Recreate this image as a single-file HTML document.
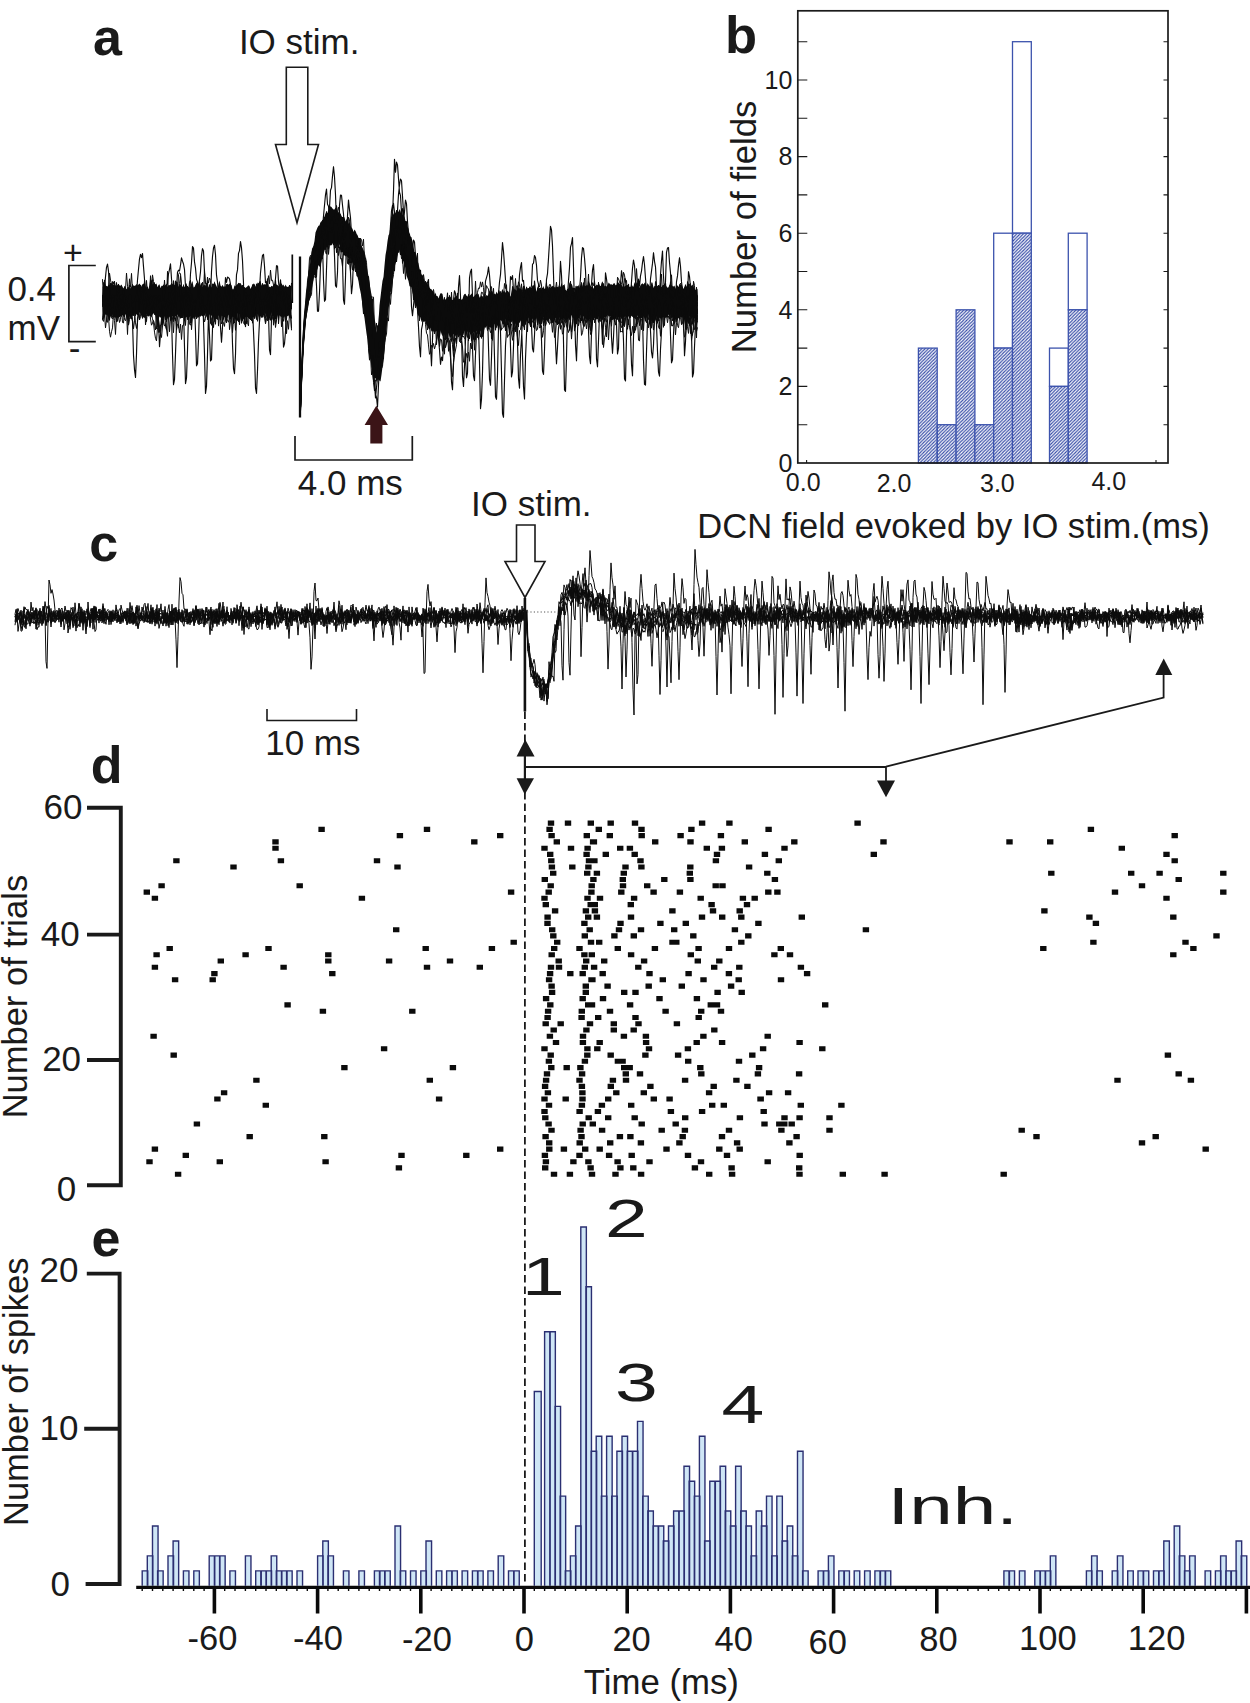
<!DOCTYPE html>
<html lang="en"><head><meta charset="utf-8"><title>Figure: DCN field and unit responses evoked by IO stimulation</title>
<style>html,body{margin:0;padding:0;background:#fff}svg{display:block}text{font-family:"Liberation Sans", Arial, Helvetica, sans-serif;fill:#1a1a1a}</style></head><body>
<svg width="1250" height="1703" viewBox="0 0 1250 1703">
<rect width="1250" height="1703" fill="#fff"/>
<defs><pattern id="hatch" patternUnits="userSpaceOnUse" width="3.3" height="3.3"><rect width="3.3" height="3.3" fill="#fff"/><path d="M-1 1L1 -1M0 3.3L3.3 0M2.3 4.3L4.3 2.3" stroke="#3349a6" stroke-width="1.15"/></pattern></defs>
<path d="M102.5 287.5l1-3.8 1-0.9 1 2.8 1 0.5 1 0.5 1-1.8 1 0.6 1-1.3 1 4.3 1-4.8 1 1.5 1-0.9 1 1.2 1 0.7 1-1.2 1-1.1 1 1.6 1 0.3 1-1.3 1 2.3 1 1.9 1-2.9 1 1.1 1 2.5 1-1.2 1-1 1 1 1 0.9 1-2.5 1-2.3 1 1.3 1 1.3 1-1.6 1-1.1 1 1.5 1-1 1-1.2 1 1.8 1 1.7 1-1.6 1-0.3 1-1.6 1 3.8 1 0 1 0.3 1 1.7 1-2.8 1-1.6 1 1.8 1-3.2 1 0 1 0.4 1 0.5 1-0.9 1 3.9 1-2.4 1-0.6 1 4 1-2.6 1 0.3 1-1.7 1 1.6 1-0.2 1-0.8 1 2 1-2 1 0.6 1-0.9 1 1.6 1-2.4 1 0.1 1 1.4 1-1 1-1.4 1-1.4 1 5.6 1-2.7 1 0 1 0.9 1 2 1-3.5 1 3.4 1-2.2 1-2 1 4.6 1-0.9 1 1.5 1-2.3 1-3 1-1.8 1 6.3 1-0.3 1-2.4 1-2.2 1 1.3 1 2.5 1-1.1 1 0.3 1 0.4 1 1 1-1.7 1-0.3 1 0.6 1 0.4 1 2 1-0.8 1-3.3 1 1.5 1 2.7 1-4.1 1 0.2 1-2.8 1 2.8 1 1.8 1 2.3 1-4.2 1-3.5 1 5 1 1.2 1-1.9 1 2 1-0.4 1 0 1-1 1-1.9 1 1.4 1-1.2 1 2 1-0.7 1 4.2 1 0 1-4 1 1.3 1-1.7 1-0.5 1-1.5 1 0.4 1-0.2 1 2 1 1.6 1 0.5 1-0.2 1 1 1-0.7 1-1 1-0.9 1 0.7 1 3.1 1-2.4 1-1.2 1-1.9 1 0.3 1 2.3 1 0.8 1-4.6 1 0.8 1-1.6 1-1.1 1 5 1-0.7 1-0.3 1-0.3 1 0 1 0.5 1 0.3 1 3 1-1.4 1 0.6 1-1.4 1 0.6 1-1.7 1-0.9 1 0.6 1 0.2 1 0.5 1 1.1 1-0.2 1 0.5 1-1.4 1 0.3 1-1 1 3.2 1-3.1 1 2.1 1 0.5 1-0.7 1 0.4 1-1.4 1 1.1 0 31.6 -1-1.4 -1 2.1 -1-3.9 -1 0.6 -1 1.9 -1 0.1 -1-1.3 -1 0.5 -1-0.5 -1 0.8 -1-0.5 -1-1.2 -1 0.8 -1-2.5 -1 3 -1-0.2 -1 1.4 -1-1.7 -1-0.3 -1-3.9 -1 3.3 -1 4.7 -1 0.4 -1-1.2 -1-2.6 -1-2.1 -1-2.4 -1 5.2 -1 0.2 -1 0.5 -1-1.9 -1 1.2 -1-0.9 -1-5.7 -1 3.9 -1 0.2 -1 0 -1 1.6 -1 0.8 -1 1.2 -1-2.3 -1 1.8 -1 0.8 -1-1.8 -1-0.5 -1 0.8 -1 1.4 -1 0.3 -1 0.7 -1-3.6 -1 0.7 -1-2.5 -1 0.6 -1-2.5 -1 7.6 -1 1 -1-4.7 -1-1.2 -1 1.9 -1 0.7 -1-1.6 -1-0.3 -1-1.1 -1 1.8 -1 5 -1-5 -1-0.6 -1 3.3 -1-3 -1 0 -1-2.9 -1-0.2 -1 3.4 -1-0.6 -1 0.9 -1-0.8 -1 6.8 -1-6.4 -1-2.2 -1 2 -1-1 -1-0.2 -1-1.7 -1 2.5 -1 2 -1-4.3 -1 3 -1-1.3 -1 1.4 -1-1 -1 1.3 -1-0.7 -1 1.4 -1 0.9 -1-3.9 -1 0.2 -1 2.7 -1-0.4 -1 0.1 -1 1.2 -1-2.2 -1 1 -1-0.6 -1 0.3 -1 0.5 -1-1.3 -1-2.1 -1-1.3 -1 3 -1 1.1 -1-2.3 -1 2.9 -1 0.4 -1-3.6 -1 2.2 -1 0.3 -1-1.9 -1 4.1 -1-3.2 -1 2 -1 1.1 -1-1.5 -1-1.3 -1 2.9 -1 1.4 -1-2.7 -1-1.3 -1 2.4 -1-0.5 -1 0.2 -1-0.8 -1-1 -1 3.2 -1-2 -1-2.4 -1 0.1 -1-0.5 -1-1.7 -1 1.8 -1 2.3 -1-0.8 -1-0.9 -1 1.2 -1-1.4 -1-2.6 -1 3.6 -1 2 -1-1.3 -1 2.3 -1-2.6 -1-3.4 -1-0.9 -1 0.5 -1 1.3 -1-0.2 -1 1.2 -1-3.2 -1 4.1 -1-0.4 -1-0.1 -1 1.7 -1-1.3 -1 2.7 -1 0.4 -1-3 -1-2.1 -1 1.5 -1 1.6 -1-2.4 -1 2.5 -1-1.1 -1 0.9 -1 0 -1 1 -1-1 -1 0.4 -1 0.4 -1-1.9 -1-2.1 -1 3.3 -1-0.8 -1-2.2 -1 4.3 -1-5.3 -1 2.5 -1-1.3 -1 2.6 -1 1.8 -1-1.9Z" fill="#0b0b0b"/>
<path d="M300.5 402.6l1-29.5 1-24.6 1-19.1 1-15 1-9.2 1-10.5 1-15 1-8.2 1-3.2 1-8.2 1-7.6 1-4.4 1-2.7 1-4.3 1-8.5 1-2.5 1-2.6 1-1.7 1-0.2 1-3.3 1-1 1-0.5 1-2.6 1-1.7 1-3.1 1-0.4 1-0.1 1-4.3 1-1.4 1-0.9 1 0.8 1 1.4 1 0.9 1 0.2 1-2.2 1 1 1 4 1-0.7 1 2.9 1-1.3 1 2.7 1 1.5 1-1 1 1 1 3.9 1-1.9 1-1.9 1 6.5 1-2.5 1 4.3 1 1.9 1 0.9 1 3.2 1-2.4 1 1.4 1 3.2 1 1 1 2.9 1 0 1 0 1 6.9 1 2.7 1 2.4 1 2 1 4 1 8.5 1 7.1 1 4.3 1 6.8 1 6.9 1 5 1 5.4 1 9.6 1 9 1 4.9 1 9.3 1-5.1 1-6.1 1-16.4 1-8.3 1-8.3 1-7.8 1-3.5 1-11.9 1-10.3 1-5.5 1-8.4 1-5.9 1-1.9 1-8.4 1-7.1 1-2.5 1-1.5 1-3.7 1 3.4 1-2.3 1-3 1 3.9 1-3.1 1 2 1 4.1 1-1 1 2.5 1-0.4 1 4.7 1-0.1 1 5.7 1 2.1 1 4.7 1 3.1 1 0.7 1 4.5 1 5 1 5.6 1-0.1 1 3.3 1 5.4 1 2.7 1 4.9 1 3.5 1 2.6 1 0.5 1 2.2 1 4.5 1-0.2 1 0.4 1 2.2 1-0.1 1 3.4 1 1.6 1 0.2 1 2 1-0.2 1 5 1-3.6 1 3.5 1-0.1 1 2.7 1-3.1 1-2.2 1-0.1 1 0.7 1 5.5 1 0.2 1-0.4 1 1.2 1-4.2 1 0.7 1 0.6 1-0.9 1 2.7 1 0.7 1 0.1 1-2.9 1-0.6 1-0.7 1-1.3 1 4.6 1-0.3 1-1.6 1 2.6 1-1 1-3.5 1-1.3 1-0.3 1 1.9 1 1 1-2.4 1 2.1 1-0.9 1-2.3 1 2.6 1 1.1 1-1 1-1.5 1-0.4 1 0.4 1-0.7 1 3.8 1-0.3 1-2.3 1 1.4 1 1.1 1-0.1 1-0.7 1-1.7 1 1 1-2.2 1-3.5 1 2.3 1-2.1 1 1.1 1 2.9 1-0.9 1 1 1-3 1 2.5 1-3.8 1 0.2 1 4.8 1-3.8 1-2.6 1 3.4 1-2.3 1 4.4 1-2.6 1 2.7 1-3.2 1 3.1 1 2.5 1-4.9 1-5.1 1 3.8 1-1.6 1 0.8 1 0.9 1-1.5 1-2.4 1 4.5 1-2 1-0.3 1 3.1 1-4.8 1-2.1 1 4.7 1-3.7 1 2 1 0.9 1-2.9 1 1.4 1 0.2 1-2.2 1-0.3 1 0.5 1 4.4 1 1.5 1-4.6 1 2.4 1-1.3 1 1.9 1-1.2 1 1.7 1-4.9 1 3.3 1-0.6 1-0.2 1-2.6 1 4 1-1.4 1-0.1 1-1.5 1-0.3 1 1.6 1-0.9 1 0.8 1-1.3 1 0.6 1 1.2 1-0.9 1-1 1-3.8 1 3.9 1-0.4 1-2.3 1 5.9 1 1.1 1-0.8 1-2.2 1-5.5 1 2.2 1-0.9 1 2.3 1 4.8 1 1.2 1-5.9 1-0.3 1 2.7 1-3.8 1 3.8 1-3.9 1-1.8 1 3.6 1 1.7 1-3.2 1 2.6 1-2.9 1 2.9 1-2.8 1 0.4 1 1 1 1.2 1-1.8 1 3.4 1-2 1-0.5 1-2.1 1 2.9 1-4.6 1 2.3 1 2.3 1-4 1-1.8 1 3 1 2.2 1-1 1 1 1-0.4 1-3.6 1 1.1 1 0.8 1-0.2 1 0.8 1-1.5 1-0.5 1 2.2 1-0.2 1-4.4 1 2.4 1 1.9 1-3.6 1 2.7 1 2.9 1-2.4 1 2.2 1-0.1 1-1.5 1 0.4 1 1.3 1 0 1 0.1 1-3.3 1 2.6 1 0.5 1-4.8 1 3.5 1-2.8 1-0.5 1 2.6 1 3.1 1-2.5 1-1.2 1-0.9 1 1.4 1-1.6 1-0.9 1 4.3 1-3.3 1 1.4 1 1.7 1 0.1 1-4 1 0.4 1 5.3 1-1.9 1-0.1 1 0 1 0.7 1 1.9 1-3.7 1 2.3 1-0.4 1 0.3 1 0.3 1-2.6 1-0.1 1 1.9 1 1.1 1-0.5 1-2.8 1 0.7 1 0 1 1.1 1 0.2 1-0.9 1 3.6 1-5.3 1 2.9 1 0.4 1-3.4 1 1.1 1 0.6 1 1.4 1 2.3 1-2.6 1-2.7 1 3.1 1-3.2 1 3.6 1 0.4 1-2.2 1 0.3 1-1.2 1 2.3 1 1.3 1 1.9 1-0.6 1-0.4 0 30.3 -1 0.7 -1 1.4 -1-3.7 -1 3 -1-3.9 -1 3 -1-3.9 -1 0.4 -1-2.4 -1 3 -1 0.2 -1-1.1 -1 3.1 -1-1.4 -1-1.6 -1 1.5 -1-1.5 -1-0.8 -1 3.7 -1-2.5 -1 4.1 -1-2.8 -1-0.3 -1 0.3 -1 0.2 -1-2.3 -1-1.7 -1 2.1 -1-1.8 -1 4.1 -1-1.5 -1 0.9 -1-0.8 -1 0.2 -1-0.2 -1 1.6 -1-0.1 -1-1.5 -1 1.9 -1-0.3 -1-2.8 -1 4.6 -1 0.8 -1 0.5 -1 1 -1-3.2 -1 0.3 -1-2.4 -1-2.1 -1-3.5 -1 6.3 -1 1.2 -1-1.8 -1-1.2 -1-0.6 -1 2.5 -1 0.2 -1 0 -1 0.8 -1-4.3 -1 2.7 -1 1.5 -1-1 -1-1.1 -1-1.4 -1 0 -1 2 -1 0.6 -1-2 -1-1.2 -1 2 -1-1.4 -1 0.3 -1-0.3 -1 2.6 -1 0.6 -1-2.2 -1-0.1 -1 0.7 -1-1.3 -1-0.9 -1 1.6 -1 2.8 -1-0.2 -1 0.7 -1-3.9 -1 0.4 -1 0 -1-0.2 -1-1.8 -1 2.3 -1 0.6 -1-0.6 -1 1.6 -1 1.8 -1 0.9 -1-2.7 -1-0.3 -1-2.4 -1 1 -1 3.4 -1-2.6 -1-1.3 -1 0.7 -1 1 -1-0.5 -1 6 -1-4.4 -1 1.6 -1-1.1 -1-0.4 -1-0.3 -1-0.1 -1-2.1 -1-0.9 -1 4.6 -1-5.8 -1 2.8 -1 0.9 -1 0.3 -1-0.4 -1 0.3 -1 1.5 -1-2.1 -1 0.3 -1-3.6 -1 3.9 -1 0.6 -1-1.5 -1 1.7 -1 0 -1 0.5 -1-1.3 -1 0.4 -1 0.2 -1-0.1 -1-0.2 -1-2 -1 3.5 -1-0.4 -1-1.9 -1-1.5 -1 0.8 -1 2.5 -1 3.5 -1-0.3 -1-1.5 -1-4.2 -1 2 -1 2.5 -1-1.4 -1 1.9 -1-2.8 -1-2.3 -1 2.2 -1 5.1 -1-4.1 -1 1.4 -1-0.9 -1 0.5 -1-2.9 -1-2.6 -1 6.4 -1-4.7 -1 0.3 -1 3.7 -1 1.7 -1 0.1 -1-9.1 -1 3.7 -1 3.8 -1 0.6 -1-0.6 -1 1.2 -1-0.5 -1-1.7 -1-0.4 -1 2.2 -1 0.5 -1 3.4 -1-4.1 -1 0.2 -1-0.3 -1-1.8 -1 0.1 -1 2.1 -1 0.6 -1-1.7 -1 0.2 -1-1.4 -1-2.9 -1 2.7 -1 4.5 -1 0 -1-0.4 -1-3.3 -1-0.8 -1 1.9 -1 3.2 -1 0.4 -1-1.3 -1 0.8 -1-1.6 -1 3.5 -1-0.4 -1 2.1 -1-1.4 -1 0.2 -1 2.4 -1-6.9 -1 2.2 -1 0.7 -1 1.5 -1-1.6 -1 4.1 -1-0.8 -1 2.3 -1-2.9 -1 2.9 -1 1.2 -1-2.3 -1 1.7 -1 0.6 -1-1.2 -1 2.6 -1 0.8 -1-0.2 -1-2.2 -1-0.8 -1-0.7 -1 2.9 -1-2.8 -1-0.3 -1 4.4 -1 1 -1-0.5 -1 0 -1 0.5 -1-3.4 -1 1.5 -1 0.7 -1-3.9 -1 2.9 -1 0.4 -1-0.9 -1 3.8 -1 0.2 -1-1 -1-3.3 -1 0.5 -1 0.4 -1-2 -1-1.9 -1 2.5 -1 3.7 -1-2.3 -1-3.4 -1-1.6 -1 3 -1 0.5 -1-1.7 -1 1.1 -1-3.3 -1 3.7 -1-3.3 -1 2.9 -1-4.3 -1 2.1 -1-1.3 -1-2.2 -1-1.3 -1-4.2 -1 1.2 -1-2.1 -1 0.5 -1 1.8 -1-4.9 -1-0.3 -1-0.8 -1-2.9 -1-8.1 -1 2.4 -1-5.4 -1-5.9 -1-3.7 -1-5.4 -1-0.7 -1-0.1 -1-5.2 -1-2.8 -1-2.9 -1-6.6 -1-4.8 -1-2.8 -1-0.9 -1-5.2 -1-1 -1-4.5 -1 2.6 -1 2 -1 4.7 -1 4.6 -1 3.9 -1 4.4 -1 5.8 -1 11.7 -1 4 -1 8.7 -1 7.6 -1 9.7 -1 8.9 -1 12.9 -1 9.4 -1 9.2 -1 7.1 -1 7.9 -1 6.9 -1-1.1 -1-0.6 -1-1.7 -1 4.3 -1-4.4 -1 0.8 -1-2.7 -1-6.1 -1-3.1 -1-7.4 -1-2.5 -1-5.7 -1-11.6 -1-6.4 -1-7.7 -1-7.6 -1-5.5 -1-7.7 -1-7.4 -1-6 -1-4 -1-6.5 -1-4 -1-1 -1-6.5 -1-3.4 -1-1.9 -1-1 -1-2.7 -1-2.7 -1 0.2 -1 0.3 -1-1.3 -1-1.4 -1 0.8 -1-0.9 -1-1 -1-2.5 -1 0.3 -1 0.2 -1-6.6 -1-4 -1 3 -1 2.2 -1-2.9 -1 0 -1-3 -1 2.8 -1 1.3 -1 0.2 -1-0.6 -1 0.4 -1 0.4 -1 1.9 -1 3.2 -1-1.3 -1 5.5 -1 1.4 -1 4.9 -1 3.9 -1 1.8 -1-2 -1 4 -1 2.3 -1 5.5 -1-2.1 -1 3.5 -1 6.5 -1 6.5 -1-2.8 -1 5.5 -1 6.5 -1 9.5 -1-1.1 -1 7.8 -1 10.3 -1 14.7 -1 14.9 -1 23.4 -1 28.3Z" fill="#0b0b0b"/>
<path d="M102.5 306.9l1-2.9 1 1.6 1-1.6 1 0.1 1 6.7 1 2 1-18.1 1 15.1 1-4.7 1-3.6 1-4.5 1-11.3 1 7 1 3.1 1-5.2 1 0.2 1 1.9 1 6.6 1-7.4 1 1.6 1 8 1 3.4 1 3.4 1-12.3 1 6.3 1-3.1 1-8 1-2.3 1-0.8 1 0 1 2.4 1 7.6 1 3.8 1-10.5 1 13.5 1-2.7 1 3.1 1-0.7 1-9.4 1 17.6 1 2.4 1-13.1 1-12.2 1 11.3 1-7.2 1 2.4 1 4.6 1 12.7 1-10.7 1 1.4 1 5.7 1-0.9 1-3.4 1 11.8 1 1 1 13.8 1-1.1 1-6.3 1-0.4 1-14.9 1 6.8 1-8.6 1 11.9 1-4 1-26 1 27.4 1-7.6 1 11 1-8.2 1-2.7 1 6.2 1 3.2 1-1.3 1 12.2 1-5.9 1 0.9 1 8 1-9 1 15.5 1-14.1 1-0.1 1-5.5 1-10.3 1-4.9 1 6.4 1-6.2 1 5.1 1-1.9 1-10.7 1 8.1 1 6.6 1 5.4 1-0.7 1-15.3 1 14.3 1-11.5 1 3.6 1-18.7 1 14.5 1-10.1 1 21.8 1 6.7 1-3.5 1-17.9 1 6.4 1-4.5 1 9.9 1-3.2 1-1.3 1 1.2 1 7 1-5.2 1 7.8 1-3.3 1-3 1-15.1 1-2.8 1-5.7 1-0.9 1 15.9 1 6.3 1-15.2 1 1 1 1.2 1 9.7 1 0.4 1 4.6 1 1.9 1-7.2 1 8.4 1-3.6 1 4.3 1 14.7 1-12.6 1 2.2 1-8.6 1-12.9 1-0.2 1-0.9 1 1.6 1 1.2 1 1.7 1 13.9 1-9.9 1 0.7 1 0.3 1 6.7 1-9.6 1 2 1 17.3 1-8.8 1-2 1-12.8 1 8.5 1-18.2 1 0 1 9.3 1 7.3 1-12.9 1 7.2 1 2.5 1 4.7 1-1.6 1-7.1 1-4.4 1-6.5 1 10 1 7.9 1-4.8 1 8 1-1.8 1-5.7 1-7.8 1-0.7 1 16.7 1-1.7 1 1.5 1 4.2 1-7.5 1 9.5 1 5.1 1-9.3 1 9.9 1-2.9 1-10.3 1-3 1 11 1-6.3 1-5.8M300.5 411.6l1-29.5 1-25.1 1-16 1-12.6 1-12.2 1-6.1 1-5.7 1-12.5 1 7.2 1-7.3 1-13.5 1 5 1-7.8 1 1.2 1 1.3 1-8.7 1-18.9 1 12.3 1-2.6 1 4.4 1-16 1 5.6 1-5.3 1-0.7 1 1.1 1-5.6 1-9.4 1 20.2 1-10.7 1-5.4 1-5.2 1-8.7 1 3.9 1 2.9 1 12.4 1-5.4 1-9 1 7.2 1-10.3 1 10.9 1 1.3 1 8.1 1-15.5 1-4.5 1 23.1 1-2.6 1-10.6 1 2.3 1 13.4 1 10.9 1-1.9 1 9 1-5 1 1.6 1 5.2 1-8.6 1 7.1 1-11.5 1-5.1 1 12.8 1-4.2 1 4 1 0.1 1 9.8 1-1.3 1 16.3 1 1.3 1 4.8 1 15.9 1-17.7 1 7.8 1-4.5 1 28.8 1 9.3 1 4.1 1 8.4 1-4 1 24.1 1-1.7 1-5 1 5.5 1-1.8 1-12.2 1-11.8 1-5 1-3.4 1-16.4 1 3.4 1-23.2 1-4.5 1 0.2 1-13.7 1-5.3 1-12.1 1 0.2 1-8.9 1-13.7 1 11.9 1-18.9 1-4.9 1 11.6 1-4.3 1 22.1 1-27 1-7.3 1 4.5 1 21 1-8.2 1-6.8 1 13.8 1-7.7 1 6.6 1 12.5 1-3.8 1 2.4 1 9.4 1 1.9 1 9.3 1-4.3 1 15.4 1-2.5 1-1.3 1 22.4 1 2.8 1 0.3 1-18 1 2.5 1 5.3 1-11.9 1 21.8 1-5.2 1-2.5 1-7.9 1 28.6 1-0.9 1-7.3 1-6.6 1 8.2 1 19.5 1-11.3 1 3.4 1 0.9 1-5 1 29.6 1-28.4 1 17.8 1-4.3 1-11.7 1 6.7 1-1 1-1.7 1-13.1 1 13 1 3.7 1-5.7 1 10.2 1-6.7 1-1 1 9.6 1-1.5 1-10.7 1 7.6 1-1 1 2.5 1-0.5 1-12.6 1-1.5 1 1.7 1-11.6 1 0.9 1 12.6 1-12.8 1 2.2 1 5.5 1-6.1 1 6.8 1-21.2 1 19.5 1-3.3 1-1.5 1 1.8 1-17.1 1 32.7 1-17.5 1-1.9 1-15.9 1 22.8 1-3.6 1-0.2 1-4.4 1 10.6 1-10.1 1-4 1 12 1-12.4 1-9 1 24.8 1-9.8 1-7.6 1 7.1 1-7 1 1.2 1-3.8 1 1 1 10.7 1-0.3 1 2.6 1 5.6 1 10 1-15.6 1 1.6 1-3.7 1-7.3 1 11.2 1-18.7 1 15.6 1 19.2 1-29.4 1 14.5 1-17 1 11.4 1 9 1-4.9 1-9 1-1.9 1 0.4 1 10.5 1-7.3 1 8.4 1 3.7 1-3.9 1 0.4 1-3 1-14.5 1 14.6 1-20.7 1 24.9 1-10.4 1-6.2 1-4.2 1 1.3 1 6.8 1-3 1-1.2 1 12.7 1-11.4 1 0.3 1-11.5 1-9.6 1 9.2 1 8.5 1-4.1 1 2.9 1 8.3 1-3.5 1-0.9 1 5.1 1-9.9 1-16.4 1 7 1 17.1 1 11.8 1 4.2 1 0.8 1-8.4 1 7.6 1 1.9 1-13.6 1 2.8 1-8.2 1 1 1 4.8 1-13.2 1 10.2 1-11.8 1 9.7 1-10.3 1 4.2 1 2.5 1-7.3 1 8.9 1-4.1 1-10.2 1-15.6 1 18.2 1-1.4 1-1.6 1 5.4 1 10.1 1 7.8 1 10.1 1-5.1 1-10 1 5.1 1-15.9 1 15.1 1 3.2 1-4.4 1-1.8 1 0.7 1 2.1 1 12.9 1 19 1-9.7 1-3.7 1-5.9 1-8.5 1 20.2 1-17.5 1-1.6 1-4.5 1 3.2 1-2.8 1 5 1-18.6 1 2.9 1 13.6 1-12.8 1-0.2 1 25.6 1-1.2 1 1.3 1-21.8 1 16.2 1-8.8 1-12.4 1 12 1 7.4 1-9.3 1-10.7 1 9.7 1 1.9 1-4.9 1 21.4 1-7.5 1-4.5 1-4 1 23 1 1.1 1-22.3 1 0.3 1 4.1 1-17 1 6.7 1 8.1 1-19.1 1 0.4 1 1.3 1 7.1 1 15.7 1-5 1-10.6 1 2.9 1 5.4 1-9.9 1-3.3 1-2.5 1-4.7 1-4.8 1-10.4 1 19.7 1 11.1 1 13 1-22.3 1 4.3 1-6.3 1-4.8 1 13.1 1-10.4 1 4 1-1.3 1 9 1 5.2 1 5.6 1-2.6 1-14.3 1 4 1 6.7 1-11.1 1 11.3 1 7.3 1-12.3 1 3.8 1-3.8 1 4.2 1 0.8 1 9.4 1 6.6 1-15.2 1 4.4 1 17.8 1-6.7 1-3 1-29 1 9.4 1 20.3 1-4M102.5 305.9l1-5.7 1-7.9 1-2.4 1 8.6 1 6.3 1 0.3 1-3.6 1-0.7 1-17.2 1 21.6 1 4 1-0.2 1 7.3 1-13.8 1 9.3 1-6.8 1 2 1-7.4 1 3.8 1 11.3 1-17.7 1 2 1 0 1 12.7 1 22.8 1-22.9 1-17.8 1 16.3 1-4.6 1 6.2 1 1.2 1-7.8 1 2.8 1-7.1 1 7.3 1 0.3 1 11.6 1-3.4 1-9.4 1-1.1 1 5.4 1 1.9 1-14.9 1 0.3 1 16.8 1-16.8 1 1.7 1-11.3 1-6.6 1 17.9 1 1.1 1 4.5 1-0.9 1 8.2 1-12.2 1 6.4 1-8.6 1 1.9 1-4.9 1-0.9 1 2.1 1-0.1 1-2.7 1-3.7 1 7.9 1-0.8 1-10.7 1 9.2 1 4.2 1 12.7 1 8.4 1-17.9 1 9.5 1-11.2 1 4.1 1-7.6 1 5.7 1 14 1-8.7 1-0.1 1 3.9 1 4.8 1-24 1-4.6 1-3.5 1 18.6 1 7 1-14.7 1-4.8 1 3.1 1 8.2 1-7.8 1 5.2 1-1.8 1-15.6 1 4.5 1 17.3 1-1.2 1-16.7 1-5.1 1 9.7 1-22.2 1 25.1 1 9.6 1-23.9 1 22.1 1 3.8 1 17.1 1-4.3 1-3.3 1-1.9 1 0 1-2 1-2.5 1-7.7 1 2.5 1 10.4 1 5.5 1-10.7 1 1.1 1-10.9 1 6.2 1-12.7 1-8.8 1 9.3 1 7.7 1-10.8 1-6.1 1 20.6 1-4.3 1 22.9 1-16.8 1 3.3 1-16.4 1 11.6 1 9.5 1-4.6 1-8.4 1 21.4 1-10.1 1-7 1-4.7 1 6.9 1 15.3 1-19.8 1 1.9 1-2.6 1 10.8 1-4.1 1 6.3 1 0.6 1-9.4 1 7.6 1 4.3 1-21 1 6.2 1 18 1-14.2 1 3.1 1-12 1 10 1-7.9 1 5.1 1-0.1 1-10.4 1 20.7 1-6.5 1-7.3 1 4.4 1-6.8 1 7.9 1 4.4 1 5.9 1-0.6 1-12.5 1 14.7 1-23.3 1 18 1-7.8 1-14.1 1 0.1 1 8.8 1-2.9 1 0.3 1 9.8 1 1.4 1-0.8 1 6.9 1 1.8M300.5 406.8l1-30.7 1-19.7 1-13.4 1-12.5 1-11.4 1-5.3 1-5.2 1-7.5 1-2.5 1-2.1 1-1.8 1-15.7 1-9.2 1-0.7 1-7.1 1 15.3 1-17.4 1 0.8 1 1.7 1-8.7 1-11.2 1 9.5 1-6.4 1 1.1 1-5.6 1 0.4 1 5.3 1-4.7 1-8.3 1-7.5 1-5.3 1 1.7 1 5.2 1-10.2 1 12.5 1-10.6 1 6.8 1-7.1 1 5 1 4.2 1-4.5 1 8.1 1 12.8 1-4.7 1 0.7 1-14.5 1 7.7 1-16.9 1 2.6 1 11.8 1-1.8 1 9.2 1-5.1 1 4.9 1-1.1 1 4.2 1 3.2 1-2.5 1 2 1-6.4 1 1.9 1 5.9 1-6.8 1 20 1-1.4 1 4.4 1 17.8 1-3.6 1 10 1 12.6 1-2.3 1 0.4 1 0 1 33.1 1 0.4 1-7.6 1 18.9 1-8.6 1 13.7 1 1.2 1 5.8 1-15.5 1 20.6 1-23.2 1-5.5 1-9.7 1-17.2 1-0.4 1-7.3 1 8.6 1-15.5 1-10.2 1-18.2 1 10.6 1-20.3 1 11.2 1-8.8 1-0.8 1-22.8 1 3.5 1 11.8 1 18.5 1-19.7 1-9 1 12.3 1-5.4 1-5.7 1 10.8 1 2.8 1 10.3 1 5.9 1 14.5 1-1.6 1-7.6 1 1.4 1-4.3 1-15 1 32.3 1 0 1 7.7 1-10.7 1 14.1 1 5.5 1-5.3 1-5.5 1-2.8 1 22.4 1 3.2 1-8 1 4.7 1-10.3 1-8.1 1-2.8 1 6.5 1 13.8 1-7.4 1 10.3 1 2.6 1-6.1 1-11.1 1 14.9 1 9.2 1-15 1-9.8 1 42.5 1-6.2 1-3.2 1 20.8 1-10.7 1-0.8 1-1.2 1 6 1 12.1 1-11.3 1-7.4 1 5.8 1-30.9 1 18.3 1-12.5 1 11 1-5 1 5.5 1-0.9 1-1.3 1-2.4 1 3.4 1-15.5 1 7.9 1-12.4 1 5.7 1-0.5 1-1.4 1 9 1 19.9 1-10.7 1-8.1 1-15.8 1 22 1-0.2 1-4.3 1 7.5 1-19.9 1 6.5 1-8.6 1 2.5 1 2.2 1 5.9 1 1.8 1-13 1-6.7 1 22.1 1-17.8 1 7.4 1 5 1-6.9 1-2.9 1 11.1 1-10.2 1-1.7 1-4.6 1 15.1 1-6.9 1 6.9 1-8.6 1-8.1 1-0.1 1 6.1 1-9 1 10.2 1 3 1-8.6 1-17.9 1 4.1 1 26.2 1-0.5 1 2.8 1-2.2 1 10.1 1-24.4 1-10.8 1-7.9 1 17.4 1-2.1 1 1.6 1 0.7 1-14.1 1 11.8 1-4.4 1 5.7 1-5.7 1 0.3 1 1.9 1 1.7 1-3.8 1 15.6 1-0.7 1 7.5 1-20.5 1 20 1-7.2 1 0.7 1-5.3 1 3 1-9.7 1 15.7 1-3.8 1 6.7 1 5.9 1-8.9 1 2.4 1 5.7 1 10.4 1-12 1-8.6 1 6 1-7.5 1 14.7 1-19.8 1 16.9 1 7.3 1-24.1 1 11.1 1-4.2 1-2.4 1-11 1 6.8 1-5.4 1 13.4 1 17 1-6.2 1-21.4 1-4.4 1 6.6 1 12.9 1-10.1 1-10.7 1 17.2 1 7 1-3.4 1-11 1 14 1-8.2 1-21.2 1-4.8 1 1.1 1 5.7 1 5.4 1-12 1-3.2 1 20.4 1-9.6 1-11.9 1 3 1-4.7 1 12.5 1 1.2 1-9.3 1 11.4 1-2.2 1-3.3 1-2 1-2.5 1-3.2 1 15.2 1-4.7 1-2.5 1-5.5 1 2.7 1 1.8 1 3.3 1-0.8 1-3.6 1 11.9 1 9.8 1-10.3 1 11.8 1-8.9 1 1.3 1-13.1 1 12 1-13.6 1 8.1 1-6.4 1-13.6 1 0.3 1 24.5 1 5.9 1 6.8 1-0.5 1-26.3 1 15.6 1-8.5 1 1.2 1-1.5 1-1.4 1 0.5 1 14.3 1-7.4 1-7.8 1 0.4 1 10.8 1 1.1 1-2.7 1-11.5 1 11.3 1-0.6 1-8.3 1 13.8 1-7.2 1 0 1-0.9 1 21 1 8.7 1-9.5 1-2.2 1-16.2 1 4.6 1-3.4 1 14.1 1-8.7 1-3.5 1 1.2 1-1.3 1 15.2 1-12 1-8.2 1 2.6 1 5.3 1-16.2 1-6.4 1-10.7 1 20.6 1 7.9 1-0.8 1 5.5 1 9.4 1-20.1 1 19.4 1-8.9 1 5 1 0.9 1 10 1 1.1 1-5.7 1-11.6 1-6.2 1 12.5 1 9.7 1-5.8 1-2.3 1 9.3 1-14.7 1 7.9 1 11.7 1-1.2 1-11.8 1 5.7M102.5 319.8l1-4.4 1-0.9 1 13.4 1-8 1-6.6 1-7.2 1 12.8 1-8.7 1-0.8 1 5 1 0.1 1-0.9 1-5.7 1 1.7 1-3 1-1.5 1-4.5 1-7.2 1 9 1 1.9 1-12.8 1 7.9 1-9.9 1-16.4 1 13.2 1 14.1 1-3.5 1 11 1 11.1 1-16.3 1-0.8 1 6.6 1 7.2 1-3.5 1-7.9 1-0.1 1-2.8 1-6.7 1 2.7 1-10.8 1 14.5 1-3.6 1 27.5 1-8.5 1-15.2 1 8.4 1 0.3 1 9.1 1 6.1 1-2.2 1-2.5 1 3.4 1 6.1 1-12.3 1-2.4 1 8.9 1 7.7 1 1.7 1 3.9 1-11.5 1-4.9 1 5 1-1.3 1 4.5 1 7 1-23.3 1 18.8 1-13.4 1-13.6 1 11.3 1-3.6 1-3.4 1-7.7 1-1.6 1 12.9 1-6.1 1 3.6 1 0.2 1 1.5 1 4.4 1-5.3 1-4.6 1-7.4 1 6.1 1 14.6 1-15.5 1-5.1 1 8.5 1-13.3 1 0.1 1 1.9 1-4.2 1-4.3 1 3.1 1-6.3 1 5.2 1 7.5 1-10.2 1-3.6 1 7 1 14.4 1-2.1 1 3.7 1-7.2 1-6.7 1 5.7 1 3.5 1 17.3 1 5.9 1-0.1 1-3 1-0.5 1-8 1 0.6 1 5.5 1-17.1 1 1.1 1 10.4 1 10 1-2.3 1 1.3 1 3.5 1-11.1 1-19.1 1 6 1-6.4 1 4.9 1 6.6 1 6.7 1 18.7 1-12.8 1-2.7 1-3.4 1-21.3 1 6.6 1 1.3 1 9.5 1-0.7 1-8.9 1 14.7 1-2.6 1-7.5 1 4 1 0.6 1 13.3 1 3.1 1-22.2 1 16.3 1-11.5 1-3.4 1 4.7 1-11.4 1 9.8 1-20 1-0.4 1 2.6 1 21 1 0.2 1-2.7 1-0.7 1-2.6 1 11.2 1 7 1-5 1-1.8 1-0.4 1-4.3 1 8 1-12.7 1 8.3 1 4.7 1-4.9 1 8.1 1-6.1 1-6.2 1 2.9 1-1.2 1-6.6 1-4.5 1-3.4 1 18.8 1-20.2 1 2.4 1 15.5 1-4.2 1-2.6 1-3.9 1 10 1 3.6M300.5 408.5l1-29.5 1-20.5 1-19.7 1-11.5 1-9.6 1-10.1 1-1 1-4.5 1-20.8 1 2.7 1-3.3 1 1.3 1-13 1-8.7 1 0.5 1 1.7 1-16.5 1-7.8 1-3.5 1-11.1 1 13.8 1 14.5 1-12.4 1 5.7 1-10.2 1 0.5 1 7.2 1 6.4 1-9.6 1 2.8 1-0.3 1-6.6 1 9.7 1-10.9 1 3.3 1 15.2 1-9.8 1-8.1 1 3.7 1-8.4 1 10.9 1-3 1 11.9 1-10 1 11.6 1-3.2 1 4.5 1 11.6 1-22.4 1 1.1 1-1 1 4.8 1 4.8 1-3.5 1-2.8 1-6 1 3.9 1 5.8 1 5 1 0.9 1 8.2 1 13.1 1 8 1-4.9 1 21.4 1 3.4 1 6.5 1-2.2 1 7.1 1 10.7 1-2 1 1.4 1 23.2 1 10.3 1 5 1 10.2 1-1.7 1-24.5 1 9.2 1-6.5 1 0.2 1-3.1 1-12.2 1-10.2 1-15.2 1-16.8 1-9.7 1-8.5 1-20.4 1-0.2 1 2.3 1-9.8 1-14.2 1-6.3 1 17.6 1-9.9 1 17.2 1-20.6 1 6.6 1-9.5 1 2.5 1 7.5 1 4.9 1 16.1 1-3.2 1-15.2 1 13.6 1 7.7 1-2.6 1 8.6 1 15.9 1-19.8 1 18.5 1 12.8 1-17 1 24.3 1 6.6 1-4.9 1 0.7 1-7 1 7.6 1-0.7 1-10.1 1 7.1 1-11.5 1 0.4 1-4.5 1 5.1 1-1.6 1 20.8 1-15.5 1 22.1 1-5.8 1 3.1 1 13 1-13.2 1 8.1 1-2.5 1-3.8 1 2.9 1 8.4 1 1.6 1-12.9 1 5.3 1 16.6 1-12.5 1 16.1 1-17.8 1-1.7 1-16.3 1 9.5 1-6.2 1 2.7 1 7.7 1-4 1-12.5 1 4.5 1 7.4 1-10.8 1 0.7 1 34.3 1-7.1 1-16.3 1 0.4 1 2.6 1-7.2 1 3.8 1-13.9 1 0.4 1 21.3 1 17.9 1-29.2 1-13.2 1 29.7 1-2.9 1-5.4 1 13.4 1-6 1-3.5 1 13 1-4.4 1-4.5 1 2.5 1-4.3 1 0.8 1-22.2 1 4 1-4.1 1 4.5 1-5.9 1 17.6 1-5.6 1-2.6 1 6.9 1 1.5 1-6.7 1-15.6 1 14.3 1-3.9 1-7.1 1 7.6 1-10.8 1 9.5 1 4 1-1.4 1-7.2 1 17.3 1 2.8 1 5.4 1-3.6 1-2.1 1 6 1 7.1 1-9.2 1-0.1 1-2.1 1-10.5 1-4.1 1 10.3 1-10.5 1-9.3 1 12.8 1 11.7 1 1.4 1-27 1 0.9 1 10.1 1-3.2 1 2.9 1-0.9 1 9.5 1-6.2 1 14 1-4.8 1 0.8 1 7.2 1-1.3 1-13.7 1 0.3 1 0.6 1 1.1 1-1.5 1 9.9 1-9.1 1 9 1-3.3 1-3 1-1 1 5.8 1-2.6 1-0.2 1-8.9 1-14.1 1 21.8 1 2 1-9.8 1 1.3 1 4.4 1 1.6 1 4.5 1 1.2 1 8.6 1-1.5 1-20.4 1 5.1 1-0.9 1 12.6 1 3.4 1-4.1 1-6.6 1 17.3 1-14.1 1-12.1 1 14.2 1-22.1 1 19.1 1-14.7 1 2.7 1 3.1 1-5.3 1-2.5 1-2.6 1 7.2 1-7.5 1 1.9 1-8 1-7.3 1 5 1 15.4 1-4.9 1-3.4 1-11.9 1 25.2 1-14.6 1-2 1-1.2 1 11.4 1-8.7 1 11.5 1 4.7 1-16.8 1-1.4 1-7.8 1 7.2 1 11.8 1-0.4 1-9 1 11.3 1 2.1 1-4.5 1-13.7 1 0.4 1 17.1 1-8.5 1-0.1 1 2.8 1-2.6 1 0.8 1 8.8 1 10.2 1 2.3 1-5.5 1-2.5 1 5.9 1-7.2 1-1.8 1-1.8 1-9.6 1 8.7 1-2.4 1-2 1-1.8 1-5.5 1-8 1 16.9 1-3.2 1-9.2 1-4.4 1 8.7 1-10.5 1 5.1 1 3.8 1 11.8 1-14.3 1 9.7 1 0.8 1 7.5 1 11.1 1-6.2 1-2.3 1 8.8 1-18.5 1 7 1-6.3 1 1.2 1 0.5 1 6.2 1 9.2 1 1.4 1-13.9 1 2.9 1-13.1 1 1.1 1-1.8 1 7.1 1 4.5 1 7 1-6.9 1 3 1-8.6 1 14.3 1 1.5 1-1.5 1-7.6 1-7.8 1 2.6 1 6.2 1-11.5 1 12.2 1-3.2 1-5.1 1-10.9 1 6.8 1-0.3 1-13.7 1 8.9 1 8.2 1-4.5 1-20.7 1-0.6 1 18.3 1 9.8 1-9.1 1 3.2 1-2 1-0.2 1 10.7M102.5 296.4l1 21.9 1-10.4 1 3.6 1-6 1 8.5 1 3.1 1 14.1 1 6 1-5.4 1-3.9 1-14.6 1-5.9 1 8.8 1 5.8 1-7 1 2.4 1-1.2 1-22.6 1 5.2 1 13.9 1-1.2 1-11.9 1 5.5 1 9 1 3.8 1 7 1-5.6 1-7.2 1-4.9 1 4 1-10.4 1 11.3 1 10.8 1 5.6 1-5.9 1-11.5 1 8.2 1-9.8 1-22 1 10.9 1 5.7 1-14.1 1 12.4 1-13.9 1 11.4 1 7.8 1-12 1 12.5 1-1.3 1-6.1 1-3.7 1 6.9 1 3.9 1-14 1 1.3 1 12.8 1-12.3 1 9.1 1-15.5 1 7.3 1 9.2 1-4.5 1-2.2 1 6.7 1 5.3 1-10 1 8.9 1 4 1 3.7 1-11.3 1 11.9 1-7.3 1-7.3 1 0.8 1 9.6 1-3 1 3.8 1-6.4 1 9.3 1-8.5 1 0.9 1 0.1 1 15.2 1-15.6 1-3.5 1-1.3 1 5.8 1 10.2 1 1.9 1-16.6 1 4 1 5.2 1-7.2 1-2.3 1 2.3 1-4.7 1-4.9 1 12.6 1-15.5 1 6.9 1-3.2 1 11.6 1 0 1-3.2 1 5.4 1-10.3 1-3.3 1 15.8 1 9.6 1-8.6 1-0.4 1 3.7 1-7.6 1 6.5 1-2.8 1-4.7 1-5 1-6.1 1 4.7 1 4.4 1 4.8 1 3 1-19 1 8.4 1 6.4 1-1.8 1 4.8 1 2.7 1-17 1-0.9 1 15.4 1-1.4 1-5 1-15.9 1 17.2 1-0.4 1-9.6 1-11.1 1 6.8 1 2.5 1 11.6 1 10.5 1-12.2 1-2.1 1 0.9 1-2.7 1-8.6 1 2.5 1 17.9 1-10.3 1-4.6 1 16.5 1-12.3 1 13.1 1-5.9 1-10.6 1 9.2 1-3.8 1-5.7 1 7.3 1-3.7 1 2.9 1-4.6 1-7.7 1 13.2 1-9.1 1-3 1 12.8 1-15.2 1 8.5 1 21.2 1-9.1 1 11.4 1-7.9 1-10.3 1-4.4 1-1.9 1-7.4 1 1.5 1 11 1 1.9 1-1.9 1 1.2 1 24.4 1-13 1 8.6 1-15.5 1-2.3 1 16.5M300.5 402.9l1-24.3 1-23 1-17 1-11.8 1-6.7 1-6.4 1-12 1-6.3 1-1.9 1 2.7 1-14.6 1-8.1 1 3.4 1-3.9 1 1.2 1-18.9 1 5 1 0.8 1-3.1 1-11.4 1-14 1 16 1-3.5 1 2 1 5.5 1 1.6 1-18.7 1-8.9 1 4.2 1 9.6 1 2.4 1-1.2 1-16.8 1 4.8 1-3.5 1 5.2 1 0.2 1-1.9 1-3.8 1 15 1-3.4 1 13.3 1-5.4 1-0.9 1 10.1 1-9.3 1 9 1-5 1 6.2 1-6.2 1 0.6 1-0.1 1 8.7 1 1.1 1-9.1 1 22.2 1-7.1 1 3.4 1 12.2 1-2.3 1 15.4 1-16.4 1 26.4 1 3.1 1 6.3 1 10.6 1-4.2 1 17.3 1 11.5 1 7.1 1-1.6 1-4.1 1 16.2 1 4.1 1 3.9 1 2.1 1-11.8 1 7 1 7.2 1-16.9 1-22.1 1 9.3 1-30.2 1-8.2 1-11.1 1 4.7 1-16.1 1-21.4 1-3.8 1 8.2 1-3.3 1-15.6 1-12 1-12.8 1-11.9 1 5.8 1 4.8 1-7.4 1-4 1 25.8 1-21.2 1 22 1 7.2 1 16.2 1 14.4 1-17.2 1 5.6 1 2.6 1 0.6 1 4.6 1-2.6 1 16.8 1-3.2 1 5.8 1 10.4 1 1.7 1-4.4 1 5.3 1 15.5 1-12.6 1-0.6 1-7.5 1 4.6 1 1.1 1 10.8 1-4.7 1-4.5 1 5.4 1 2 1 7.5 1 6.3 1 2.6 1-9.3 1 12 1-9.2 1 20 1-12.8 1 8.7 1-9.1 1-4.5 1-6 1 11.4 1 6.5 1-0.8 1 9.6 1-3.8 1-4.8 1-0.8 1 10.6 1 9 1 14.4 1 4.3 1-14.1 1-7.4 1-5.1 1-5.2 1-14.7 1-18.6 1 20.4 1 10.9 1-1.8 1 6 1 15.3 1-1.1 1 0 1-7.7 1 4.4 1-5.8 1 9.2 1-18.3 1 5.8 1-14.4 1-0.9 1 16.7 1-21.5 1-8.4 1 1.7 1 14.9 1-9.5 1-18.1 1 10.7 1 16.7 1-12.2 1-2 1-8.4 1 0.9 1 0.6 1-5.4 1 0.4 1-4.1 1 0.5 1 12.5 1-5.7 1 6.2 1 1.8 1-2.7 1 3.5 1 6.3 1-9.3 1 11.5 1-2.3 1-0.4 1-1.1 1-6.5 1 7.3 1-2.9 1-2.6 1 4.5 1-17.8 1 15.3 1 8.4 1 7.3 1-7.2 1-19.1 1 9.5 1 1.1 1 12.2 1 8.7 1-15 1-0.9 1-7.1 1-11.6 1 13.5 1 5.6 1-34 1 18.7 1-11.5 1 7.9 1-5 1-1.2 1 15.1 1-10.4 1 13.6 1-18.6 1-0.1 1 1.1 1 7.1 1-11.3 1 19.7 1 6.5 1-1.9 1 11.6 1-6.5 1-12.9 1-8.7 1-1 1 9.7 1-3.6 1-6.6 1 5.4 1 5.5 1-4.2 1-2.8 1-11.1 1 10.4 1-17.5 1 20.5 1 10.1 1-10.9 1 7 1-11.5 1 11.1 1-0.8 1 1.9 1 1.6 1-0.3 1-19.6 1-2.1 1-12.2 1 4.5 1-0.6 1 0.3 1-4.5 1 18.9 1 3.2 1-13.2 1 3.7 1 10.9 1-10 1-0.8 1-2.6 1 22.1 1 2.3 1-3.1 1-14.9 1 1 1 9.4 1-13.3 1-3.9 1 8.7 1 11 1-3.2 1 1.8 1-6.5 1-1 1 2.2 1 5.5 1 6.3 1-11.2 1 10 1 1 1 7.6 1-5.9 1-5.9 1 9.2 1 9.8 1-27.6 1-5.6 1 20 1-6.7 1 9.2 1-15.4 1 5.7 1 2.2 1 6.3 1-7.3 1-13.7 1-0.8 1 4.7 1 14.3 1 0.4 1-2.6 1 5.4 1-7.8 1-2.5 1-2.2 1 16.3 1-9.7 1 7.7 1 4 1 4.2 1-9.2 1 7.5 1-7.8 1 4.3 1-6.5 1 0 1-3.5 1-12.1 1-8.5 1 2.6 1 9.5 1-10.2 1 6.7 1 10.1 1-15.7 1-14.4 1 20.5 1-12.8 1-0.6 1-1.7 1 20.1 1-4.8 1-4.7 1 3.4 1-6.2 1 13 1-15 1 7 1-1.9 1 7.5 1 4.3 1-4.4 1 13.6 1-20.6 1-0.4 1-6 1-0.8 1 9.3 1-8.8 1 19.4 1-12.4 1 7.6 1 4.3 1-9 1 6.4 1 10.9 1 2.2 1-9.6 1-12 1-0.7 1 2.5 1 20.4 1 8.9 1-2.3 1-11.7 1-2.4 1-11.4 1-15.9 1-3.3 1 12.5 1-2.5 1 3.2 1-11.8 1 17.8 1 15.2 1-9.5M102.5 281.7l1 0.8 1 12 1-2.1 1-1.1 1 9.4 1 6.9 1 0.8 1-8.9 1 5 1 1.3 1 4.4 1-14.7 1-8.1 1 13.7 1-4.4 1-1.7 1-1.8 1 10.8 1-6.1 1 4.8 1-2 1-2.5 1 13.3 1-12.1 1-0.9 1 4.6 1-17.9 1 1.7 1-13.5 1 17.4 1 11.5 1-5 1-6.7 1 1.1 1-1.8 1 3.7 1 2.2 1-9.9 1 14.8 1 3.2 1-6.4 1 16.3 1 2 1-14.8 1 6 1-16.6 1-1.4 1-7.4 1 9.1 1 11.4 1-10.2 1-9.3 1 29.9 1 16.4 1-4.7 1-20.2 1 3 1-8.5 1 5.5 1 4.2 1 14 1-11.3 1-0.2 1-19.1 1 4.8 1-2 1 0.1 1 2 1-4.6 1 7.9 1 4.2 1 7.2 1 4.9 1-10.7 1-19.5 1 8.8 1 12.9 1 9.7 1-3 1 3.6 1-15.2 1-10.5 1 9.7 1-14.3 1 6.1 1 11.9 1-4.7 1 11 1-8.4 1 14.2 1-19.6 1 18.5 1-14.3 1 10.6 1-7.6 1 10.3 1-33.9 1 7.5 1 18.8 1-9.3 1-3.9 1 5.2 1 12 1-16.3 1-4.2 1 3.5 1 7.1 1-5.3 1-9 1 8.7 1 6.2 1 4.8 1 2 1-17.4 1 7.4 1 1 1 13.2 1 4.1 1-8.7 1 0.5 1 9.8 1-6.8 1 7.5 1 2.8 1-9.7 1-8.2 1 24.7 1-8.7 1-6.1 1-7.2 1-4.9 1-1.7 1 3.8 1-14.6 1 0.5 1 1.1 1 6.2 1 0.4 1-4.2 1-9.1 1 7.9 1 2.7 1 4.5 1-1 1 11.1 1-8.5 1 3.9 1-6 1 21 1-8.1 1-2 1 1.4 1-1.3 1-3.7 1 6.4 1-17.5 1 1.8 1 4 1 2.6 1 3.9 1 6.6 1-1.1 1 4.3 1-8 1 10.7 1-5.2 1-0.6 1-21.6 1 8.8 1-1.3 1-11 1 15.5 1 6.2 1 4.1 1-2.3 1 3.2 1-24.4 1 11.9 1-20.3 1 5.3 1 2.1 1 9.2 1 2 1 0.7 1-11.4 1 2 1 1.5 1 12.1 1-5.9M300.5 411.6l1-32.8 1-28 1-13.8 1-16.8 1-5.9 1-13.9 1-14.1 1-2.8 1-15.3 1-10.8 1 3.3 1 4.3 1-4 1-2.9 1 1.2 1-6.6 1-3.6 1-6.3 1 5.1 1-17.4 1 2.5 1 6.5 1-3.2 1-3.3 1-3.9 1-4.7 1 4.1 1-7.2 1 2.6 1-3.1 1 11.9 1 7.6 1-4 1-2 1-2.7 1-3.7 1 6.3 1-10.2 1-6.2 1 9.7 1 8.3 1 4.9 1-9.2 1-9.9 1 6.8 1 1.8 1-9.3 1 14.8 1-3.4 1 10.8 1-11.6 1 1.6 1 9.2 1 8.5 1-8.8 1 14.7 1 6.5 1-21.6 1 15.3 1 11 1-4 1 9.3 1 5.2 1 3.4 1 10.7 1 10.3 1 6.5 1 10 1 5.2 1 18.2 1 3.8 1 15.3 1 20.9 1 8.3 1-11.1 1 0 1-7.8 1-17.1 1-15.7 1-7.6 1-5.2 1-12.4 1 5.6 1-4.3 1-12.9 1-17.9 1-17.5 1-0.9 1-7.5 1-2.5 1 7.7 1-17 1-12.5 1-5.3 1 9 1-9.9 1-3.1 1 21.7 1 3.5 1 4.7 1-12 1 11.2 1-8.3 1 0.6 1-15.7 1 12.8 1 16.4 1 0.8 1-11.7 1 27.3 1-1.1 1 9 1 13.4 1 1.4 1 8.8 1-4.9 1-17.5 1 4.4 1 16.3 1 2.1 1-1.2 1-1.1 1 3.6 1 7.1 1-6.7 1 11.5 1 8.5 1-7 1-7.9 1 2.1 1-14.7 1 7.7 1 10.4 1 4.2 1-10.5 1 8.6 1-7 1-8 1 11.8 1 1.9 1-3.7 1-8.7 1 10 1-5.8 1 10.1 1-10.1 1 17.7 1-6.8 1 8.5 1-13.9 1 14.5 1-0.6 1 18 1-26 1-8.2 1 18.2 1-6.7 1-25 1 13.7 1 11.1 1 10.1 1-9.8 1-21.8 1-4.1 1 34.7 1-4.9 1-1.8 1-15.6 1-5.4 1-4.4 1 0.1 1 5.5 1 4.4 1 10.2 1 14.6 1-11.8 1-5.4 1 16.8 1-8.4 1-16.1 1-18.6 1 25.9 1 1.8 1-19.6 1 13.5 1-11.1 1-4 1 8.1 1 0.6 1 3.1 1 13.3 1-15 1 2.5 1-2.5 1-0.9 1-4.4 1 3.8 1 3 1-0.8 1-19 1 2.7 1-1.7 1 1.5 1 5.8 1-4.3 1 9 1 12.7 1-2 1-7.1 1 2.6 1-8.4 1 11.6 1 7 1-25.7 1 19.4 1-10.5 1-2.9 1-2.7 1-11.6 1 0.1 1 4.4 1-2.1 1 5.8 1 0 1 26.4 1-25.5 1 9.8 1-12.3 1 13.1 1 17 1-8.4 1-13.6 1 1.2 1 14.1 1-15.5 1-3.5 1-9.5 1-2.7 1 8.1 1-9 1 20.3 1-14.9 1 11.4 1 1 1 8.2 1-19.7 1 5.4 1-10.3 1-4.7 1 0.1 1 9.2 1-7.5 1 0.1 1 20.2 1-17.5 1-7.1 1 12.1 1 13.3 1 9.2 1-8.4 1 8.6 1-6.1 1 2.4 1 0.1 1-13.6 1 9.2 1-1.7 1-2.2 1-13.1 1-10.6 1 26.7 1-5 1 3.9 1 24.3 1-7.3 1-1.6 1-6.3 1 9.9 1-4.7 1-2.9 1 17.2 1-2.7 1-6.6 1-11.6 1 6.7 1 7.8 1-9 1-4.2 1 1.3 1-9.4 1-10.6 1 2 1 4.9 1 5.6 1-11.6 1-6.7 1 5 1-12.1 1 13.9 1-2.9 1-0.6 1-7 1 17.9 1 5.9 1 4 1-1.3 1-9.1 1-4.9 1 8.6 1-5.9 1 17.4 1-17.2 1-10.3 1 2.2 1 19.1 1-10.5 1 3.3 1 6.5 1 3.8 1-12.2 1 4.7 1-11.4 1 12.5 1-18 1-0.7 1 7.6 1 0.4 1 3.8 1 3.8 1-16 1 21.7 1-10.6 1 8.4 1-16 1 5.7 1 13.4 1-14.8 1 8.7 1 2.1 1-1.1 1 7.3 1-4.4 1 18.8 1-19.2 1 9 1 2.1 1-19.2 1-8.8 1 15.6 1 1.8 1-3.3 1 3.4 1-14.6 1 0.2 1 8.8 1-4.2 1-1.2 1-16 1 3.6 1 14.3 1-10.6 1-1.8 1-5.2 1 7.7 1 5.3 1-11 1 10.5 1 6.8 1 5.1 1-2.1 1-2.2 1-4.4 1-4.6 1 8.6 1 13.8 1-16.9 1 8.8 1-6 1-17.5 1-4.2 1 1.7 1 10.6 1 1.3 1-7.6 1-2.2 1 10.7 1-16.1 1 3.1 1 8.5 1-2.6 1 11.5 1 6.6 1-8.9 1-1 1 1.7 1-13.3 1 11.4M102.5 295.1l1 8.1 1-23.3 1 5.9 1 8.9 1-1 1 9.3 1 3.8 1-23.7 1 15.9 1-17.5 1 2.1 1-2.5 1 13.6 1-12.2 1 8.5 1-6.6 1 25.2 1-11.2 1 6 1-12.4 1 4.5 1 20.4 1-5.6 1-20.5 1 7.1 1 1.9 1 16.4 1-9.3 1 3.9 1 8.9 1 9.1 1-7.9 1-20.6 1-6.4 1 17.5 1 1.4 1-21.2 1 4.6 1 4.4 1-1.4 1 1.6 1-5.7 1 10 1-24.7 1 13.9 1 2 1-9.6 1 14.9 1-20.6 1-1.4 1 17.5 1-1.2 1 4.4 1 5.8 1-13.5 1 12.6 1-10.9 1-1.7 1 8.4 1-3.9 1-6.9 1 4.1 1 2 1 3.4 1-28.4 1 27.2 1-12.8 1 14 1-8 1 9.9 1-18.2 1 14.6 1-4.3 1 2.6 1 1.5 1-23.1 1-2.1 1 1.2 1 11.7 1 8.7 1 7 1 0.8 1 6.5 1-19 1 9.4 1-6.1 1-10.6 1-1.9 1 16.7 1-3.9 1 1.1 1-4.9 1-2.4 1 32.1 1-13.4 1-10.4 1 7.4 1-10.1 1-7.8 1 18.9 1-9.2 1 2 1-7.3 1 0.8 1 29.8 1-18.9 1-15.2 1 6.8 1 4.1 1 13.6 1 3.4 1-9.2 1 20 1-14.8 1-13.3 1 11.4 1 4.5 1-7.2 1-8.8 1 0.3 1-1.6 1 13.6 1 0.2 1-8.4 1-0.3 1 6.7 1 10 1-10.2 1 8 1-9.2 1 11.8 1-12.2 1 3.1 1-12.1 1 3.7 1 22.3 1-7.6 1-16.1 1 11.3 1-12.4 1 6.6 1-14.5 1 8.2 1-4 1-1.5 1 0.3 1 26.5 1-8.8 1-8.3 1-16.9 1 18.3 1 2.8 1-10 1-11.9 1 10.5 1 0.3 1-6.7 1 19.8 1 3.6 1-7.5 1-3.5 1 11.3 1 10.3 1-8.6 1-4.4 1-9.3 1 11.8 1-9.6 1 0.1 1 2 1-3.9 1 5.8 1 13.1 1-26.4 1 5 1 6.5 1 1.6 1-10.4 1 7.1 1-0.5 1-2 1-3.2 1 12.3 1-1.5 1 5.8 1-6.6 1-3.7 1 11.1 1 16.3M300.5 407.6l1-29.1 1-25.5 1-19 1-8.6 1-5.8 1-10.2 1-8.9 1 0.8 1-2.9 1-9 1-9.5 1-10.1 1-1.4 1-3.1 1-13.8 1 1.4 1 3.6 1-4.1 1-13.7 1-9.7 1 5.3 1 8.8 1-0.2 1 5.9 1-10.9 1 1 1-4.6 1 5.7 1-4.5 1-10.3 1 1.7 1 10.2 1-0.8 1 4.4 1 7.3 1-4.2 1-6.7 1 10.9 1-13.6 1-2.4 1 9.3 1-10.1 1 7.9 1-10.1 1 6.8 1-11.7 1 20.4 1 4 1-0.1 1 5.9 1-8.7 1 14.5 1 2.1 1-15.9 1 9.3 1-4.4 1 6.3 1-6.9 1 22 1-0.1 1-4.2 1 8.1 1 0.4 1 6.5 1 6.6 1-8.1 1-1.8 1 25.6 1 9.1 1-2.5 1 9.3 1-3.4 1 16.1 1 0.1 1 7.4 1 12.6 1-3.4 1 10.5 1 6 1-6.5 1-11.5 1-7.5 1-11.6 1-20.5 1 1.1 1-6.9 1-22.3 1 2.9 1-6.4 1-4.4 1-2.6 1-5.9 1-12 1 7.8 1-15.2 1-25.6 1 23.2 1-12.7 1-8.1 1 21.1 1 1.9 1-14.8 1 8.6 1 1.8 1-8.6 1-11 1 15.4 1 0.6 1 4.3 1 7.8 1 25.6 1-15.6 1 6.2 1-13.9 1 10.8 1 7.8 1 14.2 1 1.8 1 6 1 3 1-11.1 1-3.4 1-6.6 1 6.9 1 18.2 1-4.8 1 5 1-5.9 1 13.4 1-5 1 4.7 1 20.1 1-3.5 1 8.1 1-10.9 1-8.5 1 4.6 1-8.9 1 12.1 1-4.6 1 0.8 1-13.6 1 31 1-11.2 1 8.8 1-14.7 1-0.7 1 7 1-27.6 1 18.7 1-5.5 1 17.3 1-6.5 1-1.4 1-0.8 1 1 1-11.2 1 12.9 1 0.2 1-0.4 1-10.2 1 4.4 1-3.1 1 0.3 1 12.4 1-0.7 1-19.9 1-8.4 1 4.6 1-3.9 1-0.1 1 4.4 1 17.7 1-1.8 1 14 1-25 1 15.4 1 6.3 1-3.5 1-16.4 1 10 1-18.3 1 14.9 1 0.5 1 1.1 1 10.5 1 5.7 1-9 1-1.8 1-0.6 1-0.3 1 2.9 1 0.6 1-2.3 1-9.2 1 6.4 1-14.6 1-0.7 1-0.8 1 2.7 1 15.9 1-16.4 1-8.2 1-11.7 1 5 1-3.8 1 20.5 1-1.9 1 7.8 1-2.9 1-6.9 1 1.4 1-6.1 1-4.8 1-13.3 1 17.8 1-6.1 1-8.4 1 3.1 1 5.4 1 11.5 1-12 1-3.7 1 14.8 1-1.2 1 12 1-18.2 1-5.2 1 14.8 1 4.5 1-18.1 1 7.4 1 3.7 1 15.2 1 0.1 1-11.3 1-12.7 1 3.6 1 11.4 1-4.4 1-1.2 1-7.7 1 2.9 1 2.4 1 5.8 1-8 1 10.4 1-14.6 1 7.6 1-5.4 1 12.2 1-12.4 1 12.8 1 11.9 1-12.9 1 15.9 1 1.2 1-20.5 1-7.1 1 12.6 1-1.6 1 4.8 1-4.3 1 8.9 1-15.4 1-3.9 1 8.7 1 4.1 1-6.2 1 6.9 1 0.8 1 0.2 1 1 1-4.8 1 15.1 1-11.6 1 7.8 1-20.2 1 8.8 1-7.2 1-17.8 1 22.5 1-21.5 1 19.1 1-0.2 1 1.1 1-13.8 1-15.7 1 20.6 1 2.3 1 2.8 1-9 1 10.8 1 1.5 1-3 1 14 1-19.2 1-12.6 1 11.5 1 0 1 4.1 1-7.8 1 4.8 1-0.8 1 0 1 3.7 1-8.9 1 12.4 1-4.2 1 5.3 1-4.2 1 13.4 1-7.7 1-10.2 1 5.4 1 8.5 1-5.5 1-9.6 1 4.6 1-5.1 1 9.2 1-1.9 1 13 1 4.5 1-14.5 1 10.4 1-2.6 1 4.6 1-10 1 11.6 1-15 1-0.5 1 2.3 1-13.4 1-1.7 1-19.3 1 14 1 6.2 1 23.2 1-4.6 1 6.5 1-27.8 1 8.5 1 5.7 1 17.9 1-1.9 1-3.5 1-5.4 1 5.7 1-8.5 1 1.9 1-0.2 1-6 1-10.4 1 20.5 1-8.5 1-4.3 1 23.3 1-14.1 1-0.1 1-12.6 1-4.5 1 17.1 1-9 1 11 1-10.9 1 18 1-9.7 1-11.6 1-8.5 1 26.6 1-0.4 1-3.5 1 4.4 1-14 1 22.5 1-3.5 1-1.6 1-6.4 1-5.1 1 0.6 1 3.1 1-7.3 1 11.6 1 10.6 1 4.8 1-18.9 1 12.6 1-18.3 1-13.6 1 1.4 1 15 1-2.1 1-6.7 1 8.8 1-0.3 1 6.9M102.5 319.1l1-6 1-16 1 2.9 1-6.5 1-1.8 1 7.4 1 5.8 1 3.8 1-1.9 1 10.5 1-3.6 1 6.9 1 13.9 1-19.7 1 6.6 1-6.3 1 7.4 1-2.9 1-11.3 1 6.5 1-2.2 1-13.1 1 2.6 1 14.1 1-7.7 1-3.5 1 0.8 1 6.5 1-15.3 1 0.6 1-3 1-8.7 1 7.4 1 8.7 1-7.6 1-3.7 1 5.1 1 2.4 1-2.5 1 0.1 1-11.9 1 12.6 1 4.8 1-6.5 1 4 1-3.7 1 3.3 1-18.8 1 17.2 1-1 1 8.6 1 8 1-6.8 1-15.5 1 11.8 1 2.6 1 7.2 1-5.3 1-5.1 1 5 1-11.1 1-15.1 1 15.3 1 6.4 1 8.6 1-12.5 1 0.2 1-9.7 1-5 1 14.8 1-17.6 1 12.4 1 15.5 1 7.2 1-4.8 1-0.7 1-12.4 1-1.5 1 9.9 1-6.3 1-6.6 1 9.8 1-0.4 1 12.8 1-6.1 1 0.1 1 3.6 1 9.8 1-7.4 1-2 1-1.5 1-1.5 1-9.2 1 11.8 1-2.2 1 0.3 1-6.6 1-5.8 1-5.3 1 8.8 1-6.3 1-1.7 1 15.3 1-7.4 1 7.4 1 3.3 1-6 1 1.6 1 0.2 1 3.5 1 15.4 1-11.5 1-10.6 1 2.8 1-3.8 1 21.6 1-15.6 1-13.6 1 13.7 1-11.2 1 1.1 1 4.2 1-8.9 1-2.3 1-7.2 1 13.7 1-0.6 1 15.2 1-12 1-0.6 1-7.2 1 11.4 1 9.4 1-9.1 1 3.8 1 4.3 1 10.2 1-17.6 1 14.1 1-11.8 1-5.2 1 8.5 1 0.3 1 0.4 1 3.4 1-12.3 1 7.6 1-7.3 1 3.7 1 5.7 1-6 1 2.4 1-17.6 1-4.9 1 10.3 1-12.8 1 13.2 1 1.8 1-7.1 1 10.2 1-12.5 1 5 1-4.8 1-6.2 1-6.7 1 10.8 1 15.6 1-6 1-3.3 1-3.8 1-0.9 1-6.2 1 12.5 1-3.8 1 0.3 1 30.1 1-12.6 1-9.9 1 2.4 1-4.8 1-9.3 1 26.3 1-7.6 1-9.3 1-11.5 1 11.8 1-2.9 1 6.7 1-20.3M300.5 407.7l1-24.9 1-25.4 1-21.2 1-18.7 1-9.8 1-10.6 1-16.2 1-5.7 1-17.1 1-2.7 1 3.1 1-9.9 1 1.4 1-0.2 1-4.4 1-2.8 1-0.5 1-10 1 7.2 1 4.6 1-3.5 1-20.4 1 9.7 1 1.7 1 4.3 1-13.5 1-2.3 1 5.8 1 12.1 1-15 1-1 1 4.8 1-1.1 1 2.9 1-5.3 1 11 1-12.8 1 10.1 1-1.7 1 4.7 1 2.8 1-20.2 1 38.2 1-4.4 1-1.8 1-5.4 1 3.7 1-0.1 1 11.9 1 12.3 1-14 1-2.9 1 16.1 1-12 1 7.2 1 1.9 1 5.3 1 2 1 4.7 1-1.1 1 9.1 1 14.1 1 12.2 1-18.6 1 14.8 1 10.8 1-0.2 1 10.3 1 12.2 1 10.5 1 21.1 1-4.3 1-1.7 1 3.7 1-0.4 1-17 1-29.6 1 7.4 1-17.9 1 2.1 1-7.5 1-0.1 1-21.1 1-12.5 1-5.6 1-10.4 1 8.4 1 5.5 1-9.7 1 10.7 1-10.9 1-15 1 5.9 1 3.2 1-16.4 1-15.1 1 4.1 1-13.4 1 25.3 1-3.2 1-6.3 1-3.5 1 22.9 1-16.4 1 21.9 1 6.2 1 2.4 1-21.5 1 17.7 1 15.9 1-9.1 1-4.8 1-6.2 1 15.4 1 11.8 1 8.4 1-1.9 1 8.4 1 9.4 1 1.1 1-15.4 1 12.3 1-13.2 1 14.8 1 14.6 1 8.9 1 1.7 1 10 1 9.4 1-1.8 1-7.2 1 2 1-3.8 1 5.4 1-3.5 1-5.7 1-12.2 1 11.8 1-5.4 1-6.1 1-13.6 1 11.8 1-2.7 1 8.7 1 3.9 1 3 1-6.2 1-7.9 1 3.2 1 3.7 1 1.5 1 5.4 1 2.6 1-10.1 1 4.3 1-12.2 1-15.1 1 21.4 1-13 1-5.7 1 5.3 1 7.7 1-3.7 1 0.4 1 1.6 1-1.5 1-14.3 1 0.5 1-1.6 1 17.9 1-14.1 1-1.2 1 6.5 1 1.8 1-2.9 1-10 1 3.1 1-7.2 1 27.7 1-28.2 1-6.4 1 0.3 1 2.9 1 6.5 1 17.9 1-2.6 1 4.6 1-1.7 1 2.6 1-7.1 1 6.8 1-4 1-6.3 1-2.4 1-2.2 1-1.8 1-7.4 1 10 1-9.9 1-6.9 1 15.6 1 11.2 1 3.7 1-2.8 1 9.2 1-24.1 1-2.5 1-1.8 1 3 1 7.9 1 0.9 1-10.6 1-0.7 1 12.5 1-19.3 1 4.9 1 9.7 1 13.3 1-17.4 1-1.3 1 12.4 1 4.6 1-3.4 1-5.2 1 5.4 1-18.4 1-0.4 1 19.6 1-18.6 1 4.5 1 10.8 1 4.2 1-10.6 1-9 1 12.3 1 2.5 1 11.4 1-14.2 1 12.9 1-9.8 1 9.9 1-7.7 1 3.6 1-8 1 5.1 1 2.3 1-0.3 1-4.1 1-3.8 1-2.2 1 5.8 1 5.2 1-11.1 1-8 1-0.8 1-0.3 1-3.1 1 0.7 1 4 1 2 1 19.8 1-0.9 1 3.3 1-7.8 1-7.4 1-0.8 1-1 1 0.2 1 4 1 9 1 10.6 1-7.7 1-16.9 1-1 1 3.2 1-13.4 1 6.3 1 7.2 1 0 1 0.4 1 3.5 1-1.8 1 9.8 1 4.7 1-5.2 1-2.8 1-6 1 3.4 1 3.4 1-5.4 1 20.6 1-20.4 1-10.8 1 8.7 1-25.5 1 5.2 1 11.3 1-4.7 1-3.5 1-8.7 1 11.1 1-11.2 1 17.1 1 1.6 1-5.3 1 11.9 1-19.5 1 4.2 1 13.7 1 4 1-19.5 1 2.7 1 3.7 1-11.4 1 6.1 1 1 1 2.1 1 0.4 1 6.1 1-6.2 1 4.1 1 5 1-1.2 1 1.1 1 0.7 1 0.6 1 11 1-9.4 1 3.6 1 3.3 1-11.6 1-3 1-12.1 1 3.6 1 14.5 1 16.8 1-19.6 1-7.1 1 11.8 1-6.1 1-2.8 1 13.6 1-3.3 1-11.4 1-2.1 1 0.4 1 5.9 1-0.7 1-3.6 1-1.4 1 3.1 1 7.7 1-3 1 3.2 1 3.4 1 8.6 1-13.1 1 12.1 1-26.4 1 11.3 1-8.8 1-8.4 1 11.5 1 0.4 1 0.7 1-9 1 8.5 1 1.6 1 5.7 1 9.6 1 7.9 1 0.2 1-3.7 1-11.4 1-8.6 1-10 1 17.7 1-1.2 1 2.4 1-6.3 1-0.8 1 10.5 1-13.1 1 10.4 1-0.5 1 5.3 1-2 1-12.5 1 23.5 1-0.6 1 6.3 1 4 1-11.8 1-2.2 1-6.4 1 23 1-29.1M102.5 279.2l1 16.8 1-0.8 1-3.3 1-2.4 1-1.3 1-0.8 1-14.3 1 7 1 4.4 1 3.6 1-6 1 0 1 11.6 1-2.3 1 12.3 1-8.3 1 0.3 1 8.2 1-8.5 1 0.4 1 14.9 1-7 1-3.4 1-5.7 1-3.9 1 2.1 1-14 1 13.1 1 0.8 1-8.3 1 17.3 1-6.5 1-1.5 1 1.8 1 4.3 1 9.4 1-3.2 1-6.7 1-2 1 9.1 1-4.7 1-21.9 1 11.7 1 5.2 1-9.9 1 7.9 1 1.8 1-20.8 1 10.9 1-11.7 1 6.5 1 10.4 1 6.3 1 10 1-8.2 1 2.7 1-7 1 11.8 1-11.9 1 2.5 1-0.1 1-4.5 1-1 1-7.4 1 11.8 1 13 1 1 1-12.5 1-1.1 1 6.5 1 8.2 1-8.7 1 3.7 1-0.2 1-9 1 1.1 1-0.6 1 5.6 1-14.5 1 6.8 1 6.5 1-3 1 3.6 1 3.3 1-12.2 1 2.2 1-2.7 1-4.6 1 1.2 1-6.4 1 17 1 8 1-4.5 1-11.1 1 3.4 1-2.9 1 14.2 1 2.5 1-9.6 1 3.1 1 5.7 1-0.5 1-11.2 1-9.4 1-11.6 1 6 1-5.1 1 2.4 1 14.3 1-10.9 1 5.6 1 1.1 1-1.7 1 8.1 1 2.5 1 9.3 1 3.6 1 7.3 1-12.2 1-0.6 1 1.2 1 4.1 1-17.1 1 14.6 1-5.4 1 4.7 1 3.6 1-8.4 1-9.4 1-3.1 1 11.7 1 0.2 1-3.7 1 2.8 1-6.4 1-12.6 1 13.4 1 6.4 1 2.8 1 3.4 1-7.5 1 3.3 1 1.5 1-19 1 5.5 1-1.2 1-3.2 1 6.2 1-3.6 1 5.6 1 3.6 1 17.3 1-12.4 1 4.1 1 11.5 1-8.8 1-10.8 1-0.3 1 6.1 1 4.6 1-16.9 1-3.2 1 2.3 1 6.1 1-15.9 1-8.8 1 8.2 1-13.8 1 10.6 1-0.5 1 4.7 1 6.2 1 9.2 1-12.9 1 6.7 1-1.8 1 3.3 1-8.7 1 14.5 1-10.5 1 2.1 1-6.3 1 3.8 1 5.1 1-6 1 8 1 13.2 1-12.2 1 8.6M300.5 407.5l1-31.2 1-20.4 1-27.6 1-10 1-7.6 1-5.6 1-7.7 1-12.1 1-0.7 1-3.1 1-10.5 1 1.1 1-5.5 1-7.1 1 8.8 1-11.9 1 6.8 1-4.4 1-1 1-10.9 1-0.8 1-7 1-0.7 1-13.2 1 4 1-7.1 1 9 1-8.3 1-3.3 1-6.5 1 3.9 1 2.2 1 18.1 1-17.5 1-6.8 1 13.2 1 5.3 1-6.1 1-0.3 1 16.1 1-4.7 1-9.9 1 3 1 7.4 1-3.1 1 11.4 1-1.2 1 2.1 1-1.2 1-18 1 20.4 1-4.7 1-2.4 1-5.5 1 1.1 1 11.9 1-6.5 1 11.1 1-9.5 1 22 1-0.2 1 4.5 1-5.8 1 3.8 1 9.7 1-10.6 1 29.4 1 3.6 1 3.1 1 8.7 1 27.5 1 2.2 1 4.1 1-6.9 1 2.9 1 24.9 1-9.7 1-20.5 1 5.8 1-1.4 1-16.3 1 2.8 1-9.5 1-13 1-14.2 1-7.8 1-6.6 1-18.2 1 8.8 1-9.1 1-0.5 1-24.2 1 12.4 1-10.9 1 6 1-15.8 1 4.8 1 7 1-10.6 1 19.3 1 11.1 1-10.7 1-18.9 1 15.1 1 5.7 1 3.1 1-2.3 1 15.5 1 12.1 1-5.4 1 13.1 1-8.9 1 26.3 1-18.2 1-6.2 1 4.1 1 11.5 1 5.7 1-17.4 1 9.6 1 0.5 1 17.1 1-7.5 1-11 1-7.1 1 9 1 6.2 1 1.4 1-3.6 1 2.1 1 2.7 1 2.5 1 27.8 1-16.2 1-5.2 1 1.3 1 5.7 1-5.5 1 7.5 1 5.9 1-5.8 1-9.8 1 0.9 1 6.4 1 0.1 1-12.7 1-9.1 1 15.8 1 17.3 1-12.1 1-21.6 1 19.7 1 0.3 1-5 1-9.5 1 20 1 6.8 1-4.9 1 2.1 1 0.3 1 3.3 1 4.6 1-15.1 1 6.1 1 0.4 1 3.3 1-4.7 1-0.6 1-16.4 1 8 1 6.8 1-3.9 1-9.4 1 0.1 1-23.5 1 20.6 1-9.3 1-4.3 1 0.4 1-6.6 1 5.3 1-5.2 1 5.6 1 13.7 1-7.6 1-8 1 2.2 1 1.2 1 10.8 1-12.8 1-0.3 1 13.2 1-11.6 1 17.4 1 7.2 1-14.1 1 10.3 1 0.2 1-8.2 1 5.9 1-9.9 1 9.3 1-2.2 1 3.7 1-9.4 1 4.6 1 9 1-2.8 1 3.3 1 6.4 1-10.9 1-2.9 1 4.8 1-10.2 1-7.8 1-6 1-0.3 1 18 1-15.2 1 2.6 1 3.4 1 2.2 1 6.8 1-6.8 1 0 1-8 1 10 1 0.5 1-3.9 1-1.4 1 15.2 1-11.6 1 9.8 1 2.6 1 3.3 1-12.7 1 2.9 1 15.7 1 9 1-1.5 1-19.6 1-1.7 1-8 1-2 1-4.3 1-8.6 1 19.6 1 12.4 1-5.5 1-18.5 1 4 1 4.2 1-5.4 1-2.5 1 0.2 1 2 1-5.5 1 10.2 1-2.6 1-1.4 1 4.4 1-2.9 1 11.9 1-8.9 1 13.1 1-5.6 1-1.6 1-3.9 1 12.6 1-5.6 1 1.7 1-11.5 1-1.3 1-7.9 1 3.1 1 5.8 1 1.9 1 3.5 1-7.7 1 12.1 1-11 1-3.9 1-6.9 1 16 1-7.5 1 3.7 1 3.1 1-18.8 1 3.9 1 6.9 1-1.9 1 18.7 1 10.8 1-16.8 1 9.6 1-0.5 1-6 1 5.9 1 9 1-15.8 1-4 1-1 1 18.3 1 2.7 1-13.4 1 0.8 1-3.2 1-14.7 1 9.2 1-6.7 1 16.6 1-8.3 1-5.6 1-1.8 1-3.1 1 6.2 1-20.1 1 1.7 1 3 1 2.3 1-0.4 1-3.1 1-8.4 1 2.8 1 7.3 1-2 1 15.6 1 1.7 1-3.6 1 8.2 1-8.4 1 4.2 1-10.8 1 19.3 1-7.3 1 11.8 1-23.2 1-5.3 1 19.9 1 9.4 1-24 1 12.5 1-6.2 1 15.2 1 8 1-18.9 1-2.7 1 5.4 1-4.6 1 1.1 1-6.4 1 7.8 1-2.2 1 9.6 1-12.8 1 0.5 1 12.1 1-6.6 1 2.9 1-15.6 1-12.9 1 19.8 1 2.6 1-6.8 1-3.4 1 8.1 1 3 1-6.1 1-0.3 1-9.3 1 9.7 1 12.4 1 11.1 1-15.7 1-5.9 1 9.5 1-5.3 1 6.1 1 8.4 1-7.1 1 6.3 1-9.5 1-5.3 1 12.5 1 20.5 1-28.1 1-0.1 1-0.3 1 10.7 1-18.6 1 7 1 6.8 1-25.5 1 4.4 1 19.6 1 6.6 1-16.6M102.5 305l1-9.8 1-5 1 14.3 1-12.2 1 10.4 1-16.3 1 6.1 1-7.8 1 7.5 1 4.5 1-5.8 1 8.5 1-2.9 1 13.6 1 0.3 1-19.1 1 22.3 1-7.7 1-3.8 1 6.3 1 4.9 1 6 1 1.5 1-4.9 1-16.8 1 4 1 0.1 1-5.8 1 5.2 1-1.9 1 14.8 1-11.6 1 7.2 1-3.9 1-2.8 1 0.4 1-7.4 1 4.8 1 5.4 1-5.2 1-6.4 1 12.7 1 8.4 1 4.5 1-12.3 1 0.1 1-10.5 1 8.1 1 7 1 4.8 1 3.9 1 9.4 1 6.2 1 2.6 1-13.4 1-7.9 1 7.3 1 4.6 1-13.9 1 2.2 1-7.3 1-6.6 1-3.4 1 19.2 1-17.4 1 10.8 1-2 1-10 1-9.5 1 2.9 1-2.2 1 1.5 1-1.5 1 14.3 1-9.9 1-3.7 1-11.3 1-7.9 1 14 1 10.5 1 5.9 1 14.6 1-11.2 1-3.1 1 6.3 1 1.6 1 9.5 1 1.3 1-5.5 1-20.1 1 10.3 1-21 1 2.8 1-4.6 1 4.2 1-0.8 1 9.1 1-1.8 1 12.6 1-16.5 1 9.8 1 3.3 1 1.8 1-15.5 1 1.9 1 23.5 1-17.5 1 1 1 4.3 1 11.1 1-3.7 1-1.3 1-0.9 1-10.3 1-4.5 1 12.8 1 2.2 1-4.8 1-9.8 1 6.5 1 10 1-9.9 1 7.2 1 11.8 1-9.9 1-2 1 2.5 1 5.9 1-19.1 1 3.1 1 11 1-6 1-13.3 1 18.6 1-6.2 1 13.4 1 1.2 1-9.5 1-2.5 1 10.4 1-2.9 1-11.8 1-6.8 1 0.3 1 0 1 14.6 1 4.7 1-20.3 1-4.3 1 10.3 1-1.6 1-5.5 1 4.1 1 1.2 1-0.4 1-1.6 1-3.3 1 2.4 1-10 1 16.4 1-9.6 1 7.6 1 6.9 1-0.5 1-2.2 1-5.7 1 1.4 1 8.5 1-9.1 1-16 1 15.8 1-9.6 1 15.6 1 0.2 1-15.7 1 17 1-16.4 1 12.4 1-10.7 1 19.2 1-18.9 1 14.5 1-1.6 1 3.8 1-2.1 1 3.4 1 2.5 1-15.3 1 3.1M300.5 410.4l1-28.3 1-26.4 1-16 1-8.3 1-18 1-10.7 1-7.8 1-7 1-7.7 1 0.3 1-6.6 1-6.7 1 3.7 1-4.6 1-15.7 1-2.3 1 0.4 1-10.6 1 15.2 1 1.2 1 3 1 1.6 1-20.3 1-3.1 1-0.7 1 2.3 1 5.6 1-9.8 1-5.4 1 2 1-7 1 5 1-1.6 1 23 1-7 1-1.9 1 10.3 1 5 1-8.8 1 12.1 1-0.3 1 8.3 1-14.2 1-17.3 1-2 1 0.5 1 15.7 1-9.3 1 2 1-8.9 1 17 1-13.6 1 3.9 1 4 1-6.3 1 25 1-14.4 1 8.3 1 15.7 1 0.5 1-10.2 1 19.7 1 18 1-3.7 1 9.3 1 11.1 1 7.2 1 23.6 1 11.8 1-9.2 1-1.8 1 13.7 1 12.5 1-4.7 1-2.7 1-22.8 1 6.2 1-0.8 1 2.4 1-21 1-8.8 1-14.4 1 1.5 1-14.4 1-5.7 1-12.4 1-7.7 1-10.9 1-4.6 1-9.3 1-20.2 1 5.4 1-7.5 1 14.5 1 9.4 1-14.7 1 15.4 1-0.1 1-3.1 1 5 1 9.3 1-2.3 1 17.1 1-10.3 1-14.4 1 17.4 1-10.7 1 14 1-2.7 1 3.5 1 11.8 1 7.8 1-2.3 1-16.7 1 1.7 1 11.3 1 0.4 1-0.9 1 18.6 1 7.9 1 10.1 1-9.6 1 11.1 1-17.2 1-5.2 1 10.7 1 0.8 1-9.6 1 2.7 1 15.6 1-1.3 1-4.7 1 7.4 1 9.5 1-3.2 1-5 1-4 1-3 1 31.6 1-7.7 1 0.8 1 11.6 1-16.2 1-6.7 1-1.6 1 5.7 1 1.5 1-11.5 1-1 1 3.1 1 16.8 1-8.2 1-13.9 1 16.7 1-11.1 1-21.4 1 15 1 18.4 1-3.9 1-4.1 1 3.9 1-6.7 1-1.9 1-1 1-7.3 1 16.3 1 5.3 1-7.4 1 8.8 1-8.5 1-13.6 1 6.7 1 16 1-14.7 1 3.6 1-12.1 1 9.1 1-15.8 1 24.3 1-9.3 1 0.3 1-22.5 1-0.8 1-6.3 1 2.6 1 17.9 1 8.6 1 4.4 1-0.5 1 4.3 1-2.2 1 10 1-15.8 1-5.2 1 9 1-1.1 1-18.1 1 17.4 1-3.1 1 7.2 1-0.8 1-10 1 0.4 1-0.4 1 11.1 1-16.3 1 10.2 1-6.6 1 1.1 1-3.5 1 3.6 1-4.4 1 15.2 1-12.8 1 14.3 1-26.3 1 11.1 1-9.8 1-7.1 1-1.9 1 3.4 1 7.4 1 1.7 1 12.3 1-3.9 1 1.5 1-3.5 1 6.4 1-3.3 1 7 1-15.3 1-5.8 1 0.3 1 1.9 1 0 1-5.1 1-13.5 1-3.5 1 1.2 1-6.9 1 4.9 1 21.3 1 4.3 1-12.9 1-4.4 1 10.7 1-2 1 17.8 1-2.9 1 1.7 1-8.1 1 12 1-2.5 1 17.5 1-3.9 1-11.7 1-12.9 1-11.5 1-5.4 1 7.8 1 3.9 1 11.7 1-1.5 1 0 1 2.2 1-7.1 1 0.5 1 5.1 1-1.9 1 1.2 1-4.3 1-7.8 1 14.8 1-13.8 1 24.4 1-12 1 0 1-2.1 1-7.5 1 17.2 1-10.1 1 9.1 1 4.3 1-9.6 1-18.7 1 12.3 1 4.4 1-1.2 1 6.2 1 14.9 1-2.1 1-20 1-10.2 1 9.6 1-0.4 1-14.6 1-4.7 1 20.6 1 7.1 1-4.9 1 4.4 1-10.6 1 4.7 1-10.5 1 14 1-14.7 1-4.5 1-0.5 1-5 1 15.3 1 2.3 1-11.1 1 5.2 1 1.1 1 13.7 1-22.7 1 4.1 1-0.6 1 8.2 1 8.6 1-3.8 1 14.5 1-11.7 1 0 1-5.8 1-5.9 1 5 1-0.6 1-4 1-4.6 1 4.4 1-0.7 1 14.5 1-0.4 1-6.2 1 15.4 1-24.2 1 11.4 1 12.1 1-12.6 1 16.6 1-7.2 1-8.8 1 1.1 1-1.9 1-2.1 1-2.5 1 11.2 1-0.2 1 4.8 1-13.3 1-1.4 1 13.6 1-17.3 1-5.8 1-0.2 1 23.6 1-8.4 1 6.6 1 14.8 1-18.6 1-1.4 1-23.4 1 7.8 1 5.2 1-1.8 1 2.7 1-11.7 1 12.4 1-3.3 1-1.9 1 3.7 1 15.7 1-4.9 1 18.1 1-12.1 1-4.5 1-8.6 1-2.7 1 6.5 1-5.6 1 6.5 1 4 1 0.4 1-0.7 1-8.7 1 6.5 1-6.4 1 1.9 1-19.7 1 11.2 1 20.9 1-15.5 1 2.7 1 8.9 1-15.4 1 9.7M102.5 319.5l1 1.9 1-11.8 1-4.1 1 16 1 0.8 1-16.4 1 14.5 1-13 1 10.5 1 1 1-2.9 1 0.7 1-3.6 1 2.2 1-7.2 1 5.8 1-10.8 1-10.3 1 15.2 1 14.5 1 0.5 1-13 1-15.6 1 4.4 1 13.3 1 1.8 1-4.1 1 8.6 1-0.7 1-10.2 1-2.4 1 2 1-12.8 1 14.6 1 6.3 1-7.3 1 2.2 1-13.6 1-7.1 1 9.1 1-9 1-6.7 1 10.6 1-0.9 1-0.9 1 9.6 1 2.9 1-6.8 1-12.5 1 4.8 1 10.9 1 8.2 1 6 1 0.8 1 9.5 1-18.6 1 8.7 1-4.1 1-0.1 1-8.9 1 5.4 1 2.5 1 15.3 1 4.7 1-30.1 1 5.4 1 5.1 1-2.7 1 9.6 1 0.3 1 15.2 1-19 1 7 1-5.2 1 1.7 1 10.9 1-17.1 1 7 1-0.4 1-9 1-2.3 1 3.2 1 7.9 1-5.9 1-9.3 1-0.1 1 6.5 1-1.6 1 22.7 1-14.2 1-3.3 1-4.9 1-3.2 1 12.8 1-9.9 1-8.4 1-8 1 0.7 1-0.2 1 8.8 1 5.8 1-9.5 1-6.2 1-0.8 1 10.1 1-0.2 1 1.2 1-9.6 1 9 1 0.1 1-9.5 1 13.1 1 9.8 1-26.2 1 8.5 1 9.2 1 9.9 1-3.1 1 1.3 1 8.9 1-10.6 1-4.3 1 1.1 1 11.8 1 0.1 1 2.4 1-3.1 1-9.9 1 4.1 1 2.1 1 6.3 1 1.3 1-11.8 1-0.5 1 9.9 1-0.5 1 0.7 1-4.7 1-8.5 1 11.6 1 3.6 1 1.7 1-15.6 1-7.6 1-1 1 11.5 1-22.2 1 27 1-5.7 1-0.4 1-6.4 1 10.2 1-15.1 1 12.7 1 1.6 1-1.5 1-2.3 1-12.7 1-6.7 1-6.9 1 13.4 1 13.8 1-6.1 1 1.8 1 1.4 1-15.8 1 13 1 9.5 1 2 1 1.2 1 2.8 1-25.5 1 8.2 1 8.9 1-9.9 1-5.6 1 7.1 1 2.6 1 20.6 1-14 1-16.1 1 8.3 1-1.8 1-7.2 1 10.9 1-13.4 1-8.4 1 11.6 1 12.4M300.5 408.5l1-23.5 1-19.8 1-20.1 1-11.3 1-20.8 1-10.1 1-17.2 1-5.2 1 0.8 1-0.3 1-2.5 1-8 1-5.6 1-10 1-0.5 1-5 1-2.8 1-16.9 1 4.8 1 8.5 1-5.6 1-6.5 1 8.2 1-4.8 1-7.6 1-3.4 1-8.5 1 6.5 1-3.8 1-0.8 1 5.9 1 2.4 1-6.4 1 7.5 1-0.2 1-20.4 1 7.2 1-5.4 1 3.7 1 21.8 1 14.7 1 2.2 1-21.8 1 10.2 1 9.1 1 1.8 1 14.6 1-4.4 1 3.8 1-6.2 1 5.8 1-8.6 1-4.5 1 8.8 1-2.8 1-9.7 1-1.5 1 16.6 1 4.3 1 17.2 1-14.7 1-1.1 1 10.4 1 16.2 1-1.5 1 7.8 1 24.6 1 1.5 1-12 1 4 1 23 1 15.3 1 10.2 1-1.2 1-8.1 1-7.7 1 11.6 1-14.3 1-8.1 1 5.1 1 7.4 1-7.9 1-6.7 1-34.1 1 0.8 1-17.6 1 1 1-8.9 1-11.6 1-11.9 1-17.2 1 15.4 1 4.5 1-19.1 1-8.7 1 5.6 1-2.4 1 6.5 1 5.4 1-3.7 1-11.4 1-0.9 1 7.8 1 6.6 1 9.6 1 0.2 1-3.1 1 16.2 1 11.7 1-6.7 1-12.4 1 16.6 1 17 1 1.2 1-7.6 1 10.1 1 3 1-2.4 1 2.7 1-1.1 1 0.1 1 9.7 1-5.4 1 8 1-7.3 1 10.7 1 10 1-24.9 1 7.8 1 1 1-6.1 1 13.3 1-0.2 1 9.2 1 3.6 1 0.2 1 8.6 1-8.8 1 10.5 1-21.4 1 5.4 1 4.1 1-11.2 1 18.5 1-4.9 1-3.7 1-19 1 12.5 1-4.2 1 18.8 1-15.5 1 2.9 1 14.3 1-8.5 1 3.7 1-1.5 1-2.5 1 2.7 1-21.3 1 22.5 1 3.6 1-7.4 1 0.6 1-10.5 1 13.1 1 0.1 1 0.6 1-12.2 1 4.1 1 6.8 1-6.3 1-4.8 1 0.1 1 12.2 1-12.8 1 8 1 13.5 1-1.7 1-16.7 1-12.4 1 31.5 1-15.1 1-5.3 1-5.7 1 5.4 1 7.5 1-8.9 1 1.3 1 7.1 1-10.1 1 24.5 1-32.2 1 5.1 1 9.9 1-1.5 1-11.4 1 7.8 1 12.2 1-21.1 1-10 1 6.8 1-9.8 1 24 1 7.4 1-0.1 1-7.8 1 19 1-2.6 1 0.1 1-16.5 1 1.4 1-5.2 1 15 1-11.1 1-3.8 1 4 1 4.8 1-4.3 1-1.7 1-1.9 1 9.3 1-3.6 1-1.1 1-4.5 1 1.9 1-4.7 1 18.8 1-26.9 1 10 1 5.4 1-23.5 1-2.6 1 15.6 1 19.3 1-5.2 1-12.4 1-1.3 1-0.2 1-6.1 1-0.3 1 16 1-3 1 7.1 1-1.8 1-14.6 1 1 1 7.6 1-6.8 1 9.4 1-0.6 1-1.3 1-21.7 1 8.6 1-4.6 1 5.1 1-9.7 1 8.5 1 4.8 1-5.6 1 2.5 1-0.2 1-5.6 1 8.5 1-7.6 1 13.2 1-12 1-2 1 11.8 1 6.1 1-3.9 1 2.3 1-12.7 1 8.1 1-12 1 4.3 1 4.1 1-6.3 1-3.7 1 10.5 1-7.8 1-0.6 1 9.2 1-2.8 1 2.9 1 0.7 1 13.7 1-5.1 1 1.9 1 6.1 1 5.1 1-13.3 1-0.7 1-7.2 1 13.4 1-4.8 1-27.9 1 27.7 1-9 1 1.6 1 3.9 1-24.8 1 7.6 1 9.8 1-6 1 19.8 1 1.5 1-13.7 1 2.8 1-20 1 11.3 1 10.6 1-1.9 1-8.4 1 2 1-4.3 1-1.6 1 2.8 1 19.2 1 1.3 1-11.3 1 5.3 1 2.8 1-17.4 1 2.2 1 10.4 1-6.4 1-0.7 1-4.8 1 0.8 1 10.5 1-6.7 1 6.5 1 3.7 1-5.8 1-0.3 1-20.2 1 6.2 1 3.4 1-6 1 5.6 1-5.4 1 7.2 1 2.6 1-1 1-8.4 1 2.4 1 8.1 1-7.9 1 26.5 1-10.4 1-0.3 1-19 1 6.2 1-4.3 1-14.9 1 9.5 1-5.1 1 1.7 1 1.5 1 6.6 1 5.7 1 10.2 1-9.3 1 3.9 1-6 1 0.4 1 13.9 1-6.8 1-1 1 4.3 1 3.8 1 6 1-5.3 1-18.5 1 5.1 1-6.1 1 7.2 1 1.2 1 2 1 1.5 1-2.7 1-15.2 1 6 1 13.6 1 7.3 1 12.6 1-13 1 5 1-2.7 1 14.8 1-7.2 1-2.8 1-2.7 1-26.6 1 8.9 1 17.1 1-2" fill="none" stroke="#0b0b0b" stroke-width="1.0" stroke-linejoin="round"/>
<path d="M102.5 297.5l1-8.7 1-0.5 1-11.4 1-9.6 1-3.2 1 7.1 1 17.1 1 14.6 1-4 1-3.9 1 3.4 1 13 1-9.1 1-5.1 1-6.5 1-5.8 1 9.3 1 4.2 1-3.1 1 8.8 1 0.8 1-7.8 1 8.3 1 5.8 1-7.8 1-1.6 1 1.1 1-7.6 1 22.4 1 3.5 1 34.1 1 14.3 1 7.8 1-23.1 1-35.8 1-4.1 1-20.4 1 4.7 1 5.1 1-10.5 1 10.2 1 6.6 1-11.2 1-3 1 4.8 1-1.3 1-2.9 1-1.1 1 3.6 1-3.2 1-0.2 1 2.8 1-2 1-0.3 1 10.5 1 14 1 26 1-12.3 1-13.4 1-19.2 1-11.3 1 14.2 1-1.3 1-1.2 1-2.8 1 2.3 1-4.9 1 1.9 1 2.7 1 8.2 1-9.1 1-5.9 1-13.5 1 7.2 1-15.9 1-2.1 1 0.8 1-5.9 1-7.2 1 3.3 1 2.8 1 5.6 1 16.8 1 6 1 3.8 1 6.1 1 2.6 1-11.1 1 0.9 1 7.4 1-1.9 1 2.5 1 28.7 1 34.4 1-2 1-24.3 1-31.5 1-12.1 1 8.6 1 5.2 1 1.8 1-5.1 1 2.9 1-4.5 1 4.4 1-8.3 1 0 1-4.6 1-24.9 1-14.8 1-8.6 1-2.7 1 9.2 1 20.7 1 6.9 1 14 1-3 1 4.2 1 5.6 1-0.6 1-1.1 1 0.7 1 7.9 1-5 1-9.7 1-7.7 1-3.1 1 16.1 1 9.5 1 34 1 24.7 1 5 1-19.2 1-43.5 1-3.9 1-11.1 1 4.8 1 1.4 1 4.2 1-0.1 1 8.4 1-14.9 1-7 1 1.8 1 7.2 1-2.2 1-1.5 1 6.3 1-1.8 1-7.2 1 5.8 1 12.2 1-13.6 1-0.3 1 3.8 1-3 1-10.7 1-16.7 1-9.6 1-7.8 1-1.1 1 11.8 1 16.7 1-1.2 1 18 1 2.3 1 14.8 1-11.9 1-0.9 1 11.4 1-20.1 1 3.8 1-4.7 1 16.9 1-0.1 1-7 1 3.1 1 1.4 1 1.6 1 10.8 1 26.1 1-3.3 1-11.9 1-29.6 1-7.1 1 2.2 1 3.6 1-4.8 1 8.8M102.5 296.6l1 1.4 1 3.1 1 2.4 1 5.7 1-5.2 1-1.3 1-3.1 1 16.4 1-4.9 1-2.7 1 6.7 1-7.4 1-2.2 1-0.1 1 8.9 1-14.9 1 5.3 1-4.7 1-5 1 0.7 1-5 1 5.8 1-0.3 1 2.6 1 0.1 1 4 1-7.8 1 13.2 1 6.3 1-10.5 1-0.7 1 7.6 1-12.3 1-3.2 1-15.5 1-10.7 1-10.4 1-4.5 1 3.2 1-4.1 1 13.1 1 12.4 1 13.5 1 2.1 1 7.4 1 11.3 1-3.9 1-1.1 1-2.3 1-5 1 8.3 1 5 1-8.9 1 6.6 1 3.8 1-7.7 1 3.5 1-1.8 1 6 1 9 1-15.9 1-7.2 1 6.2 1 7.5 1-6.5 1-4.3 1-12.1 1 13.5 1 9.8 1 38.3 1 30.6 1-5 1-26.3 1-28.1 1-18.1 1 2.4 1-10.5 1-11.2 1 14.4 1 5.1 1-14.2 1 0.2 1 5 1 7.4 1-4.1 1-0.3 1-8.9 1-18.8 1-11 1-16.1 1 1.5 1 13.7 1 6.3 1 11.1 1 2.9 1 6.4 1-1.4 1 7.7 1 1.2 1 0.5 1 25.1 1 32.8 1 39 1-7 1-31.9 1-42 1-15 1-2.2 1 12.4 1 9.9 1-13.5 1 9.3 1-16.4 1-2.2 1 9 1 2.7 1 4.3 1 16.4 1 14.9 1-15.2 1-14.7 1-16.3 1-18.3 1 4.9 1-5.4 1 0.6 1 1.2 1 5.4 1 6.3 1 0.1 1 7.4 1 13.9 1-9.7 1-9 1 6.8 1-2.7 1-3.5 1 12.8 1-1.5 1-5 1 2.5 1 5.5 1-1.3 1 3.1 1-10.1 1 0.2 1 0.8 1-5.5 1 4.7 1 9 1 22.2 1 22.8 1 33.7 1 5.6 1-22.9 1-29 1-20.6 1-16.3 1 2.5 1-5.2 1 8 1-7.6 1 3.2 1-11.9 1-9.3 1 6.3 1 3.4 1 11 1-10.9 1 1.5 1 7.1 1-16.2 1-8 1-12.8 1 0.3 1 15.6 1 9 1-0.6 1 10.6 1-9 1 5.9 1 7.3 1-4.4 1 2.3 1 4 1-0.3 1-0.8 1 5.3 1-8.3M102.5 301.7l1-7.8 1 1.3 1 10.1 1-6.8 1 4.3 1 3.2 1 0.8 1 0.3 1 2.8 1-0.5 1 0.4 1-1.2 1-12.9 1 12.2 1 7.8 1-1.4 1-8 1 2.8 1 1.4 1-5.6 1 2.1 1 2.5 1-3.2 1 1 1 5.9 1 11.5 1-17.2 1 3.5 1-10.8 1 0.6 1 6.6 1-5.1 1-0.9 1-4.9 1 4.1 1-11.2 1 8.5 1-12.6 1 5.3 1-5.7 1 18.3 1-1.1 1-1.1 1 12.5 1-5.7 1-6.9 1 7.7 1-3.3 1-2.4 1-1 1-3.7 1 8.3 1 1.9 1 1.6 1-6.6 1-4.8 1-3.1 1 7.7 1-0.5 1 1.5 1-0.9 1-10.1 1-7.5 1-0.9 1-1.1 1-9.9 1-4.5 1-5.4 1 14.9 1 14 1 3.2 1 8.8 1 2.4 1-15 1 17.6 1-12.4 1 5.5 1 12.8 1-6.3 1-2.6 1 1.5 1 38.7 1 36.6 1-5.4 1-27.6 1-36.1 1-6 1 1 1-4.3 1 11.3 1 1.4 1 0.3 1-15 1-4.1 1 0.1 1-11.7 1-7.4 1-8.2 1-16.3 1-6.9 1 2.3 1 21.4 1 10.9 1 0.3 1 7.9 1 20.1 1 23.3 1 26 1-1.2 1-31.3 1-22.5 1-1.8 1-6.6 1 5.9 1-0.6 1 6.7 1-4.5 1-4 1 6.1 1-1.8 1-2.6 1 5.7 1 4 1-10.2 1 3.7 1 1.5 1-7.7 1 5.8 1 1.3 1 0.6 1-14.5 1 2.4 1 2.1 1-22.8 1-4.7 1-16.5 1-2.8 1-9 1 6.3 1 12.8 1 22.7 1 37 1 6.3 1-15.3 1-13.9 1-1.6 1 1.9 1-3.4 1-4.2 1-1.6 1 0.7 1 4.6 1 12.8 1-14.5 1-2.6 1-3.4 1 6.5 1 7.7 1 0.6 1-1.2 1 1.4 1-2.5 1-2.5 1 6.7 1 5.6 1 5.8 1 35.5 1 4.9 1-35.9 1-14.6 1-2.5 1-1.5 1-19.9 1 13 1 1.7 1 0.6 1-4.7 1-11.1 1 11.2 1 0.4 1 7.6 1-1 1-6 1 16.3 1 7.1 1-15 1 3 1-9.2 1 11.2M300.5 406.9l1-30.7 1-22.3 1-20.1 1-16 1-6.7 1-10.1 1-3.2 1-7.4 1-3.6 1-11.3 1-3 1-9 1-1.9 1 7.5 1-0.5 1 16.9 1 25.7 1 0.1 1-19.3 1-26.2 1-23.5 1-14.8 1-11.4 1-10.9 1-10.4 1-5.8 1 15.3 1 2 1 11.5 1 12.6 1 1.7 1-4.2 1-8.7 1 2.2 1-8.7 1 10.3 1-5.8 1-2.2 1 3.2 1 18 1-12.5 1 1.4 1-4.2 1 10.1 1-5.9 1 7.7 1 5.1 1 8.8 1-7.8 1 5.4 1-0.8 1-4.8 1 12.6 1 12.7 1-8.1 1-8.6 1 9.3 1 4 1-8.1 1 7.2 1 2.9 1 10.3 1 5.8 1 9 1 7.8 1 4.9 1 9.8 1-0.7 1 14 1 17.2 1 13.7 1-1.8 1 18.5 1 9.6 1 13.3 1 3.3 1 9.6 1-21.9 1-18.1 1-9.5 1-21 1-17.2 1-13.4 1-5.9 1-1 1-3.2 1-12.5 1-16.1 1-26.8 1-14.9 1-14.5 1-5.4 1-2.3 1 8.8 1 7 1-8.5 1 12.3 1 8.6 1 2 1-3.8 1 4.5 1 1 1 10.9 1 5.3 1-0.2 1 3.6 1-9.9 1 1.5 1 20.5 1-4.9 1 16.8 1 2.9 1-3.7 1 9.5 1-2.8 1-5.5 1 4.5 1-7.5 1-6 1 0.2 1 19.2 1-0.3 1 11.1 1-11.9 1-1 1-0.8 1-4 1-3.1 1 34.6 1 32.1 1 19.6 1-26.6 1-26.5 1-16.6 1 8.1 1 1.1 1 18.4 1-6.1 1-14.8 1 0.8 1-4.2 1 10.1 1-4.2 1 10.4 1-7.4 1 0.9 1 16.2 1-15.5 1 12.1 1-5.4 1-3.5 1 1 1 2.9 1-12.4 1 7.9 1-6.8 1 17.4 1-6.8 1-7.7 1-0.4 1 6.8 1 6.1 1-4.5 1-12.4 1 19.7 1-10.2 1 1.6 1 0.7 1 10.8 1-8.2 1-4.9 1 10.5 1-3.3 1-3.2 1-7.6 1 5.6 1 3.6 1 7.3 1 36.2 1 45.8 1-9.5 1-26.8 1-45.1 1-12.8 1-5.1 1 4.7 1-6 1 8.6 1 10.1 1-15.1 1 5.4 1-10.2 1 5.7 1-11 1 4.3 1 1.2 1-7.1 1-6.1 1-11.8 1-7.4 1-15.8 1-16.2 1 9 1 13.5 1 15.2 1 13.4 1 8.9 1 1.3 1 2.4 1 7.6 1-10.7 1 0.6 1 1.8 1-1.4 1 2.9 1 14 1 21.1 1 36.3 1 9.6 1-33.9 1-16.2 1-18.2 1-11.1 1-0.2 1-3.6 1-1.7 1-7.8 1 5.2 1 12.8 1-11.6 1 1.1 1 3.3 1-1.1 1-24 1 9.1 1 4.1 1 15.2 1-2 1-5.5 1 10.2 1 0.8 1-0.2 1-8.8 1 6 1-11.7 1 1.4 1 4 1 0.8 1-2.3 1 4.2 1 6.8 1-7.4 1-12.8 1 6.7 1 10.8 1 3.2 1-14 1-11.7 1-3 1-23.7 1 13.9 1 21.2 1 45.4 1 48.2 1 1.4 1-34.2 1-43.4 1-17.1 1 2.2 1 11.3 1-7.1 1-8.9 1-0.5 1 6.2 1-0.3 1-4.9 1 12.5 1 1.1 1 0 1 1.1 1-16.3 1 2.4 1-3.3 1 11.9 1-9.8 1 4.7 1 5 1 3.4 1 7.2 1-3.4 1-7.6 1-13.6 1 9.9 1 7.2 1 0.7 1-18.8 1 5.1 1 4 1-2.2 1-2.2 1-1.6 1-0.6 1 6.8 1 5.2 1-2.7 1-9.4 1-3.2 1-2.4 1 1.1 1 19.1 1 31.2 1 16.1 1-16 1-21.8 1-13.9 1-1.1 1-3.5 1-13.7 1 1.6 1 9.8 1 8.2 1-8 1 11.3 1-6 1-5.7 1 1.8 1 0.4 1 12 1-3.5 1-1.6 1-3.9 1 2.8 1 3.1 1-5 1 2.6 1-10.8 1 3.3 1 7.4 1 7.5 1 2.9 1 3.9 1-4.9 1-13 1 7 1-6 1 7.7 1-7.6 1 2.6 1 4.7 1 22.9 1 21.2 1 6 1-13 1-28.1 1-11.7 1-7.3 1-1.5 1-1.2 1 1.2 1-21.8 1-13.3 1-10.2 1 25 1 16.5 1 4.8 1-3.2 1 2.2 1-4.4 1 17.6 1-21.4 1 4.2 1 5.8 1 4.1 1-4.9 1 3.3 1 0.4 1-4.6 1 4.6 1 5.4 1-4.7 1 7.6 1 5.1 1 3.9 1-2.1 1-11.9 1 2.6 1-2.4 1-1.4 1-3.6 1 7.2 1 4.9 1 1.7 1-9.9 1-3 1-7.2 1 4.6 1 8.4M300.5 405.5l1-28.9 1-18.7 1-17.1 1-17.7 1-5.5 1-13 1-10.1 1-7.9 1-5.5 1-9.4 1-4.4 1 0.2 1-4.4 1-8.3 1 6.1 1-9.1 1-9.8 1 4 1 2.7 1-10.3 1 1.8 1 4.8 1 35.1 1 21.2 1-1.5 1-30.8 1-28.2 1-11.7 1-21.2 1-17.6 1-2.7 1-11.5 1-9.4 1 10 1 18 1 26.8 1-1.6 1 5.1 1-0.1 1 8.9 1 10.6 1-3.4 1-0.2 1 0 1 6.8 1-0.3 1-0.6 1-17.2 1 11.2 1-1.4 1 8.1 1-6.3 1 1.7 1-2.5 1 8 1 0.4 1 2.5 1-0.8 1 6.2 1-0.6 1 9.2 1 6.6 1 13.9 1 12.1 1-7.5 1 8.5 1-0.3 1 9.3 1 20.8 1 20.9 1 7 1 15.9 1 7.6 1 4 1 14 1-10.8 1-8.7 1-8.5 1-9.1 1-14.1 1-7.5 1-21.6 1-13.1 1-8.1 1-11.6 1 2.4 1-11.4 1-3.1 1-19 1-15 1-15.7 1-8 1-24.2 1-31.6 1 13 1-10.2 1 2.9 1 13.4 1 13.7 1 3.5 1 17 1 16.2 1 8.4 1 1.8 1 2.1 1-0.8 1 15.7 1-2.9 1 3 1-7.9 1 7.7 1 10 1 0.2 1 4.2 1 9.7 1 5 1 2.5 1 0.9 1 6.1 1 3 1-0.6 1-15.4 1 3.2 1 6.3 1 1.1 1-3.1 1 8.4 1 13.8 1-3 1 4.2 1 3.9 1-1.5 1-10.1 1 2.1 1 0.3 1 10 1 0.1 1-3.6 1 2.1 1-19.6 1 8.6 1-1.5 1 13.4 1 5.1 1-6.9 1-15.5 1-0.9 1 4.4 1 13.2 1 35.3 1 30.6 1 7.8 1-25.4 1-22.7 1-18.4 1-8.1 1 10.9 1 1.2 1-1.9 1-4.8 1 6.9 1-3 1-4.9 1-3.1 1-5 1 6.5 1 2.8 1-8.9 1 12.3 1-23.2 1 7.4 1 5.5 1 3.6 1-9.9 1-2.8 1 4.7 1-7 1 9.8 1-4.1 1 2.9 1 1.5 1-8.8 1 0 1 4.5 1-3.5 1 5.1 1 3.1 1 34.4 1 32.2 1 5.8 1-27.8 1-34.6 1-15.4 1-3.7 1 26.1 1-9.1 1-3.6 1-10.8 1-8.6 1 3.1 1 17.7 1-12.7 1-6.3 1 4.3 1-0.4 1-2.1 1-10 1 2.7 1 2.4 1-19.9 1 2.8 1-3.8 1 14.9 1 8.4 1 7 1 13.7 1-6.9 1 6.9 1-9.4 1 7.6 1 3.7 1 34.6 1 30.5 1 12.3 1-40.6 1-23.5 1-20.4 1-4.7 1 0.6 1 5.1 1-10 1 4.7 1-6.3 1 2.7 1 0.2 1-5.3 1-0.9 1 1.4 1 2.6 1-2.4 1 4.1 1-8.2 1 0 1-3.3 1-1.2 1-0.1 1 10.7 1-12 1 2.2 1 11.3 1-5.7 1 2.7 1 5.8 1-2.9 1-1.3 1 4.6 1-7.4 1-5.8 1-7.2 1 14.2 1 15.9 1-16.6 1 0.2 1 1.1 1-10.4 1-0.5 1 3 1-14.6 1-13.1 1-20.5 1-3.5 1-6.1 1 29.9 1 40.1 1 37.4 1 15.9 1-29.1 1-28.6 1-4.1 1-10.3 1 1.6 1 2.2 1 8.8 1-8.3 1 8.3 1-1.3 1-14.2 1 6.8 1 1.4 1-3.7 1 3.2 1 15.7 1-14.7 1-1.9 1-1.6 1 1.3 1 15.5 1-7.3 1 7.6 1-10.7 1-2.8 1-3.1 1-2.4 1 3.9 1-0.5 1-4.3 1-1.2 1 6.8 1-3.1 1 9.5 1-1.9 1 12.8 1-11.6 1-10.1 1 14.8 1 20.3 1 29.5 1-5.7 1-43.2 1-21.2 1-13.2 1 6.8 1 14 1 5.4 1-10.7 1 7.4 1-8 1 13 1-3.5 1 4.8 1 1.6 1-9.8 1 5.7 1 3.7 1-8.5 1-2.6 1 1.8 1 12.7 1-7.1 1 8 1 0.9 1 3.8 1-0.8 1-0.5 1-7.7 1-4.3 1-6.6 1 7.2 1 11.8 1-16.2 1 9.7 1 4.6 1 12.9 1-4.6 1-5.8 1 15 1 26.6 1 20.8 1 4 1-27 1-18.1 1-20.8 1-7.6 1-7.4 1-13.3 1-29.6 1-4.3 1-0.6 1 15 1 10.3 1 21.3 1-2.6 1 4.8 1 8.8 1-6 1-10 1 16.6 1-13.1 1 3.1 1 6.9 1 8.2 1 1.6 1-5.7 1-3.3 1-4.7 1-5.7 1-3.9 1 3.1 1 16.8 1-2.3 1-7.2 1 2.8 1 0.9 1 1.3 1-5.5 1 2.8 1-0.8M300.5 405.5l1-26 1-26.4 1-18.2 1-13.5 1-11.3 1-15 1-1.7 1 0.2 1-11.9 1-13.2 1-1.8 1-2.6 1 0.5 1-4.3 1-4.5 1-4.3 1-1.8 1-2.7 1-3.4 1-7 1-1.9 1-5.4 1 1.5 1-3.6 1-5.3 1-10.2 1 8.7 1 9.9 1-5.9 1 0.9 1 1.8 1-6.2 1 10.2 1 25 1 29.5 1 1.6 1-14.8 1-39.9 1-27.1 1-10.3 1 0.2 1 9.9 1 8.8 1 17.8 1 9.5 1-4.6 1 8.1 1-4.4 1-13.2 1 4.2 1 2.5 1 7.8 1-2.2 1 11.4 1-4.2 1 0.9 1 2.6 1 1.5 1 2.4 1 0.1 1 16 1 11.8 1-6.3 1 5 1 18.6 1 9.5 1 6.3 1-1.9 1 11.8 1 9 1-1.7 1 8.1 1 12.2 1 6.7 1-1.5 1 8.6 1-1 1-7.6 1 5.3 1-7.4 1-8.2 1-11 1 0.3 1-33.8 1-6.5 1-1.3 1-12.2 1-16.5 1-8.8 1 2.5 1-7.1 1-0.9 1-5.4 1-1.5 1-16.6 1-2.5 1-15.8 1-15.9 1-9.5 1-6 1 1.7 1 15.3 1 16.2 1 24.3 1-0.2 1 3.5 1 4.1 1 7.6 1-2.2 1 12 1 8 1 2 1-3.8 1 9.7 1 5.9 1 10.5 1 16.6 1 16.5 1 19.9 1 10.2 1-27.5 1-4.6 1-19.9 1 10.9 1 0.9 1-4.7 1-1.4 1-4.9 1 8.2 1 8 1 1.5 1-11.8 1 3.7 1-14.2 1 14.6 1-9.6 1-3.2 1 10.5 1 7.7 1-16.7 1 2.3 1 9.5 1 4.4 1-10 1 5.5 1 0.3 1 9.3 1-11.9 1-3.1 1 10.8 1-1 1 3 1-10.3 1 5.3 1-7.9 1-5.6 1 8.3 1-26.1 1-11.5 1 20.6 1 35.5 1 44.7 1 10.1 1-20.8 1-25.2 1-14.9 1 2.9 1 12.1 1-27.3 1 1.8 1-1.8 1 9.8 1-2.3 1 4 1-5.8 1 7.1 1-3.4 1-7.6 1 8.2 1-2.7 1-13.8 1-7.5 1 1.1 1 15.2 1-11.6 1 10 1-4.1 1-3 1 3.6 1 10.2 1-13 1-4.7 1 18 1 36.2 1 39.6 1 2.5 1-25.4 1-46.5 1-21.6 1 0.6 1 7.3 1-13.2 1-4.9 1 12.8 1-15.6 1 11.3 1 0.7 1 4.2 1-5.1 1-2.5 1-1.8 1 4.3 1 2.7 1 0.6 1 1.3 1-2.2 1 3.2 1-15.9 1-18.7 1-7.5 1-4.8 1 18.5 1-0.7 1 12.2 1 3.8 1 13.6 1-12.1 1-1 1 2.8 1 5.2 1 20.3 1 23.3 1 3.5 1-16.7 1-22 1-19.2 1-0.7 1-4.3 1 8.3 1 0.1 1-5.5 1-3.8 1 11.2 1-0.9 1-6 1 10.5 1 6 1 1.8 1-8.5 1 4 1-12.9 1 21.1 1-4.9 1-7.9 1-4.3 1-6.5 1 8.6 1 1.8 1 2.8 1-6.5 1 4.3 1-8 1-8.3 1 14.1 1-3.2 1 6.4 1-13.6 1 6.3 1-0.6 1 21.4 1-16.9 1 1 1 8.2 1 7.6 1-16.2 1 3.3 1-14 1 10.9 1-9.8 1-12.7 1-19.9 1-10.3 1 0.8 1 9.6 1 12.4 1 24 1 7.8 1 28.1 1 26 1 7.3 1-30.7 1-14.3 1-5 1-15 1 5.7 1-3.6 1-4.2 1 12.4 1-2.2 1 8.8 1-8.7 1-0.3 1-6.9 1 15.6 1-4.9 1-10.4 1 3.4 1-2.9 1 3.7 1 9.8 1-6.9 1 7.8 1-1.1 1-3.8 1 0.4 1-8.6 1 9.4 1-8.1 1-1.8 1 9.6 1 3.1 1 2.2 1 25 1 37.7 1 2.1 1-44.7 1-31.1 1-17.1 1 7.2 1 2.2 1-15.5 1-13.7 1-8.2 1 5.5 1 15.1 1 8.8 1 10.7 1-8.3 1 14.8 1-7.5 1-5 1 8.5 1-0.9 1 3.5 1-2.2 1-6.3 1-0.3 1 4.3 1 1.2 1-2.6 1 16.4 1-6.4 1-12 1 2 1 2.3 1-2.7 1 5.7 1-11.8 1 2.7 1 2.1 1-0.3 1-11 1-0.9 1 6.4 1 8.1 1-0.7 1 4.4 1-4.1 1 6.9 1 28.6 1 27.8 1-2.9 1-25.1 1-21.5 1-14.7 1-16.9 1-5.8 1-10.5 1-7.7 1 8.9 1 15.3 1 7.7 1 4.9 1 2.3 1-1.2 1-1.2 1-8.2 1-1.8 1 18.6 1-1.4 1 3.2 1-11.5 1-2.9 1 7.2 1-3.2 1 2.3 1 3.1M300.5 403.5l1-29.5 1-25.7 1-18.1 1-15.6 1-10.2 1-12 1-3.2 1-6.6 1-5.1 1-5.5 1-6 1-6.7 1-5.4 1-3.6 1 7.3 1-5 1-9 1 4.6 1 0.4 1-5 1-3 1-0.2 1-3.4 1 2.9 1-1.1 1-10.5 1-8.1 1-1.2 1-0.2 1-1.8 1 6.1 1 0.4 1-6.8 1 4.5 1-5.2 1 7.3 1-1.6 1 3.5 1 7.7 1-1.4 1 13.9 1 17.5 1 37.3 1 4.1 1-26.8 1-39.2 1-22.3 1-15.9 1 9.5 1 7.9 1 16.6 1 8.7 1 6 1-1.3 1 6.3 1 0.9 1 0.5 1 0.8 1 0.3 1-0.3 1 8.6 1 4.7 1 18.8 1 8.5 1-3.6 1 9.4 1 5 1 8 1 15.2 1 2.6 1-5.5 1 16.5 1-2.5 1 8.5 1 16.4 1-1 1-6.7 1-4.1 1 1.4 1-10 1-26.5 1-2.1 1-2.8 1-10.1 1-2.5 1-9.1 1-16.8 1-4 1 5.8 1-7.2 1-13.3 1-7.9 1-6.9 1 2.4 1-9.8 1-16.1 1-2.4 1 16 1-1.1 1-4.4 1-16.4 1-2.3 1 13.4 1-10.6 1-11.4 1 3.6 1 18.2 1 11.6 1 17.2 1 27.2 1 29.1 1 8.7 1-10.1 1-10.2 1-6.3 1 0.9 1-5.7 1-12.7 1 15.8 1 1.9 1-2 1 9.9 1 11.9 1 2.2 1-5.7 1 1.8 1 1.7 1 2.8 1-12.3 1 24.6 1-7.2 1-6.5 1 2.6 1-1.8 1 9.1 1-4.7 1-7.1 1-4.8 1 4.4 1-3.7 1 6.6 1-7.2 1 16.2 1-3.1 1-4.2 1-5.8 1 6.7 1 3.1 1 2.9 1-2.5 1-6.7 1-5.7 1-4.9 1-9.1 1 2.6 1 12.3 1-12.4 1 9.4 1-0.6 1 7.5 1 0.2 1 0.9 1 1 1 5.8 1 39.9 1 20.4 1-4.6 1-51.4 1-44 1-6.1 1-2.5 1 26.5 1 9 1-1.9 1 3.4 1 12.5 1-9.4 1-2.2 1 0.2 1 9.1 1-7.1 1-2.1 1-1.7 1 10.2 1 11 1-1.6 1-4.3 1-2.9 1-0.1 1-13.7 1 0.7 1-3.4 1 6.4 1 0.4 1-0.8 1-1.9 1-2 1 1.2 1 3.9 1 23.4 1 40.3 1 41.3 1 3.7 1-37.1 1-34.7 1-15 1-14.8 1-1.8 1-3.2 1-1.9 1-4.2 1 9.8 1-16.5 1 0.4 1 6.9 1-9.1 1 5.6 1 7.1 1-3.8 1-1 1-7 1 1.1 1 14.8 1-5.3 1-3.2 1-14.4 1 6.7 1 9.2 1-13.6 1-3.6 1-3 1-21.3 1-1.2 1-7.6 1 1.9 1 7.9 1 15 1 3.7 1 22.8 1 10.3 1 22.7 1 31.3 1 3.2 1-23.9 1-35 1-5.3 1 1.8 1-4.9 1-4.2 1-1 1 8.7 1-1.1 1-3.5 1-1.9 1-6.9 1-2.6 1-0.6 1 17.4 1-5.5 1-3.3 1 0.4 1 6.5 1-8.8 1 14.8 1-3.7 1-7.3 1 4.2 1 5.7 1-1.3 1 2.3 1-9 1-4 1 1.9 1 4 1-3.4 1-7.1 1-11.3 1 11 1-0.1 1 0.8 1-4.9 1-3.7 1-6.8 1 16 1-10.4 1 4.2 1 1.2 1 3.2 1-9.2 1-0.1 1-3.5 1-14.1 1-5.6 1 18.6 1 30.1 1 45.6 1 8 1-25.9 1-27 1-16.1 1-2.3 1 8.2 1-0.3 1-2.7 1 11.5 1-2.6 1-1.5 1-1.1 1-5.9 1 0.3 1-0.2 1 6.6 1-3.1 1 0.9 1-7 1 10.8 1 7.9 1-14.9 1 5.3 1-16.8 1-0.9 1 9.5 1-15.4 1 10.2 1 0.2 1 8.7 1 0.3 1 2 1-5.4 1 32.9 1 31.1 1 11.7 1-38.7 1-31.3 1-0.4 1-11.5 1 4.4 1-19.2 1 7.1 1-10.3 1-4.8 1-8.6 1-5.9 1 8.2 1 13.6 1 12.8 1 7.5 1 5.1 1 0.2 1 4.2 1-2.2 1 6 1-7.5 1 3.4 1-3.1 1 7.2 1-8.3 1-5.2 1-9.2 1 12.8 1-7.5 1 12.2 1-16.4 1-4.2 1-3.2 1 13.9 1 8.3 1 8.1 1-1.3 1-9.9 1-0.9 1 2.4 1 3.7 1 6.2 1-0.9 1-13.1 1 0.5 1 8.5 1-8.4 1 1.4 1 0.2 1 5.2 1 11.9 1 36.9 1-14.1 1-24.3 1-23.3 1-22.3 1 4.9 1 10.5 1 13.5 1 2.2 1 2.1 1-1.2 1 1.6 1 0.7 1-6.7M300.5 406.2l1-28.1 1-23.7 1-17.2 1-13.1 1-10.9 1-8.8 1-10.9 1-2.8 1-9.6 1-4.7 1-6.7 1-12.7 1 0 1-4 1 1.9 1 4.8 1-10.1 1 7.1 1 2.8 1-1.9 1-2.3 1-10.9 1-9.8 1 4.4 1-5.4 1 0.6 1-6.4 1 2.2 1 0.7 1-2.9 1-7 1 5.6 1-6.7 1 0.1 1 3.6 1-0.9 1-7.4 1 0.1 1 9.9 1-3.9 1 3.8 1 15.5 1 2.2 1-3.3 1-9 1-1.4 1 2.8 1 6.2 1 14.5 1 19.6 1 21.6 1-9.2 1-24.9 1-24.8 1-2.5 1 7.9 1-3.3 1 14.9 1 13.6 1 4.1 1-3.8 1 6.5 1 11.4 1 7.3 1 11.4 1 5.3 1 5.1 1 7.6 1 4.8 1 10 1 6.8 1 10.5 1-14.4 1 15.9 1 4.6 1 14.1 1-12.4 1-4.8 1-13.1 1 5.3 1-8.6 1-14.3 1-6.5 1-12.5 1-11.2 1-4.4 1-14.3 1-1.9 1-1.3 1-16.5 1-8.7 1 0.2 1-15.1 1-3.8 1 2.3 1-2.4 1 2.6 1-2.5 1 9 1-6.5 1-6.4 1 4.5 1 12 1-1.6 1 4.7 1-11.3 1 16.3 1 7.8 1-8.1 1-3.5 1 5.8 1-1.2 1-10.2 1 1.9 1 14.2 1 14 1 1.4 1 4.5 1-0.9 1 15.2 1 2.8 1-5.5 1 0.6 1 8.4 1 2.3 1 10.5 1-4.1 1-1.7 1 4.9 1-1.4 1-0.7 1-3.6 1-10 1 12.2 1-2.2 1 13.8 1 6.6 1 15.4 1 11.1 1 14.6 1-7.3 1 3.6 1-13.6 1-15 1-16.4 1-1.5 1-16.4 1 8.9 1-2.8 1-5.1 1 6.8 1 0.8 1 5.1 1-1.5 1 18.8 1-19.8 1-3.4 1 10.8 1-5.8 1 0.2 1-6 1 8.5 1-8.9 1 1.1 1-2.8 1 14.1 1-3.8 1-5.1 1-0.5 1 8.5 1 3.5 1 28.8 1 27.8 1 4.8 1-26.4 1-21.2 1-1.1 1-2 1-3.6 1-5.9 1 1 1-11 1 1 1-12.9 1-17.5 1-3.5 1-3.4 1-7.1 1 8.2 1 12.6 1 10.5 1 16.1 1 1.2 1-8.3 1-3.3 1 5.7 1-10.3 1 4.3 1 2.1 1-7.2 1 4.5 1 3.2 1 5.6 1-12.7 1 17.7 1-5.3 1 5.4 1-4.3 1 1.3 1 32.7 1 30.1 1-5 1-25.5 1-35.5 1-8 1 4 1-7.8 1 5.1 1-13 1 3.9 1 1.1 1 5.6 1-3.7 1 0.3 1-1.6 1-4.5 1 6.2 1 1.1 1 10.5 1-9.6 1-2.5 1-6.9 1 12.8 1-6.7 1-4.1 1 11.1 1 0.6 1-4.2 1-12.1 1 7.4 1-3.9 1-2.5 1 3.5 1 7.3 1-1.2 1-19.8 1-5.7 1-15.2 1-16.1 1-16 1 3.5 1 16.2 1 28.2 1 33.3 1 35.8 1 20.5 1-16.8 1-19 1-5.3 1-3.8 1-5.9 1-14.3 1 1.9 1 1.7 1-2.7 1-1.4 1 4.3 1 10.8 1 6 1-3.9 1-16.9 1-2.5 1 9.2 1-0.6 1-4.9 1 0.1 1 7.2 1-1.9 1-1.3 1-0.5 1-1.3 1-3.2 1 1.7 1 0.4 1-14.5 1 3.3 1 13.5 1-0.8 1-8 1-1.3 1 16.7 1-3.9 1 9.6 1 2 1-6.7 1-8 1-5.7 1-2.1 1-7.1 1 14.7 1 17.7 1 23.9 1-20.1 1-22.1 1-29.1 1 6 1 8.7 1 1.2 1 17.1 1-7.2 1 5.9 1 0.5 1-7.1 1-3.4 1 3.4 1 1 1 5.5 1-11.3 1 2.2 1-0.9 1-6.9 1 3.6 1 7.5 1 8 1-11.7 1-0.1 1 3.5 1-14 1 11.5 1 2.5 1 13.1 1-5.2 1-17.8 1 15.7 1 0.2 1-11.7 1 6.4 1 5.9 1-0.8 1-0.6 1-0.8 1 13.2 1 44.2 1 24.2 1 0.7 1-33.3 1-31.1 1-18 1-4 1-19.8 1-7.8 1-7.7 1-10.7 1 8.6 1 5.5 1 19.2 1 9.1 1-1.4 1 5 1-3.4 1 10.7 1 6.7 1-12.8 1-1.4 1 6.1 1-2.5 1-6.3 1 8.2 1-4.1 1 9.4 1-5 1-13.2 1 0.8 1 9.3 1-3 1-4.2 1-8 1 7.5 1 0.7 1 1.5 1-5.9 1 9.5 1-0.7 1-4.5 1 3.9 1 7.9 1 1 1 10.8 1-8.6 1 10.1 1 14.8 1 43 1-3.9 1-26.3 1-21.6 1-11.9 1-11.1" fill="none" stroke="#0b0b0b" stroke-width="1.15" stroke-linejoin="round"/>
<path d="M292.3 254.5V303" stroke="#0b0b0b" stroke-width="1.7" fill="none"/>
<path d="M300 256.5V417.5" stroke="#0b0b0b" stroke-width="2.3" fill="none"/>
<rect x="918.4" y="348.1" width="18.8" height="114.9" fill="url(#hatch)" stroke="#3c53ad" stroke-width="1.3"/>
<rect x="937.3" y="424.7" width="18.8" height="38.3" fill="url(#hatch)" stroke="#3c53ad" stroke-width="1.3"/>
<rect x="956.1" y="309.8" width="18.8" height="153.2" fill="url(#hatch)" stroke="#3c53ad" stroke-width="1.3"/>
<rect x="974.9" y="424.7" width="18.8" height="38.3" fill="url(#hatch)" stroke="#3c53ad" stroke-width="1.3"/>
<rect x="993.7" y="233.2" width="18.8" height="114.9" fill="#fff" stroke="#3c53ad" stroke-width="1.3"/>
<rect x="993.7" y="348.1" width="18.8" height="114.9" fill="url(#hatch)" stroke="#3c53ad" stroke-width="1.3"/>
<rect x="1012.5" y="41.7" width="18.8" height="191.5" fill="#fff" stroke="#3c53ad" stroke-width="1.3"/>
<rect x="1012.5" y="233.2" width="18.8" height="229.8" fill="url(#hatch)" stroke="#3c53ad" stroke-width="1.3"/>
<rect x="1049.5" y="348.1" width="18.8" height="38.3" fill="#fff" stroke="#3c53ad" stroke-width="1.3"/>
<rect x="1049.5" y="386.4" width="18.8" height="76.6" fill="url(#hatch)" stroke="#3c53ad" stroke-width="1.3"/>
<rect x="1068.3" y="233.2" width="18.8" height="76.6" fill="#fff" stroke="#3c53ad" stroke-width="1.3"/>
<rect x="1068.3" y="309.8" width="18.8" height="153.2" fill="url(#hatch)" stroke="#3c53ad" stroke-width="1.3"/>
<rect x="797.8" y="10.8" width="370.2" height="452.2" fill="none" stroke="#1a1a1a" stroke-width="1.7"/>
<path d="M797.8 424.7h9.5M1168 424.7h-4.5M797.8 386.4h9.5M1168 386.4h-4.5M797.8 348.1h9.5M1168 348.1h-4.5M797.8 309.8h9.5M1168 309.8h-4.5M797.8 271.5h9.5M1168 271.5h-4.5M797.8 233.2h9.5M1168 233.2h-4.5M797.8 194.9h9.5M1168 194.9h-4.5M797.8 156.6h9.5M1168 156.6h-4.5M797.8 118.3h9.5M1168 118.3h-4.5M797.8 80.0h9.5M1168 80.0h-4.5M797.8 41.7h9.5M1168 41.7h-4.5M806.6 463v-3M1156 463v-3" stroke="#1a1a1a" stroke-width="1.1" fill="none"/>
<text x="792.3" y="471.8" font-size="25" text-anchor="end">0</text>
<text x="792.3" y="395.2" font-size="25" text-anchor="end">2</text>
<text x="792.3" y="318.6" font-size="25" text-anchor="end">4</text>
<text x="792.3" y="242.0" font-size="25" text-anchor="end">6</text>
<text x="792.3" y="165.4" font-size="25" text-anchor="end">8</text>
<text x="792.3" y="88.8" font-size="25" text-anchor="end">10</text>
<text x="803.2" y="491.4" font-size="25" text-anchor="middle">0.0</text>
<text x="894.1" y="491.6" font-size="25" text-anchor="middle">2.0</text>
<text x="997.4" y="492" font-size="25" text-anchor="middle">3.0</text>
<text x="1108.8" y="489.6" font-size="25" text-anchor="middle">4.0</text>
<text transform="translate(756.4 227) rotate(-90)" font-size="34.7" text-anchor="middle">Number of fields</text>
<text x="697.3" y="537.6" font-size="34.55" text-anchor="start">DCN field evoked by IO stim.(ms)</text>
<path d="M15 614.4l1 3.6 1-4.3 1 17.7 1-7.2 1-4.9 1 0.6 1 4.2 1 0.5 1-14.4 1-3 1 2.5 1-0.1 1 2.2 1 1.2 1 4.4 1-3.9 1-0.7 1 0.9 1 0.8 1 1.4 1 13.2 1-11.9 1-0.6 1-5.2 1 8.2 1-7.6 1-0.5 1 9.2 1-4.3 1-1.5 1 46.8 1 6.7 1-47.7 1-40.7 1 4.8 1 8.5 1-3.7 1 4.4 1 6 1 10 1 3.8 1-1.1 1-1.2 1 1 1 1.6 1-5.1 1-1 1 6.6 1-0.8 1-7.8 1 5.4 1-0.9 1 10.3 1-10.5 1 7.3 1-3.7 1 3.2 1 8.7 1 0.2 1-10.3 1-2.3 1 4.7 1-1.4 1-3.5 1-1 1 3.8 1-7.3 1 8.3 1-2.6 1 4.6 1-1.9 1 9.5 1-16.3 1 7.8 1-3.3 1 8.1 1-14.5 1 12.4 1-13.5 1 11 1-4.4 1 2.9 1-4.5 1-3.3 1 8.7 1-2.7 1-4.4 1 1 1 7.9 1-2.2 1 0.6 1-0.4 1 2.3 1-0.9 1-3 1-4.5 1 3.3 1 0.3 1 2.7 1-7 1 6.7 1 5.5 1-7.2 1 2.2 1 1 1-13.8 1 4.8 1 3.6 1-1.2 1 6 1 0.4 1-7.9 1 6.6 1 6 1-7.8 1-5 1 5.5 1-4.1 1 10.6 1-9.4 1 2.3 1 6.7 1 6.8 1-5 1-3.1 1-0.7 1-2 1-1.1 1-0.5 1-1 1 2.5 1-4.5 1 5.1 1-3.2 1-2.1 1-8.6 1 19.4 1-7.3 1 1.3 1-0.1 1-0.8 1 6.9 1-12 1 6.2 1 2.1 1-2.7 1 0.1 1-5.2 1 10 1-9.3 1 12.8 1-6.9 1-9.8 1-4.9 1 13.6 1 1.2 1-5.9 1 11.4 1-9.4 1-1.2 1-5.7 1 6.9 1-2.6 1 3.6 1 2.6 1-4.9 1 3.9 1 3.9 1-3.6 1-0.8 1-0.9 1-7.9 1 7.6 1 0.2 1-0.6 1 6.5 1-3.3 1-0.7 1-7 1 11.2 1-4.7 1-7.1 1 2.6 1 1.6 1-6.4 1 6.4 1-4.5 1-0.5 1 4.7 1 8.7 1-12.6 1 0.8 1 0.6 1 9.1 1 13.3 1-12.9 1-6.3 1-4.1 1-0.5 1 5.4 1 2.8 1-2.1 1-6.4 1 11.3 1-19.5 1 5.7 1 10.5 1-8.3 1-1 1 2.5 1 3.4 1-3 1 2.6 1 0.5 1 1.4 1 0.9 1 2.7 1-5.8 1 4.5 1-4.8 1 6.2 1-15.7 1 7.2 1 3.7 1-3.4 1-1.5 1 5.6 1-8.8 1 3 1 7.7 1 4.8 1 4.4 1-1.1 1-15.8 1 10 1-5.7 1 2.4 1-2.2 1 0.4 1 1.9 1-0.1 1-7.8 1 10 1-7.4 1 2 1-10.2 1 6.6 1 4 1-2.3 1 2.7 1-5.6 1 5.3 1-0.2 1 6.4 1-0.8 1-3.9 1 0.1 1 0.2 1 1.3 1-5.2 1-3.7 1-6.9 1 11.6 1 5.5 1-9.3 1 6.2 1-2.5 1 1.9 1 1.5 1-8.8 1 10.5 1-2.4 1 0.2 1 5.4 1-2.2 1 6.6 1-1.3 1-13.2 1 3.5 1 1.1 1 2.7 1-7.9 1 0.7 1 3.9 1 2.5 1-2.8 1-6.8 1 10.4 1-6.1 1-2.7 1 7.8 1 5.3 1-10.4 1-2.4 1 4.4 1 1.9 1 7.8 1-8.1 1 4.3 1-7.9 1 0.2 1-3.3 1 2.8 1-3.6 1 3.3 1-0.8 1 2.4 1 12.2 1-1.7 1-5.3 1-3 1 8 1-12.2 1 8.9 1-1 1-6.7 1 10 1-3.6 1-3 1-1 1 1.6 1-1.5 1 1.1 1-11 1 18.1 1-2.5 1 10.6 1-3.6 1-6.1 1 1 1-11.7 1 3.2 1 2.4 1-6.5 1 12.5 1-3.1 1-5.3 1-2.9 1-1.5 1 16.5 1-19.5 1 4.2 1 11.3 1-2.7 1-3.8 1-2 1-5.7 1-1.1 1 6.4 1 4.4 1-0.8 1-0.3 1-4 1-7.5 1 11.6 1-5.4 1-6.8 1 20.4 1-9.8 1-1.4 1 3.9 1-4.5 1 0.1 1-0.3 1 1.1 1 1.9 1-2.6 1 9.9 1-12.2 1-3.4 1-2.1 1 8.7 1-4.2 1 3.9 1 0.4 1 3.1 1 13.3 1 14.1 1-17.4 1-13.2 1-7.3 1 4.8 1 2.3 1 2.7 1 0.6 1-6.3 1 5.1 1-5.7 1-0.3 1-0.5 1 4.1 1-3.4 1 1.1 1 4.8 1-3.7 1 3.8 1 0.5 1 1.7 1-2.7 1-0.2 1-3.8 1-1.8 1 9.9 1-3.6 1 3.5 1 2.2 1 2.7 1-16.9 1 6.2 1 8.3 1-13.9 1 7.7 1-3.5 1 2.1 1 2.5 1-10 1 8.9 1 1.2 1-9.2 1 6.9 1 10 1-6.1 1-4.4 1 6.9 1-13.4 1 6.3 1 0.7 1-1.5 1 2.2 1-8 1 7.6 1-6.2 1 10.6 1-2.7 1-2.4 1-0.8 1 3.2 1-6.2 1 1.2 1 5.9 1-5.9 1 11.4 1-13.2 1 1.1 1 0.3 1 3 1 5.4 1-1.2 1 0.9 1-2.9 1-1.5 1-1.4 1 2.8 1-0.9 1-6.4 1 9.2 1-9.9 1-0.5 1-1.4 1 4.2 1 8.9 1-16.3 1 7.4 1 10 1-11.6 1 4.9 1 3.4 1-0.7 1-8.9 1 11.4 1-3.6 1 4.6 1-6.7 1 0.2 1 3.6 1-10.6 1 14 1 0.4 1-7.1 1-1.5 1 0.3 1 2.6 1-6.6 1 13.6 1-3.7 1-4 1 9.2 1-6.7 1 0.2 1 4.6 1-4.6 1 4.1 1-8 1-3.5 1 22.5 1 27.5 1-20.8 1-11.7 1-6.9 1-2.1 1-2.6 1 4.1 1-3.2 1-4.4 1 4 1-2.2 1 0.6 1 5.3 1-12.7 1 10.2 1-2.7 1-5.7 1 35.5 1 1.4 1 11.3 1 8.9 1-0.3 1-3.7 1-3.7 1 5.2 1 11.9 1 4.9 1-2.1 1-3.7 1 3.7 1 7.6 1-2 1-2.6 1-2.9 1 11.3 1-6.3 1 3.1 1-6.4 1-8.8 1-6.5 1-2.1 1-10.7 1-16.3 1-2.7 1-2.1 1-4.4 1-6.3 1 4.1 1-13.4 1-4.6 1-12.5 1-2.3 1 4.5 1-12 1 2.7 1 8 1-2.9 1-1.5 1 5.2 1-9.4 1 9 1-15.9 1 3.2 1-1.7 1 16.4 1-20.1 1 13.5 1-4.8 1-1.4 1 8.9 1 5.5 1-9.8 1 2.2 1 4.4 1-6 1-10.4 1 8.8 1-4.2 1-0.2 1-0.8 1 0.1 1 3.8 1 9.6 1 10.1 1-1.6 1 0.9 1-8 1-5.5 1 10 1 3.5 1-12.4 1 6.7 1-11.9 1 19 1-10.4 1 3.3 1 30.9 1 37.4 1-25.1 1-54.6 1-26.5 1 14.8 1 7.2 1 14.4 1-13.4 1 21.3 1 0.2 1 9 1-1.6 1 12.8 1 19.2 1 42.2 1-45.6 1-31.7 1-20.2 1 12.8 1 2.1 1 12.7 1 0.9 1-10.4 1 11.8 1 3.9 1-8.3 1-5.2 1 2.3 1 17.2 1-12.1 1 16.5 1-5 1 3.5 1 6.3 1-17.2 1 5 1-3.6 1-6.6 1 5.1 1-1.9 1 5.4 1-0.1 1-2.9 1-6.1 1 15.8 1-3.9 1-3.1 1-2.3 1 5.4 1 8.3 1-6.4 1-5.4 1 0.2 1-3.5 1 7.8 1 1.2 1-3.2 1-7.1 1-0.6 1 6.8 1-10.6 1 5.9 1-2.2 1 1 1-1.7 1-2.9 1 0.1 1-9.5 1 1.5 1 6.8 1 5.4 1-18.4 1 7.1 1 14.8 1-16.9 1 13.8 1 0.6 1-9.7 1-3.4 1 13.9 1-9.3 1-1.7 1-6.1 1 27.1 1 16.8 1-27.8 1-37.9 1-34.9 1 15 1 12.7 1 5.5 1 4.7 1 15 1 11.5 1-7.5 1 6.2 1 0 1 2 1-5.3 1 4.5 1 3.6 1-7.1 1 3.8 1 16.3 1-15.2 1 13.2 1-10.7 1 6.3 1-1.7 1-4.2 1-4.2 1 13.2 1-7.2 1-2.7 1 4 1-8.5 1 6.8 1 0.5 1-8.1 1-1.3 1 4 1-7.6 1 13.3 1 0.7 1-4.6 1 1.6 1-11.5 1 10.3 1 3.9 1-3 1 1 1-6.2 1 12.5 1-12.2 1 2.7 1 4.5 1-5.1 1-2.4 1 10 1-16.2 1 7.5 1 6.9 1-13.3 1-1.1 1-0.1 1 3.6 1 14.2 1-7.4 1 4.7 1-12.4 1-4.5 1 5.4 1 8.4 1 2.6 1-15.3 1 5.6 1 9.3 1 1.6 1-1.5 1 1.1 1 7.6 1 26.3 1-19.7 1-26.5 1-32.8 1 1.8 1 24.6 1 3.1 1 3 1-0.8 1-1.3 1 9.3 1-8.7 1 6.8 1-0.3 1 0.5 1-4.1 1 9.5 1-9.1 1-5.9 1 7.3 1 2.2 1 0.2 1 3.6 1-9.8 1 11.9 1 1.1 1-4 1-6.8 1 0 1 5.9 1-6.9 1-1.6 1 1.6 1 49.6 1 44.4 1-50.3 1-33.9 1-24.2 1 8.5 1-12.2 1 6.7 1 10.2 1 4.3 1 3.9 1-4.6 1 4.2 1-2.1 1 2 1 0.8 1 8 1-0.7 1-14.6 1 13.9 1-7.6 1-2.6 1 0.6 1 3.6 1 1.5 1-11.6 1 12.4 1-6.2 1 5 1-0.5 1-9.6 1 7.5 1-1.2 1 0.1 1 9.6 1-12.3 1 3.7 1 8.6 1-8 1 1.8 1-8 1 14.6 1 37.6 1 48.8 1-62.2 1-43.1 1-25.7 1 10.2 1 5.9 1-1.8 1 12 1 9.7 1-0.4 1 0.8 1-4.5 1-0.7 1 10 1-12.3 1-7.6 1 1.1 1 9.8 1 0.9 1 0.8 1-6.5 1 6.4 1-2.7 1 4.7 1-3.9 1-0.4 1 3.1 1-6.6 1 4.5 1-16.3 1 13.9 1 8.6 1-0.6 1-6.6 1 3.1 1-1.4 1 3.1 1 10.4 1-9.4 1 0.3 1-6.2 1 3.3 1-4.2 1 5.2 1-1.1 1 3.4 1 2.8 1-0.1 1 0.2 1-9.2 1 4.8 1-1.5 1 6 1-13.5 1 8.1 1-1.1 1-4.5 1 5.8 1-0.5 1-5.7 1 1.9 1 3.7 1 13.5 1-13 1 8.9 1 24.9 1 40.1 1-38.7 1-53.7 1-16.2 1-1.2 1 14.1 1 3 1 14.7 1 0.3 1 4.7 1-8.5 1-1.6 1 5.6 1 7.5 1-7.1 1-0.9 1-4.4 1 4 1 4 1 2.8 1-2 1-3.1 1 4 1 4.6 1-1.8 1-4.2 1 4 1 0.3 1 5.1 1-15.4 1 7.8 1-0.1 1-0.7 1 2.6 1-12.2 1 12.5 1-2.3 1-5.5 1-0.5 1 6.3 1-2.9 1-1.7 1 0.9 1-2.1 1 10.5 1 5.7 1 1.1 1-15 1 2.6 1-6.1 1 4.2 1 0.7 1-4.9 1 5.2 1 3.8 1-5.2 1 5.2 1-11.9 1 11.5 1 0.3 1 3 1-8.2 1-0.8 1-4.7 1 11.2 1-2 1-3.1 1 1.2 1 2.2 1-7.8 1-6.1 1 3.4 1 3.4 1-4.7 1-4.1 1 6.5 1-0.2 1 9 1-1.6 1 6 1-5.9 1-4 1-2.8 1 10.3 1 6.7 1-16.1 1 1.5 1 5.9 1 0.7 1-1.1 1-6.5 1-1.5 1-3.9 1 11.7 1 1.7 1 0.2 1-5.6 1 2 1-0.4 1 5.6 1-6.9 1 6.7 1-8.2 1-3.2 1 14.4 1-12.1 1 5.2 1 10 1-8.7 1 6.4 1-17.9 1 15.9 1-4.2 1-2 1 4.8 1-15.2 1 10.4 1 3 1 10.6 1-15.1 1 13.3 1-12.1 1 3.6 1-7 1 1.7 1-2.9 1 2.1 1 5.7 1-3.3 1 11 1-4.8 1-11.5 1-1.1 1 7.7 1 1.6 1 6.1 1-2.2 1 10.9 1-10.6 1-8.2 1 3.7 1-3.9 1-3.3 1-1.2 1 7.2 1-6.8 1 1.8 1 11.5 1-6.9 1 0.3 1-1.9 1 1 1-6.5 1 0.8 1 11.4 1-11.4 1-2.8 1 4 1 7 1-11.2 1 2.8 1-2.7 1-0.1 1 8.2 1-3.7 1 3.1 1 3.5 1-3.4 1 13.4 1-16.8 1 6.3 1-5.3 1 3.8 1-4.9 1-8.8 1 8.9 1 4.5 1-4.1 1-2.3 1 4.4 1 2.7 1 2.9 1-10.7 1 1.7 1-3.6 1 2.1 1 0.6 1 7.1 1-1.4 1 1.2 1 0.4 1-0.2 1-0.7 1-1.3 1-0.7 1 5.1 1-6.7 1 5.2 1-9.7 1 6.8 1-2.6 1 1.6 1-5.1 1 2.7 1 3.5 1-2.1 1-0.3 1 2.6 1-2.5 1 3.8 1 0.6 1 0.5 1 14.7 1 0.4 1-13.8 1-2.5 1 10.7 1-7.3 1-1.9 1 5.3 1-6.4 1-1.5 1 2.8 1 4.2 1-7 1 1.1 1-8.1 1 4.4 1 5.4 1-0.1 1 0.9 1 1.8 1-4.5 1 7 1-9.6 1-0.5 1-2.9 1-0.9 1 10.7 1-7.3 1 4.2 1-5.1 1 6.5 1 1.7 1-9.1 1 1.2 1-5.8 1 17.2 1-9 1 2 1-3.1 1 1.2 1-6.3 1 6.2 1 1 1-2.1 1 3.1 1-11.6 1 11.3 1-2.1 1 3.3 1-4.9 1 2.2 1-1.9 1 14.6 1-16.6 1 7 1-1.1 1 1.3 1-8 1 8.6 1-6.2 1 1.4 1 2.8 1-8.2 1 8.3 1-6.5 1 8.6 1-2.9 1-4.7 1 0.2 1-2.9 1 4.5 1-1.2 1 8.2 1-2.8 1-2.2 1 1.2 1-2 1 4.2 1-2.2 1-0.5 1-1.5M15 614.3l1-4.9 1 8 1-3.2 1 6.1 1-0.3 1 11.1 1-0.1 1-6.6 1-4.1 1 5.5 1-4.4 1-8.9 1-0.2 1 3.9 1-0.2 1 7.3 1-9.8 1 3.5 1-0.5 1 2.5 1-0.4 1-9.1 1 11.3 1-4.2 1-4.3 1-1 1 3.8 1 8.5 1-3.2 1-2.8 1-4.8 1-6.7 1 2.5 1-1.5 1 13.6 1-7 1 8.1 1-5.6 1-4.5 1 4.7 1 4.8 1-4.3 1-1.3 1-7.6 1 6.9 1 9.4 1-8.3 1 3 1-2.7 1-4.5 1 2.7 1 3.7 1-2.8 1 8 1-0.1 1-3.3 1-4.8 1-8.1 1 11.3 1 0 1 12.7 1-14.6 1-5.3 1-7.7 1 7.3 1 2.4 1 4.7 1 2.2 1-9.8 1 8.1 1 1.1 1 0.2 1-7.3 1 6.8 1 3.7 1-6.2 1-7.8 1 9.4 1-6.2 1 10.4 1-9.3 1 5.2 1-2.8 1 3.9 1-10.6 1 9.9 1-4.2 1 2 1-4.4 1-0.1 1 1.8 1 2.8 1 2.6 1 2.3 1-2.9 1-1.3 1 3.9 1-11.5 1 9.2 1-2.7 1-1 1 0.5 1-2 1 2.8 1 1 1-0.3 1-4.6 1 6.4 1-7.1 1 1.9 1 7 1-5.2 1-0.7 1 3.5 1-1.5 1-3.5 1 0.7 1-0.9 1-0.6 1 4.6 1-4.9 1-7.2 1 7.8 1 6.7 1-2.5 1 0.4 1 1 1 2.6 1 1.5 1-5.3 1-4.7 1 9.5 1-5.6 1-2.1 1 8.4 1-2.7 1-12.6 1 11.4 1-8.8 1 15.9 1-10.8 1-10.7 1 15.1 1-10.1 1 8.5 1 3.8 1-4.1 1-7.8 1 10.1 1-5.6 1 1.6 1-3.8 1 4.6 1 2.2 1-8.1 1 9.7 1-8.8 1-0.2 1-3.6 1 10.3 1 21.4 1 27.8 1-30.8 1-35.8 1-23.4 1 4 1 11.7 1 1.5 1 14.1 1 0.2 1 1.3 1 6.3 1-1.7 1-0.6 1 8.3 1-11.3 1 6 1 4.3 1-11.1 1 0.5 1-5.6 1 6.8 1-3.1 1 6.7 1-2.7 1 7.3 1-0.9 1-9.8 1 5.1 1 3.3 1-3.2 1-0.3 1 1.6 1 1.1 1 1.8 1-9.3 1 10 1-4.7 1-5.6 1 3.1 1 1.9 1 2.3 1-3.4 1-10.2 1 8.1 1 6.6 1-4.9 1-11.1 1 21 1-9.5 1 4.1 1-4.8 1-0.9 1 8.9 1-3.3 1-2.9 1 1.9 1-2.3 1-2.8 1 3.4 1-3 1 1.7 1 2.4 1 4.6 1-4.6 1 0.5 1 2.4 1-3.8 1 3.3 1-4.4 1 1.4 1 7.2 1 5.8 1 0.8 1-11.8 1 9.4 1-6.9 1-5.3 1 6.3 1-0.3 1 6.2 1-10.4 1 8.5 1-8.4 1 3.3 1 2.1 1-10.1 1 10.9 1-3.2 1-10.3 1 5.9 1 12.6 1-0.4 1-8.7 1 6.9 1-12.5 1 11.3 1-6.4 1-4.4 1-0.5 1 3.7 1-2.3 1-2.8 1 2.5 1 0.7 1-3.8 1-0.6 1 7.2 1-8 1 3.9 1-1.3 1 4.1 1-4.7 1 2.4 1 6.6 1-11.6 1 5.2 1 1.8 1 1.4 1-2.4 1-3.1 1 6.5 1-3.6 1-3.2 1 3.7 1 1.4 1-4.8 1-3.3 1 16.1 1 3.2 1-12.3 1-7.7 1 3 1 2.1 1-10 1 16.8 1-4.7 1 9.5 1-11.6 1 9.3 1-10 1 3.8 1-7.8 1 12.4 1-2 1-10 1-1 1 7.6 1-0.8 1 4.5 1-3 1 1.2 1-2.3 1-0.8 1 5.4 1 2.6 1-3.7 1 0 1-4.7 1-2.4 1 1.8 1 9.5 1-5.8 1 4.5 1-2.4 1-3.1 1 2.7 1-0.1 1-6.6 1-1.1 1 4.1 1 7.3 1-2.5 1-4.3 1-1.4 1-6.6 1 8.8 1-2.7 1 0.5 1-0.5 1 3.1 1-2.2 1 4.9 1-3.1 1-4.6 1 0.9 1 4.4 1 4.7 1-3.2 1-2.8 1 2.2 1-4.4 1 1.6 1 0 1 6.5 1-7.5 1-0.5 1-1.4 1 4.5 1 2.3 1 8.7 1-14.7 1 3.2 1-0.4 1 2 1-8.6 1 13.4 1-2.3 1-13.4 1 17.9 1-5.4 1 2.2 1-1.8 1-6.6 1-1.4 1 1.1 1-2.7 1 8 1-1.6 1-2.5 1 1.9 1-7.9 1 7.2 1-1.6 1-4.3 1 2.8 1 5.4 1-7.1 1 7.2 1-2.6 1 1.9 1 8.2 1 0.8 1-0.1 1-12.9 1 12.1 1-0.9 1-9.9 1 5 1-4.9 1 2.2 1-8.9 1 15.4 1-1.4 1-4.8 1 2.8 1-4.2 1 4.7 1-2.1 1-4.9 1 7.3 1-4.3 1 1.4 1-4.1 1 7.2 1 7.5 1-8.1 1 0.2 1-12.6 1 6.6 1 2.6 1-3.2 1 13.7 1-16 1 6.3 1-2.6 1-3.5 1 4.1 1-4.7 1 3.5 1 13.4 1-17.8 1 11.3 1 0.6 1-1.6 1-5.7 1 1.1 1 5.1 1-0.6 1-7.1 1 12.9 1-6.1 1-0.9 1-1.6 1-1.4 1-4.8 1-1.6 1 9.4 1-11.6 1 2.6 1 5.8 1-0.3 1 6 1-12.4 1 10.4 1-3.4 1 0.3 1-4.1 1 7.6 1-10.5 1 6.1 1-3.3 1 10.6 1-4.8 1-2.2 1 7.8 1-6.5 1-6.2 1-0.4 1 3.3 1 3.1 1-9.1 1-2.8 1 12.9 1-3.7 1 2.3 1-7.8 1 6.2 1 4.5 1-1.1 1-3.7 1 6.6 1-7.1 1 0 1 4.7 1-7.2 1-1.8 1 2.2 1 0.8 1 5.5 1-1.1 1-0.6 1-0.3 1 6.6 1-9.5 1-3.3 1 10.5 1-4.6 1-7.2 1 5.6 1-4.7 1 4.5 1 18.2 1 2.5 1-4.3 1-9 1-15.4 1 8 1 5.9 1-7.7 1 1 1 13.3 1 24.4 1-2.1 1 18.1 1-2.5 1-1.1 1 4 1 9.3 1 9.1 1-3.8 1-9.2 1 6.8 1-2.8 1 11.7 1-5.9 1 17.6 1-5.9 1-11.1 1 6.4 1 4.4 1-8.1 1 2.3 1-26.4 1 7.3 1-2.3 1-6.8 1-6.9 1-18.1 1-10.5 1 4.7 1-9.5 1-5.2 1-12.7 1 2.3 1-1.4 1-6 1 4 1-6.3 1-0.2 1 1.1 1 5.2 1-6.2 1-3.8 1-3.2 1 12 1-4.1 1-11.4 1 14.4 1-0.6 1 4 1-6.7 1-4.4 1 13.1 1-0.6 1 0.6 1-0.1 1-5.5 1 9.4 1 1.1 1-6.7 1 9.7 1-12.8 1 3.5 1 10.4 1-14 1-4.2 1 7 1-0.5 1 8.9 1-3 1 4.4 1 9.8 1-15.8 1 2 1 1.9 1 11.5 1-11.1 1 11.1 1-8.9 1 2.1 1-0.1 1 7.9 1-4.3 1 4.4 1-0.7 1-6.3 1 7.1 1 5.1 1-3 1-3.2 1 5.8 1-9.4 1 2.8 1-13.5 1 19.2 1 0.8 1 0.5 1-1.7 1 13.9 1 38 1-27.1 1-38.3 1-14.5 1 10.5 1-9.5 1 44.7 1 47 1 25.2 1-79.4 1-36 1 3.1 1 2.6 1 10.3 1-3.2 1 9 1-11.3 1 10.5 1 8 1-0.5 1-7.1 1 0.6 1-3.3 1 9.6 1-7.7 1 1.8 1-3.7 1 10 1-5.2 1-2.5 1 1.7 1 2.4 1-12.1 1 5.2 1-2.7 1 5.9 1-2.9 1-6.7 1 5.9 1-4.2 1 6.1 1-10.6 1 14.7 1-0.5 1-1.7 1-4 1-1.9 1 12 1-11.1 1-2 1-0.7 1-1.5 1-4 1 6.9 1 0.4 1-6 1 2.9 1-0.6 1 1.4 1-0.9 1 12.3 1-3.4 1 1.9 1-8.5 1-4.2 1 4.5 1-4.2 1-2.7 1-14.1 1 17.8 1 0.6 1 3.2 1-4 1-6.5 1 8.7 1 9.1 1-6 1 11.3 1 28.4 1-28.3 1-29.9 1-28.3 1 12.8 1 10.2 1 13.1 1-3.4 1-2.2 1 13.9 1 4.3 1 1.8 1-6.6 1 2.7 1 5.5 1-6.5 1 27.3 1-6.6 1-18.7 1 5.9 1-10.2 1 21.5 1-15 1-3.9 1-6.9 1 5.5 1 3.4 1-3.2 1 7.2 1-4.3 1-5.4 1 11.1 1 3 1-20.1 1 12.8 1 2.5 1-9.4 1-0.1 1 5.5 1 0.5 1-5.4 1-2.4 1-5.7 1 8.5 1 0.2 1 4.7 1-3.7 1-6.9 1 8.3 1-1.1 1 6.2 1-7.1 1 3.2 1 1.8 1 2.3 1-5.4 1-6.7 1 8 1-8.2 1 0 1-4.5 1 19.6 1-7.5 1 7.8 1-7.5 1-2.1 1-1.7 1-1.5 1-3.4 1 17 1 31.1 1 58.7 1-59.4 1-47.8 1-21.3 1 13.7 1-5.2 1 9.4 1 5.3 1-4.6 1 0.4 1 12.5 1-2.9 1-0.6 1-0.5 1-2.1 1-2.9 1 12.1 1-5.9 1-3.5 1 10.6 1-6.6 1-5.9 1 13.3 1-8.4 1 2.1 1-2.4 1 4.8 1 2 1-3.6 1 1.3 1 3.9 1 6.8 1-9.2 1 4.1 1 0.1 1-7.3 1-0.2 1 1 1 15 1-19.1 1 2.3 1 5.7 1-2 1-10.2 1-1 1 4.3 1 10.2 1-0.6 1-11.2 1-7.6 1 6.6 1 9.7 1-8 1 1.7 1-3.6 1-1.1 1-8 1 15.3 1 5.5 1-9.5 1-0.3 1 5.2 1 30.9 1 40.4 1-38.6 1-40 1-16.1 1-1.8 1 3.9 1 10.1 1 6.9 1-4.1 1 2.2 1 6.5 1 1.2 1 5.1 1-13.6 1 30.8 1 26.1 1-30 1-27.9 1-34.3 1 4.2 1 15.6 1 5 1 11.9 1-3.8 1 7.9 1-4.6 1-7.1 1 7.6 1-3.4 1 5.4 1-0.7 1 4.1 1-2.3 1-4.6 1-1.5 1 3.1 1 8.4 1-2 1 2.5 1 0.4 1-15.4 1 14.7 1-2.1 1-1.9 1 0.8 1-3 1 1.5 1 8.8 1-7.2 1 9.2 1-7.3 1 6.8 1 3 1-7.8 1 1.3 1-5.5 1-2.6 1 4.3 1-0.7 1-5.9 1 8.6 1-8.2 1 6 1-3 1-9.8 1 6 1-0.1 1 3.5 1 3.9 1-2.5 1-2.2 1 0.1 1-7.8 1 5.1 1 8.8 1 1.5 1-6.1 1-0.2 1 5.3 1-1.6 1-7.3 1 0 1-1.5 1 13.2 1-5.9 1-7.2 1 9.7 1-7.8 1 3.9 1 6.8 1 31.2 1 30.7 1-36.6 1-38.5 1-28 1 12.7 1 5.1 1 0 1-1 1 15.7 1-4.2 1 13.2 1-14.9 1 11.1 1 4 1-10.6 1 7.2 1 0.1 1-3.4 1 6 1-6.6 1-1.8 1 8 1-3.5 1 3.1 1 5.7 1-6.5 1-14.6 1 5.6 1-1.4 1 3.3 1 1.5 1-0.9 1 3.3 1 0.4 1-9.7 1 11.1 1-1.1 1 1.2 1-6.5 1 4 1-4.8 1-1.5 1 6.7 1-2.9 1-7.5 1 15.8 1 0.3 1-13.3 1 2.2 1-5.6 1 8.3 1-2.6 1 9 1-9.2 1 0 1 4.7 1-6.7 1 12.5 1-11.5 1 0.9 1 3.2 1-6.9 1 11.5 1 2.7 1-1.2 1-10.7 1 14.8 1-4.2 1-4.7 1 1.1 1-11.7 1 8 1-1.4 1 5.2 1-4.7 1 11.3 1-11.2 1 6.2 1 3.6 1-4 1 6 1-1.2 1-10.1 1 8.6 1-1.6 1-2.1 1-11.9 1 9.3 1-6.6 1 12 1 1.1 1-8.5 1-1.7 1 6.8 1-9.2 1 6.2 1-4.8 1 4.2 1 3.1 1-11.2 1 4.6 1 2.9 1 1.5 1 7.8 1-7.1 1 1.5 1-9.6 1 4.6 1-5.7 1 4.6 1-4.3 1 6.6 1 5.4 1-2 1-4.3 1 2 1 1.2 1 0.9 1-6.3 1 12.2 1-5.5 1-3.2 1 1.5 1-6 1 2 1 11.7 1-7.2 1 0.5 1-1.7 1 0.5 1-3.3 1-0.5 1 6.1 1 1.5 1 19.5 1-18.2 1 0.2 1-4.5 1 0.4 1 0.2 1-8.8 1 10.5 1-3.9 1-1.3 1 1.7 1-8.9 1 13.9 1 3.7 1-9.1 1 4.6 1-4.1 1 0.5 1 4.9 1-2.5 1-2.3 1 0.2 1 1.9 1 2.6 1-1.4 1-1.8 1 1.6 1-3.8 1 0.7 1 0.7 1-5.8 1 1.3 1 4.1 1-2.6 1 5.7 1-6 1 2.5 1 0.4 1-3 1 2.1 1 2.3 1 1.2 1-8.3 1 3.8 1 3.6 1-6.1 1 4.2 1-4.1 1-2.5 1 5.1 1-4.8 1 8.5 1-1.6 1-9.1 1 5.9 1 5.7 1-7.6 1 2.6 1-3.3 1 3 1 3.1 1 3.2 1-4.1 1 0 1-0.3 1-1.5 1 2.6 1 7.1 1-12.8 1 5 1-7.8 1 3.5 1 3.7 1-4.2 1 7.6 1 0.4 1-5.1 1 2.7 1 1 1-8.8 1 4.2 1 0 1 5.1 1-4.3 1-12.8 1 15.8 1 1.5 1-2.7 1 1.7 1-7.6 1-1.2 1 2.8 1 3.1 1-4.7 1-0.9 1 2.5 1 7.9 1-8.9 1 4.7 1-0.3 1-0.8 1 3.1 1-0.1 1-2.3 1 1.8 1 1.6 1 2.4 1-6.8 1-0.3 1 4.4 1-3.7 1 5.8 1-1.7 1-11.6 1 11.4 1-10.9 1 10.7 1-1.9 1-7.8 1 6.5 1-5.2 1-8.5 1 17.9 1-5.2 1-8.4 1 14.7 1-8.9 1 1.6 1 3.5 1 3 1-4.8 1-3.7 1 1 1-4.5 1 11.5 1-3.6 1 2.4 1-5.6 1 2.8 1 2 1-4.9M15 616.9l1-2.6 1 7.1 1-5 1 2.6 1-5.4 1 11.6 1-7 1 0.8 1 6.6 1 2 1-4.7 1-5.9 1 2.8 1 1 1 5.4 1-5.6 1-5.6 1 4 1-8.2 1 0.5 1 7 1-3.3 1 10.5 1-5.5 1 3.3 1-0.8 1-2.8 1 2.8 1-16 1 11.5 1 7.3 1-6.6 1-0.4 1-2.3 1-6.2 1-1.4 1 6.7 1-3.9 1 5.9 1-1.5 1-2.1 1 3.9 1-6.3 1 7.8 1-8.9 1 3.4 1 6.9 1-1.9 1-4.7 1 5.6 1-6.3 1 0.1 1-3.1 1 7.8 1-0.7 1 1.6 1-1.2 1 5.3 1-5.2 1-14.8 1 11.3 1 13.7 1-3.6 1 2.1 1-15.9 1 6.9 1-1.9 1-3.7 1 11.8 1-10.1 1 1.4 1-6 1 9.2 1-1.6 1 9.4 1-13.9 1 4.8 1-1.1 1 0.4 1-2.2 1-5.6 1 10.5 1 1.8 1-3.3 1-0.6 1 0.6 1 3.7 1-14.7 1 17.5 1-7.5 1-3.3 1-1.8 1-1.7 1 1 1 8.1 1-5 1 7.4 1-5.2 1 0.5 1 1.6 1-6.5 1-1.6 1 5.7 1-5.5 1-1.4 1 5.6 1 5 1-1.5 1-3.9 1 4.8 1-0.8 1-4.9 1 3.4 1 5.5 1-8.1 1 9.5 1-2.4 1-7.5 1 9.8 1-4 1-12.1 1 7 1 1.1 1-9.4 1 7.3 1 4.6 1-5 1 1.3 1 0.9 1 1 1-0.1 1-4.7 1-7.5 1 11.9 1-0.5 1 3.9 1-3.1 1-8.3 1 11 1-5.6 1 5.6 1 4.4 1-5 1 10.7 1-4.8 1-7.5 1 2.7 1-1.7 1-2.7 1 0.4 1 8.5 1 0 1-2.3 1 6.6 1-9.2 1 6.6 1-8.3 1 1.2 1-0.1 1 4.6 1-2 1-3.4 1 4.1 1-1.4 1 0.4 1-4.4 1 3 1 5.4 1 2.2 1-9.7 1-2.1 1 9.6 1-4 1-5.7 1-2.5 1 6.5 1-4.6 1-3.2 1 15.4 1-5.2 1-10.7 1 8.8 1-10 1 16.1 1-8.6 1-3.4 1-4.5 1 3.6 1 8.7 1-6.6 1 5.2 1 4.2 1-7.2 1-4.6 1 1.1 1 3.3 1 5.7 1 5.4 1-13.3 1 0.3 1 4.3 1 7.9 1-9.8 1 8.1 1-14.1 1 8.3 1 1.9 1-7 1 2.7 1 4.9 1-4.8 1 4.4 1-2.1 1 1.2 1 2.9 1-14.7 1 5.9 1 3.2 1 1.2 1-2.5 1-4.1 1 7.3 1-9.1 1 15.4 1-14.6 1-8.9 1 7.3 1 18.6 1-0.5 1-5.8 1-1.6 1-2.3 1-1.6 1 1.1 1-4.8 1 4.5 1 3 1-8.5 1 9.3 1-0.1 1-6 1 8.5 1-7.2 1 7 1-4.5 1 4.2 1-15.8 1 14.9 1-3.1 1 0.8 1-0.3 1 3.1 1-6.2 1 11.6 1-4.4 1-8.1 1 3.3 1-4.8 1-3.4 1 1.4 1 4.3 1-4 1-0.3 1 2.3 1-2.5 1 3.4 1 2.2 1 3.6 1-3.9 1-0.1 1-3.1 1 15.7 1-5.7 1 14.9 1-16.3 1-7.6 1-1.8 1 1.2 1 3.1 1-2.6 1-4.3 1 0.6 1 3.6 1 0 1-2.5 1 5.6 1 4 1-4.9 1 5 1-5.8 1 11.7 1-14.5 1 3 1 7.8 1 13.9 1 31.5 1-12.4 1-31.3 1-34.2 1-8.4 1 17.6 1 0.1 1-2.7 1 11.4 1 0.5 1 7.2 1-8.6 1 12.7 1-6.6 1 5.6 1 1.1 1-6.4 1 5.7 1 0.9 1-9.4 1 1.5 1 1.4 1 2.3 1-6.9 1 9.3 1-2.3 1 0.9 1-0.5 1 7.6 1-10.5 1 1.1 1-10.8 1 15 1-6 1-2.5 1 5.1 1-1.7 1-4.5 1 12.5 1-9.1 1 5.6 1-5.2 1 3.8 1 3.8 1-6.6 1 3.8 1-3.8 1-5.1 1 6.6 1-3.2 1-4.6 1 10.4 1 0.2 1 0.1 1 1.9 1 2.3 1-8.2 1 3.4 1-8.8 1 9.6 1 0.9 1-4.3 1 11.9 1-9.1 1-7.2 1 4.8 1 1.7 1-9.7 1-1.9 1 3.8 1 5.9 1 1.8 1 4.7 1-9.4 1-4.5 1 5.4 1-2.8 1 4.7 1 6 1-11.1 1 12.1 1-6.7 1 3.9 1-15 1 9.2 1 3.9 1-7.4 1 5.2 1-2.5 1 1 1-1.4 1 8.9 1-7.9 1 5 1 3.5 1-8 1 2 1 14.7 1-25.2 1 12.4 1-1.8 1 8.8 1-7.5 1-2 1 1 1-4.9 1 12.1 1-5.9 1 1.7 1-5.5 1 4.3 1-5.3 1 6.2 1-4.2 1 2.9 1-6.3 1 2.1 1 8.6 1-6.7 1 2.4 1-3.9 1-1.6 1-3.2 1-2.9 1 6.6 1 12.8 1 14.8 1-15.4 1-6.3 1-5 1 2.3 1 2.1 1 3.1 1-0.8 1 2 1-2.5 1-9.3 1 11.5 1-1.2 1 1.6 1-6.3 1-0.4 1-3 1 10.4 1-3.8 1-0.1 1-7.8 1 8.1 1-6.1 1 6 1-4.9 1 1.9 1-14.2 1 17 1-6.9 1 2.7 1 2.5 1-8.1 1 3.1 1-0.3 1 8.6 1-2.6 1 1.4 1-4.2 1 1.4 1-4.7 1 10 1-1.7 1-5.7 1 4.1 1-1.1 1-7.1 1 6.8 1 0.7 1 1.5 1-5.8 1 5.7 1-4.5 1 8.1 1-6.6 1 3.9 1 1.8 1-7.4 1 6.2 1 2.6 1-3.1 1-3.9 1 6.4 1-4 1 0.7 1-3.6 1 7.6 1-6.9 1 4.1 1-4.1 1 1.6 1-2 1-1.3 1-1 1-6.3 1 6.2 1 7 1 4.6 1-7.4 1 0.7 1 3.7 1-2.3 1-2.5 1 2.2 1-11.8 1 12.1 1-11.1 1 0.4 1-1.5 1 2.6 1 2.8 1 9.8 1 21.9 1-3.4 1 13.2 1 5.7 1 1.6 1 2.5 1 8.6 1-3.8 1 4.3 1 5.5 1 5.8 1-0.2 1-8.5 1 6.3 1 1.3 1-3.1 1 5.7 1 5.9 1-4.2 1 14.8 1-9.1 1-13.5 1-2.6 1-6.8 1-6.7 1-7.9 1-12.6 1-0.2 1-15.8 1-4.5 1-3.8 1-8.4 1 3.6 1 6 1 43.3 1 14.4 1-50.5 1-36.7 1-3.8 1-4.6 1 9.6 1-4.3 1-0.7 1 9.1 1-6.6 1 10 1-13.7 1 1.2 1-4.8 1 8.9 1-9.6 1 15.9 1-3.6 1 1.9 1-4.3 1-3.8 1 2 1 1.6 1-0.3 1 8.3 1-6.6 1 4.9 1 0 1 6.8 1-6 1 10.8 1-12.2 1-0.1 1 7.6 1 2.4 1 10.9 1 0.7 1 0.2 1-14.4 1-4 1 13.3 1-11.4 1-1.1 1 4.9 1 2 1 0.4 1-2.3 1 4.7 1-0.9 1-9.6 1 6.5 1 11.8 1-9.5 1 9.5 1-9.1 1 0.8 1 9.9 1-5.7 1 2.4 1-5.9 1 12.6 1-18.5 1 18.8 1 7.9 1-10.9 1 2.4 1-9.5 1 7.6 1 3.6 1-2.3 1-4.4 1 0.9 1-2.1 1 12.3 1 52.4 1-9.3 1-54.9 1-31.6 1-13.8 1 14.1 1 12.9 1 6.8 1 2.1 1-2.6 1-3.8 1 7.3 1 6.4 1-1.1 1 10.9 1-8.8 1-5.1 1-0.1 1 1.9 1 9.2 1-4.6 1 0.8 1 6.1 1-4.9 1-8.2 1 11.7 1 0.5 1-5.9 1 3.4 1 6.3 1-2.5 1 8.7 1 0.5 1 22.7 1 23.8 1-41.2 1-37.2 1-31.3 1 15.4 1 8.6 1 12.2 1-4.8 1 10.2 1-5.7 1 3.3 1 8.1 1 0.3 1 9.2 1-6.2 1-1.4 1 5.7 1 0 1-12.9 1 11 1 2.3 1 6.7 1-13.6 1-1.3 1-13.9 1 13.3 1-1 1-3.3 1 3.4 1 4.9 1-12.7 1-0.1 1 13.4 1-16.4 1 5 1 7 1-4.1 1 5.7 1-8.9 1 7.4 1-0.5 1-0.3 1-7.6 1 11.9 1-6.7 1 39.7 1 38.6 1-41.8 1-42.9 1-14.2 1 10.1 1-2.3 1 10.2 1-2.7 1 13.9 1-20.9 1 10.2 1-3 1 8.9 1-15.6 1 10.7 1-15.6 1 12.5 1-11.1 1 5.6 1 5.5 1 6.5 1-2.7 1 3.7 1-9.6 1 8.9 1-4.8 1-7.1 1 5.4 1 3.4 1 6.6 1-4.8 1-2.9 1-5.3 1 11.4 1-5.3 1 2.5 1 1.3 1-8.3 1 14.4 1-7.2 1-2 1 7.8 1-8.4 1-0.8 1-6.9 1 10.7 1-3.1 1-3.2 1 8.7 1-4.2 1-2.3 1 2.7 1-4.6 1 8.4 1 0.4 1-2.5 1-5 1 0.9 1 9.5 1-12.5 1-4.2 1 10.3 1-7.4 1 0.3 1 2.1 1-2.2 1-1.5 1 6.8 1 6.2 1 10.1 1 23.8 1-10.6 1-39.8 1-19.2 1 4.4 1 10.9 1 8.1 1-9.1 1 6.6 1 4.5 1 1.9 1 4.6 1-2.4 1-6.1 1 2.8 1 5.9 1-9.1 1 2.4 1 2.9 1-11.7 1 9.9 1-3.5 1-2.3 1 7.6 1 2.2 1 2.7 1 1.8 1-1.4 1-5.8 1 1.5 1-2.7 1-0.3 1 1.8 1 15.4 1-11.6 1 2.6 1 0.2 1-4.9 1 4.7 1-1 1 2.3 1-4.8 1 9 1 0.4 1-14.9 1 20.6 1-10.4 1-16.2 1 10.2 1 0.1 1 8.4 1 3.3 1-11.2 1-3.4 1-1.8 1 12.3 1-10.3 1 13.2 1-10.9 1 3 1-6 1 12.4 1-9.4 1 4.6 1-2.2 1-3.1 1 3.3 1 2.7 1-7.2 1 14.4 1-16.1 1 5.3 1-9.9 1-5.1 1 3.2 1 8.1 1 2.2 1 2.3 1-3.7 1 5.7 1 34.1 1 24.7 1-32 1-16.2 1 4.9 1-14.6 1-28.8 1-9.5 1 18.8 1-3.6 1-2.3 1 3.9 1 10.1 1 10 1 1 1-6.2 1-9.2 1 5.1 1 6.2 1-4.1 1-4.6 1 5.7 1 4.4 1-9.3 1 3.1 1 8.8 1-0.5 1-10.1 1 5.9 1-2.7 1-1.4 1 1 1 10.1 1-11.2 1 6.5 1-0.2 1 9.7 1-7.2 1 6 1-8.4 1-6.5 1 4.9 1-3 1 3.2 1-3.2 1 5.8 1-11.5 1 13.5 1-6 1 6.7 1-15.3 1 10.4 1-6.6 1 13.4 1-5.6 1-4.3 1 2.4 1-11 1 14.1 1-9.1 1 11.5 1-12.6 1 7.4 1-4.4 1 3.6 1 0.4 1-3.8 1-6.3 1 12.4 1 0.9 1-8.9 1 5.9 1 18.8 1 31.7 1-26.3 1-40.5 1-24.6 1 12.1 1 12.8 1 2.2 1-1 1 2.2 1 14.4 1-3.8 1-9.9 1 1.4 1-1.5 1 6.1 1 1 1-0.3 1 7.8 1-7.3 1 7.2 1-3.7 1 2.9 1-10.4 1 4.9 1 7 1-1.6 1-1.8 1-5.8 1 2.4 1 4 1-1.4 1-0.2 1 6.5 1-13.9 1 5.9 1 1.5 1 7 1-12.3 1 11.8 1-8.2 1 6.3 1 2.7 1 2.6 1-5.5 1 1.4 1-5.6 1 6.3 1-0.5 1-2.1 1-2.5 1 9.9 1-5.8 1-8.4 1-0.8 1 1.9 1 1.8 1 4.5 1-6.9 1 4.6 1-10.3 1 9.5 1-5.2 1 13.8 1 8.8 1-13.4 1-5.4 1-4.3 1-2 1 10.1 1-6.3 1 5.6 1 0.8 1 0.5 1-6.7 1 5.7 1-9.3 1 14 1-8.1 1 0.9 1 3.2 1-0.5 1 5.4 1-12.5 1 3.2 1 11 1-10.7 1 10.3 1-8.3 1-3.3 1 11.3 1-5.6 1-5.1 1-0.2 1 4.6 1 2.7 1-9.5 1 8.1 1-4.8 1 2.3 1 4.9 1-7.3 1 4 1 2.8 1-14 1 8.4 1-7.6 1 1.9 1 3.5 1 5.1 1-3.4 1 0.6 1-4.2 1 9.7 1 0.1 1-1.9 1-6.5 1-2.8 1 5.4 1-4.2 1 0.4 1-3.3 1 8.8 1 8.5 1-11.3 1-0.5 1 6.5 1-7.8 1 13 1-7.4 1 4.9 1 8.8 1-16.7 1-2.8 1 0 1 3.4 1 2.3 1-2.7 1-5.3 1 2.7 1 2.7 1 6.3 1-8.9 1-4.5 1 7.5 1-7.3 1 7 1 0.9 1 3.1 1-4.8 1 1.4 1-5.5 1-2.7 1 13.3 1-10.4 1 5.1 1-2.1 1 2.5 1 5.3 1 4.7 1 0.9 1-13.4 1 5.3 1-4.9 1-1.7 1 2.7 1-4.8 1 0.3 1 2.6 1 1.3 1 1.3 1 4 1-2.6 1-4.6 1 3.4 1-5.3 1 0.7 1-0.6 1-0.6 1 0.5 1 12 1-12.7 1 6.9 1-0.3 1 0.2 1-1.9 1 5.4 1-6.3 1-2.3 1 0.6 1 6 1-1.3 1-1.8 1-2 1 6.5 1-1.5 1-7.9 1 3.1 1-1.4 1 0.2 1-0.1 1 4.2 1-4.4 1 4.8 1-4.7 1 8 1-4 1-2.5 1 12.7 1-3.2 1-2.7 1-6.3 1 4.9 1-9.4 1 3.1 1 6.1 1 0.3 1-4.2 1-0.9 1-1 1 0.4 1-1.5 1 0.8 1 1.7 1 7.2 1-8.2 1 0.1 1 0.3 1 5 1-10.9 1 7.8 1 0 1 0 1 5.6 1-6.3 1 3.9 1-6.2 1 8.3 1-6.1 1 0.4 1-2.5 1-3.2 1 2.5 1 0.1 1-0.2 1 5.8 1 0.9 1-0.9 1 2.6 1-0.4 1-0.8 1-1 1-2 1-5.9 1 8.3 1-10.3 1 2.7 1 2.3 1-0.2 1-6.7 1 1.9 1 8.9 1-3.8 1 1.3 1 6.3M15 621.8l1-7.6 1 8.2 1-6.5 1 0.6 1 1.7 1 7.1 1 4.3 1-4.6 1-10.7 1 0.6 1 13.9 1-12.6 1 4.8 1-0.5 1-2.3 1 2 1-8.3 1 9.4 1 2.6 1-2.7 1-0.9 1 9.4 1-3.1 1 0.6 1-11 1 6.7 1-7.7 1 0.5 1-1 1 2.7 1 8.3 1-7.5 1-5.1 1 1.2 1 1.6 1-4.3 1 4 1 0.5 1 5.6 1-7.5 1 3.7 1-0.2 1 1.2 1-4.3 1-0.4 1 12.8 1-9 1 2.9 1-3.5 1-0.2 1-3.2 1-0.6 1 4.2 1 2.1 1 9.6 1-9.2 1-3.1 1 10.7 1-5.5 1-0.3 1-2.8 1 5.1 1-7.5 1 4.2 1-2.8 1 5.2 1-7.9 1 14.9 1-13.3 1 6.7 1 10.2 1-12.2 1-6.2 1 4.4 1-4.8 1 1.6 1 1 1-4.8 1 6.4 1 0.8 1-13.3 1 6.4 1-1.7 1 2.7 1 4.9 1 1.9 1-8.9 1 10.2 1-7.1 1 5.8 1 3.3 1-8.7 1-1.5 1 10.7 1-9.1 1-5 1 10 1-6.3 1 0.3 1 4.7 1-2.3 1 0.6 1 4.3 1-7.2 1 3.1 1 0.6 1 1.2 1 0.2 1-0.9 1-4.3 1 5.8 1 3.1 1-15.2 1 1 1 14.4 1-10.8 1 6.3 1 5.4 1-2.5 1-4.3 1 8.2 1-5.4 1 7 1-6.7 1-2.6 1 1.2 1 0.5 1-0.9 1 1.8 1-3.4 1 2.6 1 1.8 1-3.8 1-0.3 1 6.1 1-9 1 1.1 1-2.8 1 8.8 1-3.6 1 0.1 1-3.2 1 1.5 1 1.3 1 2.9 1-2.1 1-1.4 1 0.4 1-1.6 1-0.7 1-2.7 1 9 1-8.8 1 8.1 1-10.2 1 4.1 1 9.7 1-15.1 1 8.8 1-7.9 1-3.5 1 10 1-1.8 1-6.3 1 10.4 1 1.6 1 1.4 1-11.9 1 7.6 1 2.9 1 0.6 1 0 1 0.4 1-6.2 1 8.9 1-5.9 1-2 1 1.5 1-3.6 1 0.3 1 2.8 1 2.4 1-10.2 1 4.2 1 9.7 1-1.1 1-6.7 1 2.5 1 8.4 1-7.9 1 1.1 1-2.4 1 2.7 1-2.5 1-1 1 11.3 1 2.5 1-10.7 1 1.3 1 0.5 1-0.3 1-3 1 3.4 1 0.2 1-7.7 1 6.9 1-1.7 1 6.4 1-7.1 1 0.1 1-3.6 1 1.8 1-1.8 1 6.5 1-7 1 5.1 1 1 1-0.3 1-6.6 1 1.4 1 3.4 1-10.1 1 5.8 1 5 1-13.8 1 11.5 1 1.1 1 7 1-10.2 1 1.6 1-0.6 1 0.9 1 2.5 1-12.9 1 13 1 0.1 1-6 1 5.7 1 0.7 1 1.3 1 4.6 1 3.4 1-0.4 1-2.5 1-15 1 3 1 14.6 1-11.1 1 2.5 1-13 1 5.8 1 11.7 1-14.1 1 11.8 1-11.2 1 5 1 1.1 1-2.6 1 3.2 1 7.3 1-4.1 1-5.7 1 10 1-5.7 1-3.5 1 6.2 1-0.2 1-5.7 1 1.3 1 2.2 1 5.4 1-10.9 1 6.8 1-3.3 1 4.2 1-10.5 1 4.1 1 4.9 1-3.5 1 2 1-4.4 1 6 1 13.7 1-13.7 1-4.1 1 7.1 1-3.3 1 2.2 1-2.1 1-5.1 1-4.1 1 10.7 1-13.3 1 12 1 0.4 1 0.3 1-2.7 1-2 1 1.2 1 9.7 1-22.3 1 18.7 1-14.9 1 10.9 1-1.5 1 5.7 1-4 1-3.7 1 9.6 1-9 1 5.8 1-7.2 1-0.6 1 8.3 1-8.8 1 3.2 1 0.2 1-1.6 1 8.6 1-3.4 1 9.5 1-5.3 1-3.4 1-3.7 1-0.6 1 4.9 1-9.8 1 10.4 1-7.4 1 2.1 1 3.3 1 2.6 1-8.1 1 3.8 1-2.9 1 5.6 1-9 1-10.3 1 21.2 1-4 1 2.1 1-0.5 1-2.4 1-1.3 1-2.4 1 5.9 1-2.7 1-3.6 1 2.8 1-7.3 1 7.1 1-1.7 1 6.4 1-8.1 1 2.7 1 1.4 1-2.9 1-6 1 8.9 1 1.6 1-6.6 1 9.6 1-1.5 1-7.6 1-3.2 1 9.3 1-3.1 1-6.5 1 5 1 1.5 1 0 1 1 1-3.8 1 2.1 1 4.8 1 7.5 1 5.1 1-16.4 1 7.3 1-10.4 1 9.2 1-5.2 1-6.4 1 3.7 1 4.2 1 0 1-2.9 1-1.6 1 6.9 1-11.8 1 0.1 1 11.3 1 2 1-3.6 1-6.7 1 2.6 1 6.8 1-6.7 1 2.6 1-5.2 1 4.9 1 0.7 1-5.4 1 1.1 1 1.3 1 2.4 1-5.8 1 17.1 1 42.6 1-0.8 1-51.5 1-29.6 1-7.2 1 14.5 1 7.2 1-4.5 1 10.6 1 1.3 1 1.8 1 1.4 1 1.1 1 1.6 1 3.6 1-7.8 1 7.6 1-5 1-10.9 1 8.5 1 2.8 1-1.1 1 5.8 1-8.1 1 4.9 1 1.9 1-1 1 6.3 1-2.6 1-8.4 1 12 1 24.7 1-20.7 1-4.4 1-12.6 1 2.7 1-4.7 1 8.4 1-2.6 1 0.4 1-6.1 1 9.1 1-8.3 1 4.5 1 8.1 1-10.9 1 0.3 1 2.3 1-0.4 1 3.1 1-7.2 1 8 1-0.5 1-1.2 1-9 1 7.1 1-0.6 1-1.6 1 0.1 1 0.5 1-4.6 1 9.1 1-1.7 1-1.3 1-2.4 1 6.4 1-1.5 1 5.5 1-8.7 1-8.7 1 9.3 1-4.2 1-3 1 7.6 1 0.3 1 0.9 1 4 1-3.3 1-4.1 1-0.9 1 11.2 1-15.8 1 14.4 1-7 1 2.5 1 2 1 0.5 1-7 1-1.8 1 10.4 1-7.1 1-1.8 1 1.5 1-3.1 1 3.7 1 5.2 1-10.8 1 9.6 1-5.5 1-2 1-0.2 1-1.7 1 15.6 1 0.7 1 19.6 1-1.9 1 11.9 1-0.3 1 13.5 1 0.5 1 5.2 1 4.3 1 3.4 1 3.1 1-1.1 1-0.7 1 11.7 1-10.2 1 8.5 1-5.4 1-2.9 1 0.1 1-4 1 3.5 1 11.4 1-20.6 1 4.5 1-16.1 1 10 1-0.5 1 5.2 1-41.8 1-4.3 1 4.7 1-13.5 1-12.7 1 12.1 1-12.5 1-3.8 1 0.4 1 0.6 1 4.6 1-5 1-6.7 1 12.7 1 46.5 1 12.6 1-45.2 1-39.5 1-14.7 1 13.6 1 0.9 1 6 1-8.2 1 10.5 1 0.8 1-6.2 1 2.2 1-6.8 1 10.8 1-0.9 1-4.5 1-5.7 1 3.3 1 5.7 1-6.9 1 6 1 0.4 1-3.1 1-0.3 1 7.7 1-0.5 1-2.8 1 0 1-2.3 1 1 1-1.3 1 17.3 1-0.5 1-0.2 1-8.5 1 20.5 1-15.4 1-1.2 1-2 1 6.3 1 11.4 1 6 1 0.8 1-10.2 1 4.6 1-7.9 1 13.7 1 4.2 1-2.1 1-1 1-4.1 1-3.5 1 8.8 1-0.6 1-13.7 1 17.9 1-14.7 1-5.3 1-7.2 1 11.7 1 3 1 4.1 1-5.8 1-6.1 1 9.3 1-2.2 1 0.9 1 2.8 1-0.7 1 10.5 1-13.6 1-4.7 1-12.8 1 10.7 1-2 1 4.2 1 2.2 1-10.6 1 9.8 1-7.1 1 3.4 1 27.7 1 23 1-28.1 1-32.2 1-21 1-1.1 1 14.5 1 12.2 1 4.9 1-5.2 1 5.7 1 11.7 1-2.4 1-8.3 1 8.5 1 4 1 10.6 1-10.5 1-8 1 11 1-1.9 1-3.8 1 2.9 1-4.4 1 6.2 1-5.9 1-3 1-4.5 1 6.2 1-3.9 1 4.5 1 0.8 1 0.6 1 4.4 1 7.8 1-4.7 1-7.1 1 0.9 1-11.5 1 4 1 2.7 1-2.5 1-7.9 1 17.3 1-12.3 1-2.1 1 0.4 1 24.6 1 16.1 1-12.5 1-32 1-23.2 1-1.4 1 17.2 1 9.6 1-1.9 1-1.8 1 3.4 1 1.4 1 9.8 1-2.3 1-9.1 1 5 1-4.7 1 5.5 1-8 1 14.9 1-7.5 1-6.1 1 6.8 1-0.4 1-0.3 1 12.8 1-10.9 1 1.9 1 0.4 1-6.1 1 10.2 1 7.5 1 11.1 1 48 1-47 1-39.3 1-21.2 1 10.4 1 14.3 1-5.9 1 7.2 1 4.7 1-5.4 1 3.6 1-2 1 5.2 1-9.5 1 4.2 1 1.9 1-3.2 1 1.8 1-5.5 1 13.7 1-7.7 1 12.7 1-8.1 1-4.5 1 9.6 1-12.1 1 7.1 1-7.6 1 1.7 1 11.4 1-5.6 1 0.8 1 1.2 1-10.7 1 8.4 1-2.9 1 2.3 1-3 1 6.6 1-4.7 1 5.4 1 6.3 1-11.6 1-10.2 1 8.7 1-2.8 1 11.3 1 4.8 1-14.1 1 4.6 1 0.3 1-3.1 1 6.6 1-15.1 1 6.2 1 4.4 1 4.7 1-8.7 1 5.2 1 3.7 1 3.4 1-3.4 1-6.8 1-0.9 1 4.3 1 33 1 43.2 1-44.1 1-44 1-26.9 1 16.5 1 5.8 1 1.7 1 10 1-11.9 1 15.3 1 3.6 1-2.9 1-3.1 1 4 1 7.1 1-0.6 1-6.6 1-0.3 1 1.8 1-9.9 1 4.8 1-7.3 1 20.8 1-8.4 1 9.3 1-1.4 1-1.4 1-12.2 1 1.7 1-1.9 1 6 1 5.9 1-10.4 1 4.8 1-1.5 1 0 1 2.5 1-0.9 1-9.4 1 4.6 1-8.9 1 12.6 1-10.8 1 8.9 1-1 1 4.9 1-6.8 1 10.2 1-12.1 1 13.7 1-13.9 1-0.9 1 9.2 1-8.9 1-2.6 1 3.2 1 5.2 1-4.9 1 6.1 1-4.6 1-9.3 1 10.6 1 17.3 1-12.5 1-3.5 1 11 1-13.5 1 9.2 1-14.5 1-2.1 1 9.4 1 0 1-6.3 1 2.2 1 3.8 1-5.6 1 5.6 1 2.1 1-4.4 1 2.2 1-0.3 1 37.1 1 23.9 1-21.8 1-58.4 1-21.8 1 12.4 1 14.7 1 9.3 1-3 1-4.7 1 7.9 1-6.4 1 12.1 1-10.7 1 2.4 1 10.2 1-4.6 1 2.1 1 10.5 1-12.8 1 3.8 1 3.6 1-7.4 1 6.9 1-4.5 1 1.8 1-3.8 1-4.3 1 5.6 1-0.3 1-1.9 1 9.3 1-2.4 1-8.5 1 13.3 1-5.4 1-9.4 1-3.5 1 13.3 1-3.5 1-0.9 1 5.4 1 33.9 1 46.8 1-51.6 1-45.6 1-18.9 1 4 1 9.1 1 10.9 1-0.6 1 13.2 1-13.4 1 2.7 1 10.3 1 4.2 1-10.9 1 3.5 1 2.1 1 1.2 1-12.3 1 8 1-4.8 1 1 1 2.5 1-2.3 1 3.9 1 7.6 1-8.8 1-1.3 1 0.8 1 7.8 1 26.9 1 22.2 1-26.5 1-38.9 1-21.8 1 10.9 1 1.3 1 4.6 1 2 1 10 1 3.7 1-0.5 1-9.4 1 7.6 1 2.4 1-10.9 1 17.4 1-5.2 1-5.4 1 3.2 1-13.2 1 13.1 1 3 1 3.9 1-9.7 1 1.2 1-6 1 2.7 1 0.3 1-2.4 1-3.3 1 2.2 1 4.7 1 1.7 1 4.3 1-1.4 1-3.6 1 5.2 1-6.5 1 2.7 1 2.5 1-2.7 1-5.6 1-3.6 1 6.8 1 3.8 1-6.3 1 3 1 0.1 1-4.8 1 8.6 1 3.1 1-7.8 1 0.9 1 1.8 1 1 1-10.2 1 6.5 1 3.8 1-2 1 7.7 1-9.5 1-2.3 1 5.2 1-5.9 1 4.2 1 15.3 1-10.3 1-0.6 1 11.1 1-12.6 1-6.4 1 8.1 1 13.5 1-6.2 1-15.9 1 3.9 1 10.7 1-13.1 1 10.2 1-1.4 1 0.6 1-4.5 1-2.2 1-5.3 1 6.3 1-5.1 1-2 1 14.3 1-6.8 1 7.5 1-3.1 1-6.7 1-7.5 1 7.4 1 12.1 1-6.9 1 1.9 1-1.4 1-10.7 1 6.4 1-1.4 1-1.1 1 4.4 1 5.7 1-1.7 1-8.7 1 6.6 1 2.3 1-7.8 1 2.6 1 3.3 1 1.8 1 0.4 1-4.2 1 3 1 0.6 1 7.1 1-18.9 1 11 1 1 1 7 1-9.8 1 3.7 1-2.2 1 0.3 1-6.8 1 3.7 1 6.5 1-6.4 1-6.3 1 5.5 1-9.3 1 9.5 1-3.5 1 12 1-0.1 1-1.4 1-5.8 1-0.9 1-2.2 1-1.7 1 5.8 1-0.9 1-4.7 1-0.7 1 5.7 1-4.6 1 2.4 1-0.1 1 2.6 1 2.9 1-2.4 1-1 1 0.1 1 1.6 1-1.6 1 4.6 1-7.9 1 3.4 1 0.2 1 0.7 1 0.3 1 3.2 1-9.9 1 3.1 1-1 1 4.2 1-2.7 1 0.6 1-0.5 1-4.2 1 12.7 1-11.4 1 0.2 1 0.6 1 2 1-6.3 1 2.1 1 19.4 1 9.3 1-12.1 1-10.7 1 1.6 1-3 1 1.1 1-1.2 1-2.7 1 3.4 1 3 1-5.8 1 6.7 1-6.2 1-0.2 1-5.8 1 6.7 1 3.9 1-3.2 1 4.8 1-5.5 1 7.9 1 3.8 1-5.3 1 0 1-3.9 1 0.8 1 2.5 1-8.5 1 1.2 1 0.2 1 6.4 1-7.4 1-3.6 1 4.5 1-1.4 1 1 1 2.9 1-2.4 1 3.7 1-3.9 1 4.7 1-5.7 1 14.9 1-9.8 1-4.5 1 4.1 1-2.4 1 11.5 1 0.2 1-3 1-0.4 1-4.6 1-0.7 1 1.9 1-2.6 1 4 1-5.9 1-2.3 1 4.7 1-4.8 1-0.7 1 3 1-1 1 3.8 1-0.1 1-7.5 1 6.9 1-1.9 1-1.1 1-4.7 1 1.8 1-0.4 1 6.1 1 4.5M15 619l1-0.2 1-2 1-8.3 1 3.1 1 4.9 1-5 1 8.3 1-5.2 1-7.9 1 8.9 1 3.7 1-5.1 1-4.9 1 5.4 1-0.2 1 0.2 1 1.4 1 2 1-2.4 1-3 1-4.9 1 9.3 1-2.5 1-3.8 1 3.4 1 7.6 1 3.9 1-4.9 1-9 1 1.6 1-0.6 1 2.1 1 7.4 1-16.9 1 11 1 10.6 1-9.7 1 4.2 1-1.9 1 3.2 1-2.5 1-5.6 1 1.5 1 6 1-10.3 1-1.3 1 7.8 1 2.6 1-2.5 1-0.2 1-4.6 1 10.3 1-1.5 1-11.2 1 13.4 1-9.4 1-3.1 1 5.7 1-2.7 1 2.3 1-3.6 1 4.7 1-2.2 1 1.3 1-0.6 1 5.1 1-9.2 1 3.2 1 4.5 1-9.7 1 18.4 1-4.2 1-10.6 1 3.9 1 9.1 1-13.2 1 4.6 1-10.9 1 7.5 1-9.3 1 5.8 1 4 1 1.3 1 2.1 1 0.3 1-4.3 1-5.2 1 5.5 1-7.4 1 12 1-8.8 1 5.4 1-4.4 1-1.4 1 9.4 1 1.3 1-9.5 1 9.5 1-8.2 1 3.1 1-2.6 1 3.8 1 0.6 1-0.5 1-1.2 1 6.8 1-7.6 1 1.7 1-6.5 1 0 1 7.4 1-10.4 1 1.6 1 6.5 1 2.8 1-1.1 1 5.3 1-5.7 1 4.1 1-1.5 1-3.5 1-0.3 1 0.6 1-2.4 1 2.4 1-4.1 1 7.5 1-4.8 1 4.7 1 1.6 1-15.5 1 9.8 1 6.4 1-2.6 1-9 1 3.7 1-5.9 1 11 1-6.2 1 2.1 1-7 1 7.9 1 1.8 1-10.4 1 3.7 1-8 1 12.9 1 1.3 1 5.7 1-17.3 1 15.9 1-5.9 1 3.4 1-5 1-0.3 1 5.5 1-15.8 1 16.3 1-2.7 1-0.6 1-1 1 4.5 1-7.2 1-0.7 1 6.3 1-2.1 1-0.1 1 2 1-0.4 1 0.3 1-5.4 1 0.9 1 0 1-2 1 5.2 1-1.5 1-2.2 1 1.1 1 1 1-2 1 0.1 1 4.6 1 5.2 1-4.3 1-2 1-2 1 0.4 1-0.5 1-4.9 1 14.6 1-18.1 1 5.5 1-0.7 1-2.5 1 11.2 1-10 1-1.2 1 9.9 1 3.8 1-6.3 1-7.9 1 9.6 1-4.9 1 5 1-2.7 1-1.6 1-3.9 1 7.7 1-3.6 1 9.8 1-0.2 1-7.7 1-4.3 1 4.3 1 1.7 1-0.6 1-3.7 1 9.6 1-4.5 1-10.9 1 15.5 1-3.6 1-10.5 1 2.3 1 7.9 1-5.1 1 2.3 1-9.6 1 3.9 1-0.2 1 2.8 1-1.1 1 7.3 1-4.6 1-1.5 1 9 1-8.2 1-0.2 1 2.6 1-6.1 1 11 1-6.8 1-1.8 1 6.3 1-1.2 1-1.4 1-0.4 1 0.5 1-0.7 1-6.4 1 5.5 1 2.3 1-6 1 10.7 1 7.4 1-11.2 1-4.4 1 0.1 1 0.2 1-7.6 1 9.1 1 2.6 1-1.3 1-11 1 7.1 1-9 1 8.7 1 6.8 1-6.4 1-4.3 1 2.4 1 8.1 1 7.2 1-7.2 1-0.9 1-2.3 1 1.6 1-5.3 1 4.8 1 4 1-8.7 1 9 1-10.8 1 2.5 1 5.4 1 5 1-7.2 1 2.7 1 2.5 1-1 1-1.3 1-2.9 1 1.1 1-5.8 1 6 1-0.1 1 7.7 1-2.4 1-2.7 1-1.9 1 0.1 1 1.9 1-0.1 1-1 1-11.1 1 11.4 1-5.4 1-1.8 1 7.6 1-1.6 1-3.3 1 0.7 1-9.2 1 4.9 1 7.6 1-3 1-1.8 1-5 1 7.9 1 2.4 1-5.7 1 1.7 1 2.3 1 1.2 1-6.4 1 2.4 1 6.5 1-8.4 1 8.5 1 0.3 1 7.4 1-16.7 1 2.1 1 2.8 1-1.9 1 5.4 1-3.3 1-5.9 1 5.5 1-2.7 1 8.8 1-6.8 1 6.5 1-8.4 1 1.2 1 1.4 1-2.3 1-1.9 1 0.4 1-3.3 1 5.6 1-0.8 1-6 1-2.3 1 7.6 1-2.5 1 6.1 1 8 1-11.7 1 6.6 1-1.1 1-9.3 1 2.8 1-0.1 1 7.3 1-4.1 1 8.8 1-6.9 1 2 1-3.3 1 5 1-17.7 1 14.3 1-1.5 1 8.2 1-6.4 1-0.4 1-2.1 1 5.5 1-3.6 1-3.4 1 10.3 1-17.3 1 14 1 5.8 1 12.2 1-25.2 1-3.6 1 2.6 1-3.1 1 4.5 1-5.2 1 7.1 1-2.8 1-0.5 1 10.2 1-17.3 1 7.3 1-1.3 1 6.1 1-0.4 1-0.9 1-5.2 1 5.6 1 0.4 1-2.9 1 5.6 1 5.1 1-17.5 1 6.7 1-5.5 1 6 1-3.2 1-5.3 1 8.9 1-3.3 1 7.6 1-5.4 1 4.2 1-2.9 1-6.4 1 11.5 1 0.6 1-10.9 1 2.5 1 6.9 1-12.8 1 6.2 1-0.2 1 1.6 1 4.6 1 2.4 1-9 1-2 1 3.6 1 8.8 1-0.7 1-7.9 1 0.8 1-1.3 1-7.7 1 8 1-3.6 1 8.4 1-7.1 1 7.4 1 2.5 1-2.2 1-1.7 1 5.8 1-12.4 1 7.6 1 13.4 1-9 1-1.8 1-2.6 1-9.6 1 7.6 1-3 1-0.2 1 2.8 1-6 1 7.6 1-9.5 1 7.1 1-2.6 1 29.1 1 29.6 1-31.4 1-38.5 1-25 1 14.7 1 3.9 1 5.6 1 3.5 1 11 1-5.6 1 11.9 1-10.6 1-6.1 1 5.8 1 11.5 1-2.1 1 0.7 1-0.4 1-0.6 1-7.8 1 0.5 1-0.9 1 1.8 1-2.2 1-4.2 1 2 1 8.3 1 0.5 1 3.4 1-0.5 1-6.7 1-0.2 1 4.4 1-0.1 1-7.2 1 6.2 1-2.8 1 1.7 1 2.8 1-9.8 1 5.8 1-0.2 1-1.5 1-2 1 19 1 20.4 1 4.6 1 3.2 1 17.5 1-2.9 1-4.3 1 13.2 1-3.3 1-4.2 1 9.9 1-4.7 1 3.4 1 1.8 1 5.7 1 3.9 1-4 1-10.2 1 9.1 1-0.2 1 11.1 1-5.1 1-20.2 1 4.5 1-1.9 1-6.3 1-12.7 1-16 1 8.9 1-1.6 1-26.4 1 4.9 1-20.2 1 9.8 1-8.2 1-3.4 1-4.4 1-7 1 1.5 1-0.8 1 3.2 1 1.1 1-3.8 1-17.9 1 2.4 1 15.8 1-4.9 1 22.2 1 5.1 1-26.3 1-14.7 1-8.2 1 5.1 1 7.2 1 8.6 1-7.2 1-10.9 1 12.7 1-3.1 1 13.2 1-6.9 1-0.8 1 4.5 1 3.5 1-5.6 1 3 1 9.6 1 11.4 1-12 1-0.1 1 0.4 1 5.8 1-6.5 1 2 1 9.8 1-14.4 1 8.6 1 3.1 1-2.5 1-6.8 1 1.2 1-0.4 1 7.7 1 8.8 1-2.6 1-6.5 1-12.8 1 8.5 1 4.9 1-2.1 1 8.9 1 4.6 1 3.9 1 1 1-11 1 1.2 1 5.7 1 5.5 1-3.9 1 7.2 1-11.6 1 2.8 1 6.6 1-5.3 1 5.6 1 6.2 1-8.4 1 0.7 1 5 1-0.7 1-7 1-4.5 1 0.3 1 14.6 1-4 1-3.7 1 3.4 1-1.6 1 1.5 1-7.6 1 1.6 1 10.3 1-13.8 1 13.6 1-8.5 1-3.5 1 4.1 1-11.3 1 0.8 1-0.2 1 4.6 1-5.6 1 39.1 1 38.7 1-33.8 1-49.5 1-8 1-1.1 1 2.8 1 9.2 1 7.6 1-2.3 1 0.3 1 1.1 1 2.3 1-8.8 1-0.6 1 4.4 1-2.2 1-2.3 1-1.2 1-3.6 1 7.2 1 1.9 1 6.3 1-11.6 1 1.1 1 6.3 1 0.2 1 1.1 1-4.4 1 7.8 1 0 1-2.6 1 2.3 1-1.5 1 3 1 10.7 1 0 1-5.3 1-0.1 1-6.8 1 1.4 1-11 1 1.1 1-3.6 1 6.4 1-9.7 1 8.5 1 4.7 1-14.1 1 11.7 1-10.8 1 6.1 1-10.7 1 10.7 1 3.6 1 0.1 1-9 1 8.4 1-2.3 1 1.3 1 4.3 1 6.3 1 2.9 1 21.4 1-30.2 1-9.5 1-23.7 1 7.4 1 7.3 1 6.9 1 11.8 1-8.7 1-4.4 1-0.8 1 9.9 1 5.8 1-7.7 1-6.8 1-0.9 1 13.8 1 0.3 1-10.9 1 31.2 1 23.6 1-27.8 1-38 1-14.7 1 14.6 1-6 1 3 1 12.3 1 1.3 1-0.2 1 2.9 1-1.4 1 3.2 1 3.3 1-5.3 1-9.3 1 4.8 1 8 1-6.2 1 10.1 1 4.7 1-13.3 1-11 1 5.4 1 10.6 1 0.4 1-3.3 1-1.6 1 4.8 1-0.7 1 5.3 1-0.7 1-8.6 1 6.8 1-2.2 1 0 1-9.4 1 13 1-13.9 1 5.3 1 1.9 1 0.3 1 0.2 1-5.9 1 4.3 1 13.1 1-12 1 2.5 1-9.5 1 11.9 1 3.2 1-14.2 1 2.6 1 2.8 1 7.7 1-3.6 1-1.9 1-0.5 1-11.9 1 18.3 1-3.5 1 2.5 1-3.2 1-4.5 1 10.3 1-4.6 1-2.9 1 0.4 1 29.2 1 28.6 1-36.5 1-25.7 1-22.1 1 3.4 1 11.8 1 0.8 1 5.6 1-9.2 1 12.3 1-8.3 1 2.9 1-1.3 1 5 1 15.9 1-14.7 1-0.4 1-3.9 1 10.6 1-7.4 1-6.7 1 17 1 21.6 1-23.5 1 0.3 1-5 1-3.2 1-6.9 1 7.3 1-8.1 1 14.1 1 11.4 1-15.4 1 2.9 1-3.5 1-1 1 0.6 1 1.4 1-5.7 1 14.6 1-9.6 1-1 1 0.4 1 2.8 1-2.2 1 4.1 1 6.7 1-9.5 1 0.2 1 3 1-10.1 1 4.7 1 7.3 1-8.7 1 9.7 1-14.5 1 1.7 1 1.6 1 5.7 1-9.7 1 3.8 1 0.3 1 6.6 1-4 1 7.4 1-8.5 1 3.8 1-0.9 1 7.7 1-3.2 1 0.5 1 3.4 1 21.4 1 35.2 1-28.3 1-45 1-18.8 1-8.1 1 19.9 1 9.6 1-6.8 1 13.1 1-10.9 1 8.9 1 0.4 1 0.5 1-0.4 1 0.3 1 2.4 1-8.2 1 11.4 1 0.2 1-4.8 1-4 1 10.7 1-3.7 1-8 1 5.8 1 3.5 1 4.9 1-18.1 1-4.6 1 18.2 1-11.7 1-2.6 1 6.7 1-5.7 1 4.2 1 2.5 1 3.4 1-1.4 1-8.7 1-2.9 1 10 1-0.5 1 7 1-7.6 1 9 1-8.1 1 1.8 1 4.1 1-3.8 1 4.7 1-3.7 1-6.3 1 0.4 1 7.5 1-14.5 1 14.2 1-11.1 1 0.2 1 10.5 1 15 1 16.6 1-17.8 1-32.8 1-17.1 1 8 1 11.4 1-0.6 1-0.2 1 2.3 1 7 1 6.1 1-1.9 1 8.9 1-10.7 1 6 1-6.5 1 6.4 1 3.4 1 27.3 1 23.9 1-35.7 1-30.7 1-35 1 0.9 1 17.8 1 8 1-0.7 1 8.5 1 3 1 1 1 4.9 1-2.1 1-6.9 1 9.1 1-7.8 1 1.2 1 10.3 1-8.6 1 6.7 1-3.7 1 4.6 1-7.4 1 6.2 1-1.2 1 8.7 1-0.8 1-9.3 1 5.8 1-6.2 1 4.2 1-10.1 1 10.7 1 5.6 1-0.7 1-11.1 1-8.2 1 11.2 1 0.7 1-0.5 1-0.3 1 9.9 1-3.4 1-6.3 1 6.1 1-13 1 2.2 1 10 1-5.6 1-4.1 1 6.9 1-2.5 1-4.4 1 11.8 1-12.6 1 7.2 1-6.3 1-7.2 1 18 1-5.1 1 11.6 1-13.2 1 7.4 1-0.4 1 2.3 1-11.4 1 10.9 1-10.6 1 2 1-0.4 1 1.6 1 3.6 1-10.5 1-6.1 1 5.6 1 4.1 1-1.9 1 6.3 1-1.8 1 7.3 1-5.5 1-1.2 1 1.7 1 1.3 1-4.8 1 9.9 1-8.6 1-1.5 1-1.3 1 3.4 1-9.1 1 3.8 1 1.2 1 1.6 1 5.5 1-5.8 1 5.9 1-4.7 1 0 1-1.9 1-6.9 1 4 1 7.5 1-1.1 1-1.4 1 8.4 1 7.6 1-6.2 1-12.5 1 13.9 1-6 1-6.9 1 2.3 1-2.1 1 1.2 1-2.4 1-1.3 1-2.2 1 4.2 1 3.9 1-1 1-2.9 1 0.6 1 2 1 3.4 1-6.5 1 0.9 1 0.2 1-2.8 1 5.9 1-10.2 1 11.9 1-9.9 1 5.1 1 1.3 1 5.1 1-6.9 1 2.2 1 0.8 1-0.5 1 7.6 1-11.9 1 8.8 1-9.2 1 24.7 1-18.4 1 2 1-4.9 1 0.4 1 0.5 1 6.8 1-11.4 1 4.1 1-4.9 1 6.9 1-7.9 1 4.7 1 2 1 8.8 1-4.8 1-0.2 1-2.2 1 1.9 1-9.9 1 5 1 1.7 1 3.6 1-5.4 1 5.9 1-8.9 1 4.9 1-1.5 1 5 1-0.5 1-3.4 1 1.3 1-2.5 1 1.4 1-1.8 1 8.5 1-12.3 1 6.9 1-5.6 1 7.5 1-8.1 1 4.8 1 7.2 1-12.3 1 0 1 12.6 1-9.2 1-2.8 1 6.2 1-7.2 1 1.2 1 6.6 1-2 1 0.9 1-3.5 1 11.8 1 5.8 1-8.2 1-4.1 1-5.4 1 8.3 1-12.9 1 0.2 1 4.1 1 11.5 1-11.1 1 3.9 1 5.4 1-8.6 1 1.3 1-5.2 1 2.2 1 1.1 1 3.6 1-7.8 1 6.8 1-7 1 6.8 1-2.1 1-1.8 1 4.7 1 11 1-7.4 1 2.8 1-12.8 1 2 1 2.3 1 6.6 1-9.3 1 1.4 1 7.5 1-1.9 1 1.5 1-8.6 1-4.6 1 6.2 1 2.3M15 625.2l1-6.6 1-9.8 1 6.7 1 4.4 1-8 1 1 1 9.8 1-11.8 1 6.2 1-1.8 1 9.3 1-0.8 1 0.2 1-12.5 1 7.8 1-17.2 1 8.9 1-3.6 1 12.5 1-7.9 1-3.5 1 14.7 1-7.9 1-2 1-5.1 1 7 1-0.4 1 2.1 1-9.3 1 11.8 1-2.8 1 0.8 1 4.7 1-6.1 1-2.4 1 8.2 1-4.7 1-1.4 1-5.4 1 7 1-2.3 1 4.3 1 0 1-4.9 1 4.9 1-3.2 1 5.6 1-10.4 1 18.5 1-6.2 1-8.6 1 6.6 1 5.8 1-1.7 1-7.3 1-3.5 1 3 1 3.6 1-5.3 1 1.4 1-1 1-0.2 1 0.5 1-13.6 1 4.2 1 9.8 1-3.1 1 7.4 1-2.8 1-2 1 0 1 0.5 1 1.1 1-5.3 1 4.6 1-3.6 1 5.2 1-0.9 1 4.2 1 8.9 1-1.7 1-16.1 1 2.4 1-1 1 4.4 1 1.9 1 1.4 1-6.5 1 3.7 1 0.5 1-0.9 1-7.1 1 6.1 1-2.8 1-0.8 1 9.6 1-6.6 1 0 1-0.1 1 3 1-8.5 1 2.4 1 2.2 1 4.7 1-5.3 1 5.5 1-3.6 1 4.3 1-4.5 1-7.2 1 2.3 1 1.9 1 1.1 1-0.8 1-2.6 1 7 1-5.6 1-2.3 1 11.9 1-9 1 2.3 1-10.4 1 10 1 0.3 1 1.8 1-5.6 1 1.3 1 4 1-7.9 1 10.7 1-5 1-4.8 1 7 1-2.9 1 2 1-4.7 1-3.2 1 0.8 1 6 1 0.3 1 5.8 1-9 1 7.5 1-8.5 1 8.2 1 3 1-3.3 1 5.5 1-6.9 1 3.6 1-1.8 1-1.1 1-2.8 1-0.2 1 3.2 1-3.1 1 2.7 1-1.9 1 3.5 1-3.7 1 5.1 1-10.6 1 11.7 1-11.1 1 3.2 1-3.9 1 3.1 1 0.8 1 4.1 1 1.3 1-2.9 1-3.8 1 9.8 1-3.6 1-5.9 1 7.6 1-1.9 1-2.9 1 7.1 1-13.5 1 6.3 1-4.4 1-2.1 1 1.5 1 3.6 1 5.6 1 2.1 1-12 1 6.8 1-2 1-2.4 1 1 1-1.4 1-0.7 1-0.8 1-5.3 1 17.6 1-6.8 1-1.4 1 7.6 1-12.6 1 10.5 1 1.8 1-2.9 1-1.6 1-3.9 1-2 1-5.5 1-1.5 1 16.9 1-4.2 1-12.3 1 13.6 1-5 1 4.2 1-1.5 1-6.9 1 4.5 1-8.1 1 5.2 1 3.7 1-2.7 1 2.2 1 5.3 1 0 1-5.4 1 14.8 1-14.1 1 18 1-16 1-8.8 1 9.2 1-1.9 1 3.9 1 0.2 1-2.5 1 0.3 1 5.1 1-5.3 1 3.7 1 0.9 1-7.7 1 9.1 1-4.2 1-3 1-11.2 1 7.4 1 10.1 1-4 1-5.7 1-0.2 1-7.7 1 9.5 1 1 1-3.7 1 6.7 1 5.6 1-8.6 1 6.1 1-4.1 1-2.7 1 8.7 1 2.6 1-3.1 1-5.9 1 4.8 1-16.1 1 12.8 1-9.2 1 3.1 1 8.4 1-10.6 1 7.1 1 3.2 1-10.7 1 0.5 1 14.2 1-16.1 1 10.1 1-0.2 1-4.7 1 5.5 1-6.4 1 3.1 1 3.3 1-3.7 1 2.3 1-2.1 1 4.9 1-15.3 1 7 1-2.8 1 5.6 1-4.3 1-1 1 8.7 1-11.1 1 8.1 1 5 1 17.3 1-22.4 1-1.6 1-3.1 1 9.9 1-7.5 1-1.2 1-3.5 1 8.2 1 2.9 1 5.1 1-14.4 1-3.6 1 3.1 1 10.4 1-4.9 1-3.7 1 7.1 1-4.4 1-6.1 1 0.9 1 19.6 1-8.1 1-1.1 1-1.1 1 2.6 1-13 1 8.7 1-4.8 1 4.6 1-6.3 1 0.3 1-2.3 1 13.5 1-9.5 1 0.9 1 1.4 1-1.9 1 2.3 1-6 1 4.5 1 3.7 1-3.9 1 5.5 1-2 1-0.6 1-3.5 1 5.2 1-2.2 1-1.8 1 6.1 1-6.3 1 2.5 1-3.2 1 2.2 1 2 1-4.1 1 0.6 1 11 1 15.2 1-20.6 1 0.7 1 0.3 1-5.4 1-2.4 1-0.3 1 4.9 1-9.8 1 6.9 1 5.8 1 4 1-0.8 1-5.7 1-9.1 1 0.1 1 6.5 1-2.9 1 6.8 1-3.7 1 0.8 1-4 1 1.7 1 4.5 1-0.1 1-5.6 1 8.2 1-4 1 0.9 1-4.5 1 0.9 1 5.9 1 5.1 1-3 1-0.9 1 3.8 1-5.3 1-3.7 1-0.5 1-1.1 1-0.2 1 5.3 1 4.7 1 0.8 1-6.1 1-5.4 1 8.5 1-7.3 1 0.8 1 4 1-0.3 1-3.9 1 7.7 1-7.7 1-3.6 1 0.2 1 8.9 1-8.8 1 9.2 1-0.5 1-4.2 1 9.1 1-15.6 1 2.8 1 5.2 1-3.9 1 5.9 1-7.9 1 8.1 1-1.8 1-3.9 1-1.8 1 2.5 1 2 1-8.8 1 7.6 1 0.7 1-2.2 1-2.4 1 10.8 1-1.8 1-4.5 1-1.1 1-8.1 1 10.6 1-1.4 1 4.5 1 1.2 1-2.8 1-4.5 1 6.1 1-1.5 1-6.8 1 0.3 1 3.2 1 0.4 1-3.5 1 2.9 1-3.8 1 3.3 1-1.3 1-2.2 1 6.8 1 6.3 1-5.8 1 0.4 1-3.5 1 6.3 1-5.7 1 1.7 1 3.8 1-6.1 1-2.5 1 1.2 1 9.5 1 4.3 1-3.1 1-3.6 1-10.6 1-1.5 1 7.8 1-1.4 1-0.1 1 6.7 1 20.6 1-15.6 1-6.6 1-2.4 1-7.2 1 5.1 1 3.1 1-7.9 1 8.6 1 3.3 1-1 1-8 1 1.1 1-1.2 1 3.7 1-9.9 1 7.1 1 2.5 1-2 1 6.2 1-6 1-7 1 4.1 1 2.5 1 2.7 1-5 1 3.9 1-2.2 1 2.2 1 7.9 1 21.8 1 7.6 1 11.7 1 7.2 1-0.6 1 4.8 1-5.7 1 7.4 1 6.5 1-6.7 1 5.3 1 0.2 1 2.2 1-9.5 1 3 1-4.6 1 12.4 1-0.6 1-5.3 1 3.7 1-6.7 1-4.4 1-4.2 1-6.8 1-7.5 1-0.3 1-9.1 1-0.2 1-15.6 1-12.2 1 5 1-18.7 1 11.3 1-15.9 1 0.6 1-1.6 1 14 1-13.2 1 3.3 1-1.1 1-6.8 1 2.7 1 1.3 1 4.6 1-5.3 1 1.9 1-12.9 1 2.9 1-1.7 1-4.4 1 20.4 1-7.9 1 4 1 53.9 1-29.3 1-34.9 1-13.5 1-11.2 1 15.3 1 18.2 1-8.8 1-3 1 12.7 1 1.3 1-2.3 1-1.2 1 11.6 1-1.6 1-12.6 1 8.5 1-7.3 1-1.8 1 2.3 1-2.5 1 4.8 1-11.3 1 9.1 1 6.4 1 1.6 1-3.8 1-3.1 1 6.6 1 4.9 1 4.9 1-1.2 1-8.6 1 11.5 1 2.2 1-6.8 1-3.2 1 5.6 1 6.1 1-10.1 1 2.8 1 6.1 1-5.3 1-7.9 1 14.6 1-7.5 1-4.8 1 1.8 1-8.5 1 18.2 1-11.5 1 4.7 1 5.1 1-7.9 1 3.8 1 2.2 1 1.8 1-2.3 1-8.5 1 4.3 1 12 1-8.6 1 11 1-4 1 0.9 1 0 1-0.3 1-14.2 1-4.3 1 7.6 1 2.8 1-3.7 1-0.8 1-1.3 1 0 1 1.1 1 0.3 1-0.2 1-6.4 1 3.7 1 9.3 1-6.5 1 3.1 1 4.1 1-1.6 1 30.6 1 39 1-48.8 1-27.5 1-13.3 1 9.8 1 4.4 1-7.5 1 4.7 1 2.2 1 7.2 1-6.5 1 5.1 1 9.5 1-12.7 1 7 1-2.5 1 16.6 1-10.2 1-5.6 1-3.9 1 0.4 1-2.1 1 10 1-2.3 1 7.9 1-2.6 1-1.7 1-0.5 1 1.3 1-1.5 1 10.4 1-2 1-10.3 1-0.6 1-5 1 0.3 1 3.9 1 5.7 1-4.4 1-11.5 1 3.9 1-0.1 1-2.3 1 11.5 1-4.2 1 2.4 1-8.5 1 5.4 1-5.1 1 7.7 1-5.9 1-6.1 1 10.8 1 3.4 1-9.6 1 3.8 1-2.6 1 11 1-10.2 1-10.6 1 3.6 1 4.4 1 6.4 1-5.6 1-5.1 1 8.3 1 3.3 1 4.1 1-5.2 1 1.7 1-1.5 1-1.3 1 6.4 1-7.8 1 10.8 1-8.3 1-9.6 1 8.7 1-1.1 1-1.7 1 26.2 1 44.9 1-53.2 1-23.8 1-15.2 1 34.9 1-20.7 1-18.1 1-11.4 1 6.1 1 10 1 11.8 1-8.7 1 14.5 1 2.5 1-4.4 1 11.8 1-12.1 1 11.3 1 2.7 1-17.1 1 3.9 1 4.3 1-3 1-9.3 1 13.1 1 2.6 1-0.1 1-8.7 1 8.3 1 0.6 1-2.1 1 0.9 1 2.4 1-9.4 1 4.2 1 3 1-3.5 1 3.9 1 2 1 10 1-19.7 1-4.7 1 6 1-6 1 5.1 1 3.6 1-6.3 1 8.9 1-1.7 1-0.3 1-1 1 4.5 1-0.2 1-8.3 1 9.5 1-8.9 1 3.6 1 3.9 1-6.4 1-10.1 1 5.2 1 8.7 1 5.4 1-7.9 1 7.2 1-8.1 1-0.3 1-0.3 1-0.4 1 10.2 1-8.3 1 4.9 1-6.8 1 4.3 1 1.2 1 1.9 1 1.4 1 19.1 1 8.3 1-15.3 1-32.2 1-28.6 1 8.6 1 13.2 1 4.1 1 9.7 1 10.2 1-1.4 1 3.3 1-7.1 1 6.3 1-7.5 1 3.4 1 18.6 1-13.4 1 1.8 1-8.9 1 6.3 1-3.6 1-2.1 1-4 1-2.3 1 11.5 1-4.7 1 4.5 1 2.7 1-0.8 1-2.7 1 0.7 1 6.7 1-1.2 1-6.4 1-8.6 1 9.5 1-8 1 5.5 1 4.2 1 1.8 1-5 1 2.9 1-1.3 1-3.2 1 5.6 1-6.6 1-1.9 1-2.1 1 8.5 1-0.4 1 2.2 1-5.4 1 4.3 1-2.8 1-6.8 1 6.9 1 4 1 3.9 1-3 1-6.1 1-0.3 1-2.7 1 9.2 1-1.5 1 1.8 1 5.3 1-7 1-4.9 1-0.5 1-6.5 1 12.7 1 21.6 1 21.7 1-24.8 1-27.4 1-22.5 1 11.6 1-11.5 1 14.5 1 6.9 1-0.8 1 10.4 1-9.9 1 0.7 1 2.4 1-10.4 1 15.9 1-3.8 1 11.3 1-19.1 1 12.5 1 2.4 1-13.6 1 5.4 1 2.7 1 0.9 1 0.1 1-4.3 1 11 1-16.9 1 13 1-7 1 6.1 1-4 1-3.8 1 6.7 1-1.1 1 2 1-9.8 1 0.6 1 4 1-5.3 1 8.5 1-11.9 1 2.5 1 3.3 1 8.2 1 3.7 1-6.5 1 5.5 1-13.7 1 9.3 1-1.6 1 6.9 1-6.3 1-0.1 1-7.4 1 16.2 1-14.2 1-2.9 1 5.1 1 0.5 1-7.3 1 16.4 1-14 1 4.7 1 10.2 1-4.1 1-5 1 2.9 1 9.7 1-13 1-0.4 1-1.4 1 1.4 1 2.4 1-0.7 1 20.5 1 25.2 1-28.2 1-26.5 1-25.3 1 0.7 1 16.6 1 6 1 4.4 1 38.1 1 56.9 1-50.6 1-46.8 1-31 1 8.7 1 10.3 1 3.6 1 5.1 1-0.7 1 9.8 1 2.5 1-11.9 1 13.1 1-2.3 1 5 1-4.4 1 1.2 1 5.8 1-6.1 1 1.1 1 3.3 1-9.8 1 5.3 1 5.8 1-12 1 3.6 1-5.4 1 13.7 1-6.1 1 0.4 1 3.3 1 0.9 1-2.4 1-2.7 1-1.6 1 8.6 1 1.5 1-4.9 1-4.4 1 5.7 1-2.4 1-2.6 1 3 1 2.9 1-6.4 1 3 1-2.2 1 6 1-2.1 1 2.8 1-2.4 1-3.9 1 5.8 1-5.5 1 7.4 1-9.9 1 1.7 1 1.4 1 2.2 1-0.2 1 3 1-4.4 1-0.3 1-0.7 1-2.1 1 3 1 7.5 1-3 1-2.5 1-3.6 1 1.6 1-4.8 1 5 1 0.5 1-0.5 1-4.7 1 9 1-8.4 1 3.8 1 2.4 1-6.3 1 4.3 1-3 1 4.5 1 2 1-0.2 1-10.7 1 7.8 1-0.2 1 12.9 1-6.5 1-5.4 1 4.3 1-9.6 1 8.3 1 0.7 1-7.9 1 13.1 1-7.4 1-11 1 12.9 1-6.6 1 0.4 1 4.1 1-11.6 1 8.4 1 0.6 1-0.8 1 2.9 1-4.4 1 3.3 1 3.2 1-11 1 13.8 1-7.3 1-2.8 1-4.2 1 12.5 1-5.8 1 4.9 1 5 1-7.8 1-0.6 1-2.4 1 6.5 1 5.3 1-1.3 1-8.9 1-0.8 1 0.4 1-8.1 1 4.2 1 6.3 1-7.5 1 6.5 1 6.3 1-8.2 1 8.5 1-7.7 1 3.4 1 1.5 1-0.4 1-3.1 1-3.3 1 1.6 1 1.1 1 0.8 1 3.3 1-6.4 1 5.2 1-7.9 1-0.4 1 7.5 1-1.2 1-2.9 1-7.6 1 4.6 1 3.4 1 1.1 1-1.5 1 7.5 1-6 1-6.4 1 1.8 1 5.7 1-3.3 1 1.4 1-0.6 1 1 1 2.6 1-6.7 1 4.2 1 2.1 1-5.6 1-0.3 1 0.3 1 7.3 1-1.7 1-4.8 1-6.4 1 9.5 1 2.6 1 3.2 1-1.4 1-3.3 1-2.4 1 3.1 1-3.9 1 1.8 1-4.9 1-1.5 1 0.3 1 5 1 1.3 1-3.2 1-4.3 1 6.6 1-5.2 1 7.2 1 9.5 1 5.3 1-3.5 1-4.7 1-8.2 1 5.5 1-2.6 1-2.8 1-3.1 1-0.7 1 5.2 1-0.7 1 3.9 1-1.8 1-3.9 1-0.3 1-1.1 1 3.5 1 6.3 1-4.6 1-6.2 1 1M15 616.1l1 4.3 1-4.7 1-1.8 1-0.6 1 1.9 1-5.1 1 12.6 1-2 1-1.9 1-3.1 1-1.1 1-3.2 1 5.8 1-4.4 1 10.8 1-3.6 1 2.6 1-0.4 1-1.1 1-10.5 1 5.4 1 1.7 1 0.7 1 0.2 1-6 1 5 1-3.9 1-7.6 1 5.8 1-10.3 1 6.9 1 7.1 1 1.1 1-2.5 1-4.7 1 13.1 1-9.4 1 4.2 1-3.4 1 5.3 1-7.5 1-1.7 1 6.2 1-4.6 1 0.3 1 6.1 1 2 1-5.7 1 1.2 1 2.8 1-5.2 1-1.4 1 21.2 1-7 1-9.9 1-8.5 1 1.9 1 3.6 1 1.3 1 3.4 1 6 1-11 1-0.4 1 0.3 1 14.1 1-19.9 1 15 1-9.6 1 9.5 1-3.6 1 4.6 1-0.4 1-20.4 1 13.6 1-3.6 1-3.5 1 2.2 1 18.5 1-23.3 1 12.8 1-4 1 2 1-1.5 1 7.9 1-8.7 1-3.4 1-0.1 1-7.3 1 7.5 1-2.5 1 8.5 1-1.6 1 1.5 1 2.8 1-4.1 1-0.4 1-3.8 1 5.7 1 1.1 1-0.8 1-12.6 1 7 1 6.4 1-1.1 1 6.7 1-6.7 1-3.7 1 0.3 1-1.5 1 0.4 1 0.6 1 11.7 1-5.5 1-1.3 1-15.8 1 9.6 1-6.3 1 6.4 1 2.2 1 7.6 1-6.2 1 4.9 1-5.5 1 6.4 1-9.1 1 7.1 1-12.5 1 5.1 1-7.5 1-1.4 1 7.4 1 1 1 7.6 1-3.3 1-3.4 1 6.9 1 3.2 1-8.2 1 2 1 6.3 1-4.3 1-6.6 1 0.6 1 4.6 1-3.1 1-0.7 1 1.2 1 1.9 1 4.2 1-10.9 1 6.7 1-0.6 1 10 1-9.4 1 5.9 1-9.5 1-1.2 1 3.1 1-4.2 1-2.7 1 15 1-4.5 1-8.3 1 1.9 1 3.5 1 6.6 1-12.2 1 11.4 1-6 1-6.3 1 6.9 1-6.1 1 7.8 1 4 1-6 1 1 1-1 1-6.8 1 6.7 1-4.1 1-5.3 1 7.8 1 1.6 1 1.9 1-4.7 1 2.3 1 1 1-5.6 1 7.3 1-0.2 1-9.2 1-0.9 1 13.4 1-10 1 2 1 1.1 1-2.2 1 5.4 1-4.5 1 7.3 1 3 1-14.1 1 8.3 1-1.7 1 2.4 1-1 1 1.7 1-5.1 1 2.8 1 2.5 1-3.1 1-5.1 1 4.1 1 3.8 1 1.4 1-7 1 12.3 1-10 1 3.4 1-1.8 1 6.1 1-3.9 1-3.3 1 0.7 1 0.8 1-2.1 1-0.2 1-7.9 1 3.9 1 15.2 1 0.8 1-15.2 1 3.4 1-5.4 1 4.6 1 7.5 1-8.9 1 4.2 1-3.1 1 1.4 1-4.4 1-4.9 1 8.4 1-4.2 1 3.8 1-3.3 1 6.9 1-1.3 1-1.4 1-2.8 1 0 1 12.6 1-6.2 1-3.7 1 1.9 1-4.2 1 6.5 1-5.4 1 8.2 1 7.6 1-6.2 1-9.4 1-3.8 1 1 1 0.5 1 9.2 1-5 1 0.8 1 1.4 1-0.1 1-0.5 1-1.8 1-7.1 1 3.4 1 5.2 1-8.1 1 6.7 1 2.5 1-1.1 1-7.2 1 9.1 1 3.9 1-6.4 1-3.5 1 7.2 1 3 1-2.1 1-11 1 1.6 1-0.8 1 3.9 1-10.7 1 13.9 1 0 1-5.4 1 8.5 1-8.3 1 1.7 1 6.6 1-7.3 1 8.7 1 0.2 1-4.1 1-1.9 1 1.4 1 1.6 1-3.1 1 4.5 1-4.9 1 4.1 1 1.3 1 12.2 1-11.7 1-1.6 1 4.2 1-13.3 1 1.5 1 1.2 1-11.7 1 13.7 1 7.7 1-6.6 1-4.2 1-11.9 1 4.9 1 9 1-0.6 1-1.5 1 3.5 1-0.7 1-4.8 1-0.4 1-0.3 1 9.8 1-7.5 1-7 1 1.1 1-0.3 1 12.7 1-4.9 1 10.7 1-9.4 1-3.6 1 8.7 1-5.9 1 1.2 1-7 1 8.1 1-5.3 1 0.7 1-6.9 1 6.1 1-0.7 1 1.7 1-3.9 1 7.5 1-6.7 1 2 1-0.8 1 8.4 1-4.8 1 5.1 1 3.4 1-0.9 1-4.3 1-6.1 1 16.9 1 9.5 1-7.5 1-12.4 1-4 1-0.9 1 5.8 1-0.8 1-2.4 1-4.4 1-0.7 1-0.4 1 0 1 1.5 1 2 1 4.5 1-1 1-6.6 1 6.4 1 0.2 1-1.5 1-9.4 1 14.1 1 3.8 1-4.7 1-1.6 1-5.1 1 10.5 1-7.3 1 0.7 1 0.4 1-3.6 1 1.3 1-3.1 1-3.6 1 10.1 1-4.4 1 1.9 1 0.5 1 7.6 1 13.6 1-12 1-2.6 1-8.2 1 2.9 1-1.3 1 1.1 1-3.1 1 6.9 1-3.2 1 1.8 1 1.3 1 6.7 1-12.8 1 0.9 1 3.8 1-4.5 1 8.9 1-6.2 1-6.7 1 9.1 1-3.6 1-6.3 1 2 1 9.9 1-7.6 1 3.7 1-1.9 1 0.8 1-5.4 1-2.9 1 2.6 1 6.8 1 2.1 1-8.3 1-3.4 1-0.6 1 14.6 1-10.8 1 0.7 1 3 1 4.2 1-3.1 1-5.6 1-3.1 1 6.9 1 6.7 1-4.3 1 0 1-0.4 1 7.6 1-17 1 2.8 1 8.5 1-5 1-4.4 1 5.9 1 0.2 1-12.4 1 8.4 1 7.1 1-3.7 1 0.4 1-6.6 1 4.1 1-3.8 1 5.4 1-0.7 1 2.1 1-2.4 1 5.4 1 0.3 1-0.8 1-6.6 1 7.6 1 7 1-11.4 1 0.6 1 3.9 1-1.6 1-0.6 1-4.2 1 10.4 1 6.7 1 0 1-10.7 1-0.8 1 1.7 1 7.6 1-4.5 1-8.4 1 3.4 1-8.4 1 5.4 1 3.3 1-12.6 1 10.6 1 7.4 1-13.9 1 9.8 1-5 1 4.2 1-6.8 1 8.4 1-8.8 1 14.9 1 18.8 1 0.3 1 12.6 1 4.2 1 3.1 1 2.2 1 4.6 1 4.8 1 1.8 1-3.9 1-0.7 1 7.2 1 5.8 1 12.8 1-3 1-10.8 1 14.8 1-9.3 1-1.7 1-6 1-3.1 1-4.3 1-4.6 1-10.4 1 1.1 1-11 1-8.7 1-2.6 1-15.6 1 1.8 1-10.2 1-0.9 1-8.4 1 7.4 1-7.6 1 4 1-12.3 1-0.3 1-7.6 1-2.1 1 0.1 1-5.2 1 10.7 1 0.1 1 2.7 1-7.8 1-5.5 1 2.6 1 2.4 1 4.3 1 9.4 1-7.7 1-2.7 1 3.3 1-6.1 1 5.6 1-4.9 1 1.5 1 10.5 1 20.1 1-13.9 1-32.6 1-25.1 1 12.6 1 13.5 1 2.2 1 3.9 1 6.3 1 1.1 1 3.1 1 10.3 1-8 1-2.8 1 10.7 1 7.8 1-15.2 1-0.8 1 7.5 1-3.7 1-0.3 1 2.9 1-7.6 1 12.6 1 6.1 1-2.1 1-3.3 1 19.8 1-10.9 1 12.6 1-6.6 1 0.9 1-7.8 1 6.9 1-2.6 1 7.8 1-5.6 1-5.6 1 4 1-1.1 1-0.9 1 2.2 1 1.6 1 2.2 1-3.1 1-1.6 1-5 1 1.4 1 1.8 1-2.7 1 0.2 1-1.7 1 2.3 1-7.4 1 14.9 1-0.6 1-3.4 1 6.1 1-1.4 1-0.7 1-4.8 1-6.1 1 7.1 1-4.8 1-3.4 1-3.2 1 11.7 1-5.6 1-4.7 1 7.6 1-8 1-1.4 1 4.5 1-4.6 1-0.5 1-5.2 1 6.1 1 15.3 1-2 1-2.3 1-6.7 1-1.5 1 12.2 1-14.5 1 3.2 1 5.9 1 3.3 1 5 1-12 1 6.7 1 1.2 1 29.5 1 28.4 1-31.9 1-51 1-18.2 1 9.2 1 15.6 1-5.1 1 1.2 1 20.6 1-9 1 2.5 1 6.8 1-10.3 1-1.2 1 10.3 1-12.5 1 2.5 1-3.2 1 5.5 1 4.2 1-6.8 1 6.9 1-1.5 1 2.7 1-2.3 1 3.8 1-7.2 1 6.3 1-8.4 1 2 1-7.7 1 8.9 1 4.4 1-8.1 1 12.7 1-8.8 1 1.5 1-2.4 1 6 1-2.4 1-6.2 1 3 1 1.2 1-1.9 1 2.7 1 3 1-9.9 1 2.6 1 12.7 1-13.9 1 9.9 1-6.5 1 4.2 1 5.7 1-6.7 1-2.9 1 2.8 1-0.9 1-3.9 1 4.9 1-7.5 1 4.4 1 7.2 1-1.1 1-7.4 1 11.9 1 1.9 1 1.9 1-6.8 1-12.9 1 10.4 1-6.8 1 5.9 1 0.6 1-3.2 1 3.6 1-3 1-1.7 1 8.5 1 28.6 1 39.2 1-37.8 1-41.5 1-28.5 1 11.6 1 12.5 1-0.3 1 4.9 1-7.6 1 8 1 11.2 1-15 1 8.3 1 7.4 1 0.4 1-7.6 1 9.9 1-2.1 1-19 1 16.1 1-0.8 1-10.4 1 4.9 1 31 1 52.9 1-43.7 1-48.5 1-26.3 1 21 1-1.2 1 1.7 1-1.8 1 10.1 1 3.7 1 2.9 1 1.7 1-1.5 1 2 1-0.2 1 8.2 1-14.7 1 7.8 1-3.6 1 4.4 1-5.1 1-1.8 1-0.6 1 2.9 1 7 1-1.5 1-10 1 1.2 1-0.6 1 1.4 1 1 1 7.6 1-7 1 0 1 2.5 1 5.1 1-0.6 1-5.4 1 3.5 1-6.9 1 3.5 1-4.8 1 4.9 1-4.2 1-0.1 1 10 1 29.7 1-9 1-23.5 1-37 1-6.7 1 17.6 1 6.8 1-0.3 1 7.2 1-0.9 1 10 1-5.6 1-3 1 21.5 1-3.6 1-13.3 1-4.1 1 3.5 1 11.5 1-8.4 1 0.3 1 9 1 0.4 1-15.2 1 6.4 1-5.4 1 4.9 1 1.9 1 2.2 1-4.8 1 4.5 1-7.4 1 4.9 1-1.1 1-0.1 1-6.7 1 8.4 1-5.6 1 4.1 1 2.5 1-8.3 1 2.5 1-1.1 1 0.1 1 0.7 1 15.2 1-7.6 1-8 1-0.3 1 13.5 1-9.6 1 6.1 1-8.4 1 16.8 1-12.7 1 3.4 1-5.6 1 1.6 1-7.9 1 11 1-0.5 1-1.2 1 1.7 1 2.8 1-2.2 1-9.3 1 15.4 1-12.2 1 5.8 1-6.4 1 6.1 1-5.2 1-5.6 1 6.3 1 18.3 1 29.2 1-31.4 1-31 1-15 1-4.1 1 20.3 1 1.7 1 7.1 1-5.7 1 8.1 1 6.1 1-1.1 1 4.3 1-5.9 1-12.6 1 10.2 1-0.1 1 5.6 1-7.5 1 13.4 1-9.4 1 3.5 1 4.6 1 5.1 1-20 1 8.8 1-4.7 1 0.8 1 2.4 1-7 1 8 1 2.4 1-10.8 1 8 1-3.4 1 0.7 1 6.7 1-0.1 1 1.8 1-3.7 1 2.5 1-0.3 1 13.1 1-0.9 1-20.2 1 9.6 1-3.6 1 3 1 3.3 1-6.4 1 0.7 1-3.5 1 7.2 1 1.8 1-12 1-2 1 8.1 1-6.1 1 3.5 1 1.7 1 7.5 1-12 1 2.5 1-6.9 1-5.8 1 6.6 1 3.2 1 4.3 1-4.6 1-0.2 1 3.8 1-0.1 1-4.4 1 7.5 1-9.3 1 10.1 1-4.3 1-6 1 10.3 1 3.7 1-5 1-4.6 1 6.1 1-6.6 1-1 1-1.6 1 10.7 1-2.4 1-10 1 1.8 1 1.2 1 10.1 1-11.3 1 11.7 1-12 1 6.3 1-8.9 1 2.5 1 4.2 1 10 1 20.2 1 48.1 1-38.3 1-48.1 1-16.4 1 6.2 1 6.8 1-0.6 1 14.2 1-12.9 1 13.5 1-4.4 1 18.2 1 1.7 1-10.6 1-7.3 1 0.7 1-5.2 1 7 1-4.5 1 6.8 1-10 1-4.6 1 19.1 1-7.6 1-5.4 1 7.6 1-0.2 1-11.2 1 6.4 1 4.9 1-1.4 1-1.7 1 3.1 1 6.6 1 6.4 1-8.7 1-5.6 1 0.6 1-4.4 1 3.6 1-3.2 1 9.9 1-8.2 1-0.4 1-2.5 1 5.7 1-5.7 1 1.8 1 1.2 1 2 1 5.6 1-8.9 1 4.2 1-4.1 1-4.1 1 7.5 1-4.6 1 3.3 1 5.7 1-8.4 1-3.5 1 8.5 1-3.4 1-0.5 1-7.5 1 15.5 1-9.4 1 2.4 1-0.3 1-1.6 1 3.3 1-5.7 1 7.4 1-0.2 1-3.3 1 4.4 1 1.3 1-7 1 6.2 1-1.8 1-6.6 1 2.2 1 1.5 1-2.9 1-0.2 1 7.9 1-8.3 1 0.8 1 2.7 1 3.3 1-7.5 1 0.9 1 1.5 1-4.1 1-0.4 1 5.8 1-1 1 2.4 1-4.7 1 2.4 1 8.3 1-2.9 1-3 1-0.9 1 5.1 1-5.3 1 0.8 1-1.4 1-4.5 1 5.8 1 11.7 1-9.2 1-5.4 1 1.7 1 3.4 1-2.2 1 2.9 1-3.2 1 0.8 1 1.6 1-7.8 1-1.1 1 9.3 1-7.4 1 2.1 1-2.9 1 3.1 1-8.8 1 9 1-0.3 1-3 1 4.7 1 2.7 1-4.6 1-1.8 1 5.2 1 2.2 1-0.6 1-1.1 1 0 1 1.6 1-1.3 1 5 1-6.3 1-6.1 1 6.8 1-6.5 1 3.4 1 0.2 1 0.5 1-2.4 1 7.7 1 0 1-8.8 1 5.9 1 4.4 1-1.7 1-0.4 1-3.3 1 2.1 1-1.5 1 2.3 1 1.8 1-14.2 1 14.5 1-1.6 1-2.3 1-2.1 1 4.7 1-8 1 10.7 1-7.3 1-6.5 1 7 1 6.9 1-0.8 1-9.7 1 10.6 1-6.6 1 0.3 1 5.1 1-3.8 1-1.9 1-2 1-0.9 1 6.4 1-5 1 2.4 1 2.1 1-11.2 1 11.9 1 11.2 1-4.8 1-12 1 3 1-4 1-7.5 1 9.7 1 3.1" fill="none" stroke="#0b0b0b" stroke-width="1.0" stroke-linejoin="round"/>
<path d="M318.4 829.4h6.4M396.7 835.6h6.4M272.3 841.9h6.4M272.3 848.2h6.4M173.2 860.7h6.4M277.7 860.7h6.4M373.8 860.7h6.4M230.3 867.0h6.4M394.3 867.0h6.4M158.4 885.8h6.4M296.5 885.8h6.4M143.6 892.1h6.4M151.7 898.3h6.4M358.7 898.3h6.4M393.0 929.7h6.4M166.5 948.5h6.4M265.3 948.5h6.4M153.4 954.8h6.4M242.4 954.8h6.4M325.1 954.8h6.4M217.6 961.0h6.4M325.1 961.0h6.4M385.9 961.0h6.4M151.7 967.3h6.4M280.4 967.3h6.4M211.2 973.6h6.4M329.1 973.6h6.4M171.9 979.8h6.4M209.5 979.8h6.4M284.4 1004.9h6.4M319.7 1011.2h6.4M409.1 1011.2h6.4M150.4 1036.3h6.4M380.9 1048.8h6.4M170.5 1055.1h6.4M341.2 1067.6h6.4M253.2 1080.2h6.4M220.9 1092.7h6.4M214.2 1099.0h6.4M262.6 1105.2h6.4M193.7 1124.0h6.4M246.5 1136.6h6.4M321.1 1136.6h6.4M151.7 1149.1h6.4M182.6 1155.4h6.4M398.3 1155.4h6.4M146.3 1161.7h6.4M216.6 1161.7h6.4M322.4 1161.7h6.4M395.7 1167.9h6.4M174.9 1174.2h6.4M423.8 829.4h6.4M497.0 835.6h6.4M471.1 841.9h6.4M507.9 892.1h6.4M510.5 942.2h6.4M422.5 948.5h6.4M488.7 948.5h6.4M446.8 961.0h6.4M423.8 967.3h6.4M476.6 967.3h6.4M449.7 1067.6h6.4M426.6 1080.2h6.4M435.9 1099.0h6.4M497.0 1149.1h6.4M463.1 1155.4h6.4M854.4 823.1h6.4M880.3 841.9h6.4M870.6 854.4h6.4M862.7 929.7h6.4M822.0 1004.9h6.4M819.1 1048.8h6.4M838.2 1105.2h6.4M826.3 1117.8h6.4M826.3 1130.3h6.4M839.6 1174.2h6.4M881.4 1174.2h6.4M1087.7 829.4h6.4M1171.5 835.6h6.4M1006.3 841.9h6.4M1047.0 841.9h6.4M1118.6 848.2h6.4M1163.3 854.4h6.4M1171.5 860.7h6.4M1048.1 873.2h6.4M1128.0 873.2h6.4M1156.4 873.2h6.4M1220.1 873.2h6.4M1175.5 879.5h6.4M1138.8 885.8h6.4M1111.8 892.1h6.4M1220.1 892.1h6.4M1163.3 898.3h6.4M1041.2 910.9h6.4M1086.2 917.1h6.4M1170.1 917.1h6.4M1092.7 923.4h6.4M1213.3 935.9h6.4M1090.2 942.2h6.4M1182.3 942.2h6.4M1040.1 948.5h6.4M1190.2 948.5h6.4M1170.1 954.8h6.4M1164.7 1055.1h6.4M1175.5 1073.9h6.4M1114.3 1080.2h6.4M1187.7 1080.2h6.4M1018.5 1130.3h6.4M1033.3 1136.6h6.4M1152.5 1136.6h6.4M1138.8 1142.9h6.4M1202.5 1149.1h6.4M1000.5 1174.2h6.4M550.8 1174.2h6.4M566.7 1174.2h6.4M542.0 1167.9h6.4M542.7 1161.7h6.4M570.2 1161.7h6.4M541.7 1155.4h6.4M546.1 1149.1h6.4M560.7 1149.1h6.4M546.0 1142.9h6.4M542.4 1136.6h6.4M548.3 1130.3h6.4M545.4 1124.0h6.4M542.1 1117.8h6.4M541.3 1111.5h6.4M545.8 1105.2h6.4M541.3 1099.0h6.4M562.5 1099.0h6.4M544.7 1092.7h6.4M541.9 1086.4h6.4M542.9 1080.2h6.4M543.8 1073.9h6.4M548.1 1067.6h6.4M563.5 1067.6h6.4M545.7 1061.3h6.4M547.5 1055.1h6.4M541.3 1048.8h6.4M552.8 1042.5h6.4M546.7 1036.3h6.4M550.5 1030.0h6.4M542.5 1023.7h6.4M557.5 1023.7h6.4M544.4 1017.5h6.4M544.9 1011.2h6.4M547.1 1004.9h6.4M542.9 998.6h6.4M548.9 992.4h6.4M548.4 986.1h6.4M545.9 979.8h6.4M546.9 973.6h6.4M567.1 973.6h6.4M547.8 967.3h6.4M555.8 967.3h6.4M555.5 961.0h6.4M548.5 954.8h6.4M551.0 948.5h6.4M554.0 942.2h6.4M550.1 935.9h6.4M549.0 929.7h6.4M544.3 923.4h6.4M544.4 917.1h6.4M551.9 910.9h6.4M542.6 904.6h6.4M541.3 898.3h6.4M545.5 892.1h6.4M547.5 885.8h6.4M541.6 879.5h6.4M550.0 873.2h6.4M548.7 867.0h6.4M569.1 867.0h6.4M548.1 860.7h6.4M547.0 854.4h6.4M541.3 848.2h6.4M567.8 848.2h6.4M553.6 841.9h6.4M548.4 835.6h6.4M546.4 829.4h6.4M547.8 823.1h6.4M564.8 823.1h6.4M588.8 1174.2h6.4M587.4 1167.9h6.4M585.2 1161.7h6.4M576.3 1155.4h6.4M582.0 1149.1h6.4M576.5 1142.9h6.4M578.3 1136.6h6.4M577.4 1130.3h6.4M579.5 1124.0h6.4M585.5 1117.8h6.4M576.4 1111.5h6.4M578.7 1105.2h6.4M579.3 1099.0h6.4M579.2 1092.7h6.4M578.7 1086.4h6.4M576.3 1080.2h6.4M578.9 1073.9h6.4M577.2 1067.6h6.4M581.7 1061.3h6.4M584.1 1055.1h6.4M584.2 1048.8h6.4M579.7 1042.5h6.4M579.8 1036.3h6.4M583.2 1030.0h6.4M586.8 1023.7h6.4M578.4 1017.5h6.4M578.6 1011.2h6.4M585.0 1004.9h6.4M579.5 998.6h6.4M582.6 992.4h6.4M582.6 986.1h6.4M588.3 979.8h6.4M579.5 973.6h6.4M581.6 967.3h6.4M583.0 961.0h6.4M581.2 954.8h6.4M576.3 948.5h6.4M587.8 942.2h6.4M581.6 935.9h6.4M586.5 929.7h6.4M581.2 923.4h6.4M585.0 917.1h6.4M582.7 910.9h6.4M587.5 904.6h6.4M584.3 898.3h6.4M588.2 892.1h6.4M588.5 885.8h6.4M590.2 879.5h6.4M584.0 873.2h6.4M585.2 867.0h6.4M585.8 860.7h6.4M583.4 854.4h6.4M584.4 848.2h6.4M589.9 841.9h6.4M583.6 835.6h6.4M587.6 823.1h6.4M591.2 860.7h6.4M590.7 841.9h6.4M588.8 1004.9h6.4M591.7 910.9h6.4M590.9 967.3h6.4M589.6 1124.0h6.4M591.6 904.6h6.4M588.6 954.8h6.4M589.2 979.8h6.4M596.8 898.3h6.4M593.7 873.2h6.4M594.1 1048.8h6.4M595.6 829.4h6.4M596.5 1149.1h6.4M596.0 942.2h6.4M593.7 917.1h6.4M594.7 1111.5h6.4M596.5 1042.5h6.4M595.0 1017.5h6.4M599.5 973.6h6.4M598.7 1105.2h6.4M599.8 998.6h6.4M602.6 854.4h6.4M598.9 1130.3h6.4M601.0 961.0h6.4M607.6 1086.4h6.4M606.8 1011.2h6.4M605.0 1117.8h6.4M606.6 835.6h6.4M604.4 986.1h6.4M605.9 1155.4h6.4M605.0 1099.0h6.4M607.5 1055.1h6.4M607.5 823.1h6.4M607.0 1142.9h6.4M610.6 1023.7h6.4M612.3 1174.2h6.4M613.1 1092.7h6.4M610.6 1030.0h6.4M611.2 935.9h6.4M609.7 1080.2h6.4M614.6 948.5h6.4M617.2 1167.9h6.4M614.4 1161.7h6.4M616.7 1136.6h6.4M614.7 1061.3h6.4M617.0 848.2h6.4M617.3 923.4h6.4M618.1 892.1h6.4M615.8 929.7h6.4M621.0 992.4h6.4M621.0 1067.6h6.4M622.3 867.0h6.4M622.6 1073.9h6.4M619.8 885.8h6.4M620.7 1036.3h6.4M619.6 879.5h6.4M619.4 1061.3h6.4M622.8 1080.2h6.4M620.6 873.2h6.4M627.6 904.6h6.4M626.7 848.2h6.4M627.8 917.1h6.4M627.2 1136.6h6.4M628.5 1155.4h6.4M626.5 1067.6h6.4M628.0 1105.2h6.4M627.9 954.8h6.4M626.9 1004.9h6.4M631.8 823.1h6.4M631.5 854.4h6.4M632.3 1017.5h6.4M630.5 1030.0h6.4M631.5 1117.8h6.4M632.3 992.4h6.4M630.9 898.3h6.4M630.6 935.9h6.4M630.1 1167.9h6.4M638.2 867.0h6.4M638.5 835.6h6.4M638.3 829.4h6.4M637.8 929.7h6.4M637.3 860.7h6.4M635.1 967.3h6.4M638.5 1124.0h6.4M636.8 1073.9h6.4M637.7 1142.9h6.4M635.3 1023.7h6.4M637.9 1174.2h6.4M640.6 1092.7h6.4M644.0 885.8h6.4M642.9 1042.5h6.4M642.2 1055.1h6.4M642.7 1036.3h6.4M640.9 961.0h6.4M647.2 1086.4h6.4M645.5 986.1h6.4M646.3 973.6h6.4M646.3 1161.7h6.4M645.8 1048.8h6.4M652.0 841.9h6.4M650.6 1099.0h6.4M650.4 892.1h6.4M651.7 948.5h6.4M659.6 979.8h6.4M658.5 1130.3h6.4M657.2 923.4h6.4M656.3 998.6h6.4M661.1 879.5h6.4M662.4 1011.2h6.4M663.3 1149.1h6.4M669.2 910.9h6.4M667.7 1111.5h6.4M669.3 942.2h6.4M666.4 1099.0h6.4M671.0 929.7h6.4M672.5 1124.0h6.4M673.7 1023.7h6.4M674.9 1055.1h6.4M673.1 942.2h6.4M676.7 892.1h6.4M678.6 986.1h6.4M676.2 1142.9h6.4M679.5 1136.6h6.4M677.4 835.6h6.4M681.7 1130.3h6.4M681.9 1080.2h6.4M684.7 1048.8h6.4M685.0 1061.3h6.4M682.0 1117.8h6.4M685.4 973.6h6.4M684.8 1155.4h6.4M682.6 923.4h6.4M686.6 873.2h6.4M687.1 867.0h6.4M688.2 829.4h6.4M687.3 841.9h6.4M687.2 879.5h6.4M687.6 954.8h6.4M690.1 935.9h6.4M691.7 1167.9h6.4M695.4 948.5h6.4M693.5 1042.5h6.4M694.6 961.0h6.4M693.7 998.6h6.4M695.5 1017.5h6.4M697.5 898.3h6.4M697.8 1161.7h6.4M698.9 823.1h6.4M698.9 1111.5h6.4M698.1 1073.9h6.4M698.0 1011.2h6.4M697.1 1067.6h6.4M698.8 917.1h6.4M700.2 1036.3h6.4M700.3 979.8h6.4M703.6 848.2h6.4M706.0 1174.2h6.4M705.9 1092.7h6.4M708.4 904.6h6.4M707.6 1004.9h6.4M710.5 1086.4h6.4M711.0 967.3h6.4M709.8 910.9h6.4M711.1 1030.0h6.4M709.0 1105.2h6.4M714.4 992.4h6.4M712.5 885.8h6.4M713.8 854.4h6.4M716.1 1149.1h6.4M712.7 860.7h6.4M713.8 1004.9h6.4M716.1 961.0h6.4M717.7 835.6h6.4M718.9 1042.5h6.4M720.6 1105.2h6.4M719.0 917.1h6.4M719.3 885.8h6.4M718.8 1136.6h6.4M717.8 1011.2h6.4M718.7 848.2h6.4M726.2 823.1h6.4M725.7 973.6h6.4M723.8 1155.4h6.4M725.8 948.5h6.4M725.8 1130.3h6.4M727.9 986.1h6.4M728.4 1167.9h6.4M731.7 929.7h6.4M728.9 1174.2h6.4M736.1 967.3h6.4M735.5 979.8h6.4M736.5 910.9h6.4M733.2 1080.2h6.4M736.7 1117.8h6.4M736.5 1149.1h6.4M733.9 1142.9h6.4M735.8 1061.3h6.4M738.1 942.2h6.4M741.6 841.9h6.4M739.7 898.3h6.4M738.1 917.1h6.4M738.5 992.4h6.4M743.8 904.6h6.4M745.1 935.9h6.4M744.2 1086.4h6.4M745.9 867.0h6.4M749.1 1055.1h6.4M751.5 898.3h6.4M757.5 1099.0h6.4M755.2 923.4h6.4M754.7 1073.9h6.4M757.3 1099.0h6.4M755.9 1067.6h6.4M760.5 1111.5h6.4M759.9 1048.8h6.4M761.7 854.4h6.4M761.3 1124.0h6.4M764.1 873.2h6.4M765.1 892.1h6.4M764.5 1161.7h6.4M765.9 1092.7h6.4M765.4 829.4h6.4M764.5 1036.3h6.4M771.2 954.8h6.4M771.7 879.5h6.4M775.6 860.7h6.4M777.6 948.5h6.4M774.2 892.1h6.4M778.2 1130.3h6.4M776.1 1124.0h6.4M777.8 979.8h6.4M781.3 848.2h6.4M781.1 1124.0h6.4M781.3 1117.8h6.4M786.2 1142.9h6.4M788.5 1124.0h6.4M786.8 954.8h6.4M784.9 1092.7h6.4M793.4 1136.6h6.4M791.1 841.9h6.4M796.4 1117.8h6.4M795.9 1073.9h6.4M798.6 917.1h6.4M797.7 967.3h6.4M796.0 1167.9h6.4M796.3 1174.2h6.4M796.5 1155.4h6.4M796.4 1042.5h6.4M797.6 1105.2h6.4M803.9 973.6h6.4" stroke="#0b0b0b" stroke-width="5.1" fill="none"/>
<path d="M142.2 1585.8v-14.9h5.55v14.9M147.3 1585.8v-29.9h5.55v29.9M152.5 1585.8v-59.8h5.55v59.8M157.6 1585.8v-14.9h5.55v14.9M168.0 1585.8v-29.9h5.55v29.9M173.1 1585.8v-44.8h5.55v44.8M183.4 1585.8v-14.9h5.55v14.9M193.8 1585.8v-14.9h5.55v14.9M209.2 1585.8v-29.9h5.55v29.9M214.4 1585.8v-29.9h5.55v29.9M219.6 1585.8v-29.9h5.55v29.9M229.9 1585.8v-14.9h5.55v14.9M245.4 1585.8v-29.9h5.55v29.9M255.7 1585.8v-14.9h5.55v14.9M260.8 1585.8v-14.9h5.55v14.9M266.0 1585.8v-14.9h5.55v14.9M271.2 1585.8v-29.9h5.55v29.9M276.3 1585.8v-14.9h5.55v14.9M281.5 1585.8v-14.9h5.55v14.9M286.6 1585.8v-14.9h5.55v14.9M297.0 1585.8v-14.9h5.55v14.9M317.6 1585.8v-29.9h5.55v29.9M322.8 1585.8v-44.8h5.55v44.8M327.9 1585.8v-29.9h5.55v29.9M343.4 1585.8v-14.9h5.55v14.9M358.9 1585.8v-14.9h5.55v14.9M374.4 1585.8v-14.9h5.55v14.9M379.5 1585.8v-14.9h5.55v14.9M384.7 1585.8v-14.9h5.55v14.9M395.0 1585.8v-59.8h5.55v59.8M400.2 1585.8v-14.9h5.55v14.9M410.5 1585.8v-14.9h5.55v14.9M420.8 1585.8v-14.9h5.55v14.9M426.0 1585.8v-44.8h5.55v44.8M436.3 1585.8v-14.9h5.55v14.9M446.6 1585.8v-14.9h5.55v14.9M451.8 1585.8v-14.9h5.55v14.9M462.1 1585.8v-14.9h5.55v14.9M472.4 1585.8v-14.9h5.55v14.9M477.6 1585.8v-14.9h5.55v14.9M487.9 1585.8v-14.9h5.55v14.9M498.2 1585.8v-29.9h5.55v29.9M508.5 1585.8v-14.9h5.55v14.9M513.7 1585.8v-14.9h5.55v14.9M534.3 1585.8v-194.3h6.90v194.3M544.6 1585.8v-254.1h5.55v254.1M549.8 1585.8v-254.1h5.55v254.1M555.0 1585.8v-179.4h5.55v179.4M560.1 1585.8v-89.7h5.55v89.7M565.3 1585.8v-14.9h5.55v14.9M570.4 1585.8v-29.9h5.55v29.9M575.6 1585.8v-59.8h5.55v59.8M580.8 1585.8v-358.8h5.55v358.8M585.9 1585.8v-299.0h5.55v299.0M591.1 1585.8v-134.5h5.55v134.5M596.2 1585.8v-149.5h5.55v149.5M601.4 1585.8v-89.7h5.55v89.7M606.6 1585.8v-149.5h5.55v149.5M611.7 1585.8v-89.7h5.55v89.7M616.9 1585.8v-134.5h5.55v134.5M622.0 1585.8v-149.5h5.55v149.5M627.2 1585.8v-134.5h5.55v134.5M632.4 1585.8v-134.5h5.55v134.5M637.5 1585.8v-164.4h5.55v164.4M642.7 1585.8v-89.7h5.55v89.7M647.8 1585.8v-74.8h5.55v74.8M653.0 1585.8v-59.8h5.55v59.8M658.2 1585.8v-59.8h5.55v59.8M663.3 1585.8v-44.8h5.55v44.8M668.5 1585.8v-59.8h5.55v59.8M673.6 1585.8v-74.8h5.55v74.8M678.8 1585.8v-74.8h5.55v74.8M684.0 1585.8v-119.6h5.55v119.6M689.1 1585.8v-104.6h5.55v104.6M694.3 1585.8v-89.7h5.55v89.7M699.4 1585.8v-149.5h5.55v149.5M704.6 1585.8v-44.8h5.55v44.8M709.8 1585.8v-104.6h5.55v104.6M714.9 1585.8v-104.6h5.55v104.6M720.1 1585.8v-119.6h5.55v119.6M725.2 1585.8v-74.8h5.55v74.8M730.4 1585.8v-59.8h5.55v59.8M735.6 1585.8v-119.6h5.55v119.6M740.7 1585.8v-74.8h5.55v74.8M745.9 1585.8v-59.8h5.55v59.8M751.0 1585.8v-29.9h5.55v29.9M756.2 1585.8v-74.8h5.55v74.8M761.4 1585.8v-59.8h5.55v59.8M766.5 1585.8v-89.7h5.55v89.7M771.7 1585.8v-29.9h5.55v29.9M776.8 1585.8v-89.7h5.55v89.7M782.0 1585.8v-44.8h5.55v44.8M787.2 1585.8v-59.8h5.55v59.8M792.3 1585.8v-29.9h5.55v29.9M797.5 1585.8v-134.5h5.55v134.5M802.6 1585.8v-14.9h5.55v14.9M818.1 1585.8v-14.9h5.55v14.9M823.3 1585.8v-14.9h5.55v14.9M828.4 1585.8v-29.9h5.55v29.9M838.8 1585.8v-14.9h5.55v14.9M843.9 1585.8v-14.9h5.55v14.9M854.2 1585.8v-14.9h5.55v14.9M864.6 1585.8v-14.9h5.55v14.9M874.9 1585.8v-14.9h5.55v14.9M880.0 1585.8v-14.9h5.55v14.9M885.2 1585.8v-14.9h5.55v14.9M1003.9 1585.8v-14.9h5.55v14.9M1009.0 1585.8v-14.9h5.55v14.9M1019.4 1585.8v-14.9h5.55v14.9M1034.8 1585.8v-14.9h5.55v14.9M1040.0 1585.8v-14.9h5.55v14.9M1045.2 1585.8v-14.9h5.55v14.9M1050.3 1585.8v-29.9h5.55v29.9M1086.4 1585.8v-14.9h5.55v14.9M1091.6 1585.8v-29.9h5.55v29.9M1096.8 1585.8v-14.9h5.55v14.9M1112.2 1585.8v-14.9h5.55v14.9M1117.4 1585.8v-29.9h5.55v29.9M1127.7 1585.8v-14.9h5.55v14.9M1138.0 1585.8v-14.9h5.55v14.9M1143.2 1585.8v-14.9h5.55v14.9M1153.5 1585.8v-14.9h5.55v14.9M1158.7 1585.8v-14.9h5.55v14.9M1163.8 1585.8v-44.8h5.55v44.8M1174.2 1585.8v-59.8h5.55v59.8M1179.3 1585.8v-29.9h5.55v29.9M1184.5 1585.8v-14.9h5.55v14.9M1189.6 1585.8v-29.9h5.55v29.9M1205.1 1585.8v-14.9h5.55v14.9M1215.4 1585.8v-14.9h5.55v14.9M1220.6 1585.8v-29.9h5.55v29.9M1225.8 1585.8v-14.9h5.55v14.9M1230.9 1585.8v-14.9h5.55v14.9M1236.1 1585.8v-44.8h5.55v44.8M1241.2 1585.8v-29.9h5.55v29.9" fill="#cfe6f6" stroke="#2b2f72" stroke-width="1.4" stroke-linejoin="miter"/>
<text x="93" y="55" font-size="52" text-anchor="start" font-weight="700">a</text>
<text x="725" y="52.8" font-size="52.5" text-anchor="start" font-weight="700">b</text>
<text x="89.3" y="560.5" font-size="52" text-anchor="start" font-weight="700">c</text>
<text x="90.7" y="783" font-size="52" text-anchor="start" font-weight="700">d</text>
<text x="91.6" y="1256.1" font-size="52" text-anchor="start" font-weight="700">e</text>
<text x="238.9" y="54.1" font-size="35" text-anchor="start">IO stim.</text>
<path d="M286.3 67.2H307.8V144.5H318.5L297 222.8L275.5 144.5H286.3Z" fill="#fff" stroke="#1a1a1a" stroke-width="1.6" stroke-linejoin="miter"/>
<path d="M95.8 265.5H68.9V341.6H95.8" fill="none" stroke="#1a1a1a" stroke-width="1.7"/>
<text x="73" y="263.5" font-size="34" text-anchor="middle">+</text>
<text x="74.5" y="360" font-size="35" text-anchor="middle">-</text>
<text x="7.4" y="300.8" font-size="35" text-anchor="start">0.4</text>
<text x="7.6" y="340.2" font-size="35" text-anchor="start">mV</text>
<path d="M295 436V460H412.3V436" fill="none" stroke="#1a1a1a" stroke-width="1.7"/>
<text x="297.8" y="495.2" font-size="35" text-anchor="start">4.0 ms</text>
<path d="M376.3 405.8L388 425H382.4V443.5H370.3V425H364.6Z" fill="#3b1417"/>
<text x="471" y="516.3" font-size="35" text-anchor="start">IO stim.</text>
<path d="M516.5 525H535V561.5H545L525 597.5L505 561.5H516.5Z" fill="#fff" stroke="#1a1a1a" stroke-width="1.6"/>
<path d="M267 709V720.5H356.5V709" fill="none" stroke="#1a1a1a" stroke-width="1.6"/>
<text x="265.2" y="755.3" font-size="35" text-anchor="start">10 ms</text>
<path d="M524.9 598V711.5" stroke="#111" stroke-width="2.6" fill="none"/>
<path d="M524.9 711.5V1583" stroke="#1a1a1a" stroke-width="1.8" stroke-dasharray="7.5 4" fill="none"/>
<path d="M527 612H556" stroke="#555" stroke-width="1" stroke-dasharray="1.2 2.2" fill="none"/>
<path d="M524.9 756V779" stroke="#1a1a1a" stroke-width="2.2" fill="none"/>
<path d="M525.2 739.5L534.6 756.6H516.6Z" fill="#1a1a1a"/>
<path d="M524.8 794.5L534 778.2H516.6Z" fill="#1a1a1a"/>
<path d="M524.9 767H886V781.5M886 766.6L1163.6 697.6V674" fill="none" stroke="#1a1a1a" stroke-width="1.8" stroke-linejoin="miter"/>
<path d="M886 797.2L877 780.5H895Z" fill="#1a1a1a"/>
<path d="M1163.7 658.4L1172.3 675H1155.3Z" fill="#1a1a1a"/>
<path d="M87 807.8H120.8V1185.2H87M87 934.6H120.8M87 1060H120.8" fill="none" stroke="#1a1a1a" stroke-width="3.9" stroke-linejoin="miter"/>
<text x="82.5" y="818.6" font-size="35" text-anchor="end">60</text>
<text x="79.7" y="946.2" font-size="35" text-anchor="end">40</text>
<text x="81.1" y="1071.3" font-size="35" text-anchor="end">20</text>
<text x="76.1" y="1201.2" font-size="35" text-anchor="end">0</text>
<text transform="translate(27 996.6) rotate(-90)" font-size="34.5" text-anchor="middle">Number of trials</text>
<path d="M86.8 1273.6H119.6V1584H85.6M84.2 1428.8H119.6" fill="none" stroke="#1a1a1a" stroke-width="3.9" stroke-linejoin="miter"/>
<text x="78.5" y="1282.1" font-size="35" text-anchor="end">20</text>
<text x="78.5" y="1440.1" font-size="35" text-anchor="end">10</text>
<text x="69.9" y="1595.8" font-size="35" text-anchor="end">0</text>
<text transform="translate(28 1391.8) rotate(-90)" font-size="34.5" text-anchor="middle">Number of spikes</text>
<path d="M136.2 1587.4H1250" stroke="#0a0a0a" stroke-width="3.2" fill="none"/>
<path d="M214.4 1586V1613.4M317.6 1586V1613.4M420.8 1586V1613.4M524.0 1586V1613.4M627.2 1586V1613.4M730.4 1586V1613.4M833.6 1586V1613.4M936.8 1586V1613.4M1040.0 1586V1613.4M1143.2 1586V1613.4M1246.4 1586V1613.4" stroke="#0a0a0a" stroke-width="3.6" fill="none"/>
<path d="M142.2 1587V1590.9M152.5 1587V1590.9M162.8 1587V1590.9M173.1 1587V1590.9M183.4 1587V1590.9M193.8 1587V1590.9M204.1 1587V1590.9M224.7 1587V1590.9M235.0 1587V1590.9M245.4 1587V1590.9M255.7 1587V1590.9M266.0 1587V1590.9M276.3 1587V1590.9M286.6 1587V1590.9M297.0 1587V1590.9M307.3 1587V1590.9M327.9 1587V1590.9M338.2 1587V1590.9M348.6 1587V1590.9M358.9 1587V1590.9M369.2 1587V1590.9M379.5 1587V1590.9M389.8 1587V1590.9M400.2 1587V1590.9M410.5 1587V1590.9M431.1 1587V1590.9M441.4 1587V1590.9M451.8 1587V1590.9M462.1 1587V1590.9M472.4 1587V1590.9M482.7 1587V1590.9M493.0 1587V1590.9M503.4 1587V1590.9M513.7 1587V1590.9M534.3 1587V1590.9M544.6 1587V1590.9M555.0 1587V1590.9M565.3 1587V1590.9M575.6 1587V1590.9M585.9 1587V1590.9M596.2 1587V1590.9M606.6 1587V1590.9M616.9 1587V1590.9M637.5 1587V1590.9M647.8 1587V1590.9M658.2 1587V1590.9M668.5 1587V1590.9M678.8 1587V1590.9M689.1 1587V1590.9M699.4 1587V1590.9M709.8 1587V1590.9M720.1 1587V1590.9M740.7 1587V1590.9M751.0 1587V1590.9M761.4 1587V1590.9M771.7 1587V1590.9M782.0 1587V1590.9M792.3 1587V1590.9M802.6 1587V1590.9M813.0 1587V1590.9M823.3 1587V1590.9M843.9 1587V1590.9M854.2 1587V1590.9M864.6 1587V1590.9M874.9 1587V1590.9M885.2 1587V1590.9M895.5 1587V1590.9M905.8 1587V1590.9M916.2 1587V1590.9M926.5 1587V1590.9M947.1 1587V1590.9M957.4 1587V1590.9M967.8 1587V1590.9M978.1 1587V1590.9M988.4 1587V1590.9M998.7 1587V1590.9M1009.0 1587V1590.9M1019.4 1587V1590.9M1029.7 1587V1590.9M1050.3 1587V1590.9M1060.6 1587V1590.9M1071.0 1587V1590.9M1081.3 1587V1590.9M1091.6 1587V1590.9M1101.9 1587V1590.9M1112.2 1587V1590.9M1122.6 1587V1590.9M1132.9 1587V1590.9M1153.5 1587V1590.9M1163.8 1587V1590.9M1174.2 1587V1590.9M1184.5 1587V1590.9M1194.8 1587V1590.9M1205.1 1587V1590.9M1215.4 1587V1590.9M1225.8 1587V1590.9M1236.1 1587V1590.9" stroke="#0a0a0a" stroke-width="1.4" fill="none"/>
<text x="212.5" y="1650" font-size="34.5" text-anchor="middle">-60</text>
<text x="318" y="1650" font-size="34.5" text-anchor="middle">-40</text>
<text x="427" y="1651" font-size="34.5" text-anchor="middle">-20</text>
<text x="524.3" y="1651" font-size="34.5" text-anchor="middle">0</text>
<text x="631.6" y="1651" font-size="34.5" text-anchor="middle">20</text>
<text x="733.7" y="1651" font-size="34.5" text-anchor="middle">40</text>
<text x="827.8" y="1653.5" font-size="34.5" text-anchor="middle">60</text>
<text x="938.4" y="1651" font-size="34.5" text-anchor="middle">80</text>
<text x="1047.8" y="1649.5" font-size="34.5" text-anchor="middle">100</text>
<text x="1156.6" y="1649.5" font-size="34.5" text-anchor="middle">120</text>
<text x="583.8" y="1693.5" font-size="34.75" text-anchor="start">Time (ms)</text>
<text transform="translate(522 1295) scale(1.45 1)" font-size="53">1</text>
<text transform="translate(605 1236.5) scale(1.45 1)" font-size="53">2</text>
<text transform="translate(615 1400.5) scale(1.45 1)" font-size="53">3</text>
<text transform="translate(721.5 1422.7) scale(1.45 1)" font-size="53">4</text>
<text transform="translate(887.5 1524) scale(1.52 1)" font-size="51.5">Inh.</text>
</svg></body></html>
